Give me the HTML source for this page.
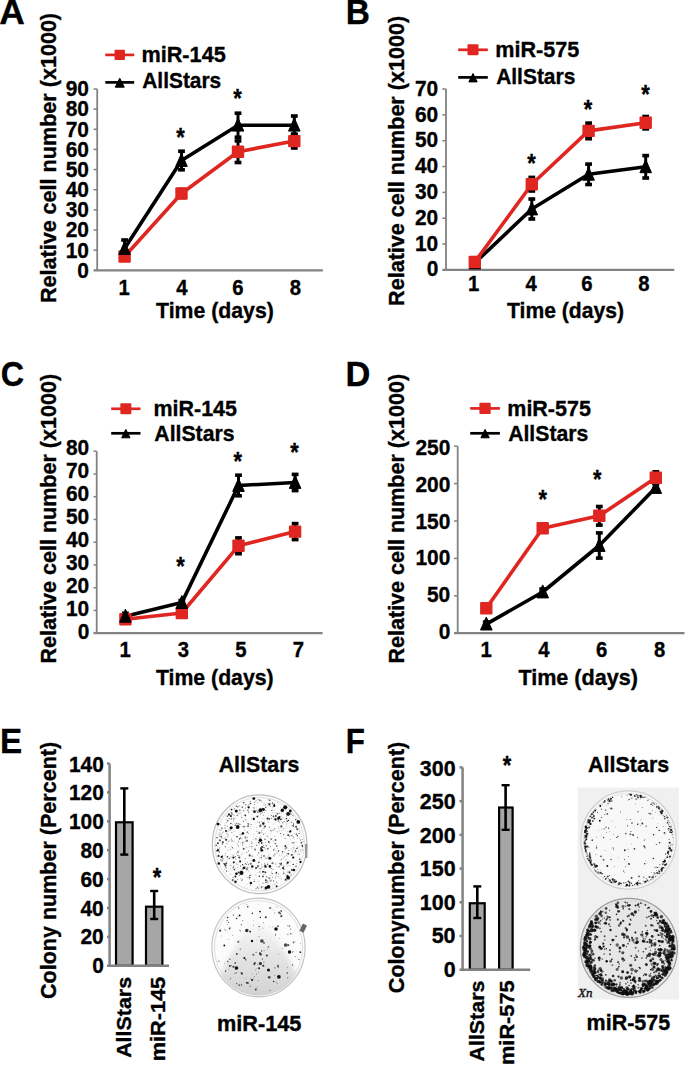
<!DOCTYPE html>
<html><head><meta charset="utf-8"><title>Figure</title>
<style>html,body{margin:0;padding:0;background:#fff;width:685px;height:1065px;overflow:hidden;}svg{display:block;font-family:"Liberation Sans",sans-serif;}</style>
</head><body>
<svg width="685" height="1065" viewBox="0 0 685 1065" font-family="Liberation Sans, sans-serif" font-weight="bold">
<style>text{stroke:#000;stroke-width:0.35px;}</style>
<rect width="685" height="1065" fill="#fff"/>
<defs><radialGradient id="smudge" cx="0.5" cy="0.5" r="0.5"><stop offset="0" stop-color="#c9c9c9" stop-opacity="0.85"/><stop offset="0.6" stop-color="#d4d4d4" stop-opacity="0.5"/><stop offset="1" stop-color="#dddddd" stop-opacity="0"/></radialGradient><radialGradient id="rimF" cx="0.5" cy="0.5" r="0.5"><stop offset="0.80" stop-color="#000" stop-opacity="0"/><stop offset="0.93" stop-color="#000" stop-opacity="0.25"/><stop offset="1" stop-color="#000" stop-opacity="0.5"/></radialGradient><filter id="bl" x="-10%" y="-10%" width="120%" height="120%"><feGaussianBlur stdDeviation="0.45"/></filter><filter id="bl2" x="-20%" y="-20%" width="140%" height="140%"><feGaussianBlur stdDeviation="2.5"/></filter></defs>
<ellipse cx="259.6" cy="844.2" rx="47.3" ry="49.4" fill="#fcfcfc" stroke="#bdbdbd" stroke-width="1.2"/><ellipse cx="259.6" cy="844.2" rx="44.8" ry="46.9" fill="none" stroke="#d6d6d6" stroke-width="0.8"/>
<g filter="url(#bl)">
<circle cx="256.5" cy="844.9" r="0.36" fill="#111" fill-opacity="0.80"/>
<circle cx="271.4" cy="872.0" r="0.39" fill="#111" fill-opacity="0.64"/>
<circle cx="287.8" cy="862.6" r="1.07" fill="#111" fill-opacity="0.99"/>
<circle cx="273.6" cy="855.2" r="0.35" fill="#111" fill-opacity="0.81"/>
<circle cx="261.3" cy="857.5" r="0.63" fill="#111" fill-opacity="0.78"/>
<circle cx="278.5" cy="826.7" r="0.39" fill="#111" fill-opacity="0.63"/>
<circle cx="283.8" cy="834.7" r="0.43" fill="#111" fill-opacity="0.98"/>
<circle cx="250.3" cy="803.6" r="0.76" fill="#111" fill-opacity="0.71"/>
<circle cx="222.0" cy="828.3" r="0.74" fill="#111" fill-opacity="0.65"/>
<circle cx="236.5" cy="806.3" r="0.79" fill="#111" fill-opacity="0.67"/>
<circle cx="265.0" cy="839.2" r="0.70" fill="#111" fill-opacity="0.65"/>
<circle cx="272.7" cy="807.8" r="0.37" fill="#111" fill-opacity="0.71"/>
<circle cx="241.8" cy="880.8" r="0.43" fill="#111" fill-opacity="0.94"/>
<circle cx="233.5" cy="821.2" r="0.40" fill="#111" fill-opacity="0.72"/>
<circle cx="267.1" cy="819.8" r="0.42" fill="#111" fill-opacity="0.78"/>
<circle cx="301.4" cy="842.7" r="0.88" fill="#111" fill-opacity="0.67"/>
<circle cx="288.5" cy="820.4" r="0.71" fill="#111" fill-opacity="0.98"/>
<circle cx="294.4" cy="854.0" r="0.35" fill="#111" fill-opacity="0.62"/>
<circle cx="278.2" cy="821.1" r="0.57" fill="#111" fill-opacity="0.72"/>
<circle cx="230.1" cy="865.1" r="0.37" fill="#111" fill-opacity="0.82"/>
<circle cx="291.7" cy="855.1" r="0.96" fill="#111" fill-opacity="0.68"/>
<circle cx="254.7" cy="802.4" r="0.42" fill="#111" fill-opacity="0.83"/>
<circle cx="226.1" cy="831.1" r="1.07" fill="#111" fill-opacity="0.86"/>
<circle cx="277.0" cy="852.2" r="0.35" fill="#111" fill-opacity="0.61"/>
<circle cx="296.9" cy="863.3" r="0.35" fill="#111" fill-opacity="0.85"/>
<circle cx="258.0" cy="866.1" r="1.10" fill="#111" fill-opacity="0.63"/>
<circle cx="281.2" cy="863.6" r="0.96" fill="#111" fill-opacity="0.74"/>
<circle cx="276.4" cy="882.3" r="0.44" fill="#111" fill-opacity="0.92"/>
<circle cx="292.7" cy="851.1" r="0.42" fill="#111" fill-opacity="0.83"/>
<circle cx="269.5" cy="804.3" r="1.09" fill="#111" fill-opacity="0.95"/>
<circle cx="280.4" cy="833.6" r="0.55" fill="#111" fill-opacity="0.78"/>
<circle cx="268.8" cy="842.4" r="0.67" fill="#111" fill-opacity="0.80"/>
<circle cx="270.0" cy="884.1" r="0.35" fill="#111" fill-opacity="0.72"/>
<circle cx="275.8" cy="815.9" r="0.94" fill="#111" fill-opacity="0.86"/>
<circle cx="254.3" cy="881.4" r="0.63" fill="#111" fill-opacity="0.68"/>
<circle cx="294.2" cy="833.2" r="0.40" fill="#111" fill-opacity="0.65"/>
<circle cx="259.3" cy="876.2" r="0.68" fill="#111" fill-opacity="0.98"/>
<circle cx="239.3" cy="812.8" r="0.38" fill="#111" fill-opacity="0.69"/>
<circle cx="251.8" cy="856.1" r="0.40" fill="#111" fill-opacity="0.94"/>
<circle cx="278.6" cy="850.9" r="0.78" fill="#111" fill-opacity="0.61"/>
<circle cx="226.5" cy="839.9" r="0.83" fill="#111" fill-opacity="0.69"/>
<circle cx="271.4" cy="839.1" r="0.62" fill="#111" fill-opacity="0.92"/>
<circle cx="232.2" cy="841.8" r="0.35" fill="#111" fill-opacity="0.79"/>
<circle cx="279.1" cy="813.7" r="0.41" fill="#111" fill-opacity="0.88"/>
<circle cx="261.5" cy="855.1" r="0.43" fill="#111" fill-opacity="0.92"/>
<circle cx="225.9" cy="839.8" r="0.95" fill="#111" fill-opacity="0.75"/>
<circle cx="265.9" cy="880.2" r="1.00" fill="#111" fill-opacity="0.79"/>
<circle cx="273.4" cy="816.2" r="0.81" fill="#111" fill-opacity="0.86"/>
<circle cx="279.4" cy="817.0" r="1.07" fill="#111" fill-opacity="0.99"/>
<circle cx="263.0" cy="871.8" r="0.95" fill="#111" fill-opacity="0.94"/>
<circle cx="245.8" cy="804.6" r="0.53" fill="#111" fill-opacity="0.91"/>
<circle cx="258.5" cy="799.4" r="0.35" fill="#111" fill-opacity="0.92"/>
<circle cx="229.8" cy="828.5" r="0.36" fill="#111" fill-opacity="0.66"/>
<circle cx="258.9" cy="886.9" r="0.37" fill="#111" fill-opacity="0.81"/>
<circle cx="240.5" cy="865.9" r="0.51" fill="#111" fill-opacity="0.94"/>
<circle cx="265.1" cy="826.3" r="0.85" fill="#111" fill-opacity="0.96"/>
<circle cx="233.0" cy="877.5" r="0.51" fill="#111" fill-opacity="0.83"/>
<circle cx="232.4" cy="847.6" r="0.57" fill="#111" fill-opacity="0.61"/>
<circle cx="302.3" cy="845.7" r="0.79" fill="#111" fill-opacity="0.83"/>
<circle cx="258.8" cy="862.3" r="0.52" fill="#111" fill-opacity="0.77"/>
<circle cx="238.6" cy="841.7" r="0.45" fill="#111" fill-opacity="0.93"/>
<circle cx="296.1" cy="842.0" r="0.36" fill="#111" fill-opacity="0.85"/>
<circle cx="231.8" cy="818.3" r="0.40" fill="#111" fill-opacity="0.74"/>
<circle cx="270.5" cy="806.7" r="0.35" fill="#111" fill-opacity="0.80"/>
<circle cx="236.9" cy="815.5" r="0.45" fill="#111" fill-opacity="0.75"/>
<circle cx="251.7" cy="847.0" r="0.37" fill="#111" fill-opacity="0.85"/>
<circle cx="269.8" cy="878.1" r="0.72" fill="#111" fill-opacity="0.92"/>
<circle cx="296.2" cy="826.7" r="0.97" fill="#111" fill-opacity="0.69"/>
<circle cx="226.3" cy="819.4" r="0.38" fill="#111" fill-opacity="0.64"/>
<circle cx="289.8" cy="836.8" r="0.36" fill="#111" fill-opacity="0.76"/>
<circle cx="260.1" cy="868.7" r="0.65" fill="#111" fill-opacity="0.68"/>
<circle cx="217.5" cy="849.1" r="0.54" fill="#111" fill-opacity="0.66"/>
<circle cx="230.9" cy="816.1" r="1.08" fill="#111" fill-opacity="0.97"/>
<circle cx="300.7" cy="840.6" r="0.40" fill="#111" fill-opacity="0.79"/>
<circle cx="261.0" cy="837.6" r="0.35" fill="#111" fill-opacity="0.88"/>
<circle cx="290.9" cy="813.9" r="0.71" fill="#111" fill-opacity="0.76"/>
<circle cx="231.9" cy="812.4" r="0.35" fill="#111" fill-opacity="0.96"/>
<circle cx="287.1" cy="863.6" r="0.60" fill="#111" fill-opacity="0.76"/>
<circle cx="287.3" cy="821.2" r="0.72" fill="#111" fill-opacity="0.91"/>
<circle cx="288.2" cy="835.2" r="0.90" fill="#111" fill-opacity="0.88"/>
<circle cx="283.9" cy="869.4" r="0.69" fill="#111" fill-opacity="0.63"/>
<circle cx="245.2" cy="841.2" r="0.41" fill="#111" fill-opacity="0.86"/>
<circle cx="274.7" cy="828.8" r="0.54" fill="#111" fill-opacity="0.81"/>
<circle cx="272.5" cy="863.3" r="1.06" fill="#111" fill-opacity="0.61"/>
<circle cx="270.1" cy="866.9" r="0.43" fill="#111" fill-opacity="0.62"/>
<circle cx="231.9" cy="832.4" r="0.38" fill="#111" fill-opacity="0.96"/>
<circle cx="272.2" cy="873.6" r="0.57" fill="#111" fill-opacity="0.90"/>
<circle cx="228.7" cy="841.5" r="0.49" fill="#111" fill-opacity="0.84"/>
<circle cx="252.4" cy="846.7" r="0.42" fill="#111" fill-opacity="0.71"/>
<circle cx="273.7" cy="850.0" r="0.69" fill="#111" fill-opacity="0.72"/>
<circle cx="288.4" cy="854.0" r="0.59" fill="#111" fill-opacity="0.78"/>
<circle cx="262.2" cy="808.5" r="0.63" fill="#111" fill-opacity="0.78"/>
<circle cx="238.0" cy="852.0" r="0.76" fill="#111" fill-opacity="0.81"/>
<circle cx="280.9" cy="819.3" r="0.92" fill="#111" fill-opacity="0.91"/>
<circle cx="271.0" cy="830.8" r="0.65" fill="#111" fill-opacity="0.83"/>
<circle cx="267.9" cy="856.8" r="0.36" fill="#111" fill-opacity="0.70"/>
<circle cx="252.8" cy="855.9" r="0.52" fill="#111" fill-opacity="0.63"/>
<circle cx="222.0" cy="860.9" r="0.60" fill="#111" fill-opacity="0.75"/>
<circle cx="257.6" cy="816.7" r="0.72" fill="#111" fill-opacity="0.94"/>
<circle cx="287.7" cy="856.0" r="0.37" fill="#111" fill-opacity="0.77"/>
<circle cx="237.6" cy="873.6" r="0.62" fill="#111" fill-opacity="1.00"/>
<circle cx="243.7" cy="848.8" r="0.97" fill="#111" fill-opacity="0.77"/>
<circle cx="247.7" cy="805.9" r="0.35" fill="#111" fill-opacity="0.63"/>
<circle cx="265.4" cy="842.8" r="0.39" fill="#111" fill-opacity="0.91"/>
<circle cx="274.4" cy="804.5" r="0.70" fill="#111" fill-opacity="0.88"/>
<circle cx="239.8" cy="810.3" r="0.70" fill="#111" fill-opacity="0.75"/>
<circle cx="224.8" cy="864.1" r="0.96" fill="#111" fill-opacity="0.98"/>
<circle cx="297.2" cy="838.3" r="0.39" fill="#111" fill-opacity="0.73"/>
<circle cx="250.5" cy="885.5" r="0.38" fill="#111" fill-opacity="0.74"/>
<circle cx="247.4" cy="831.2" r="0.43" fill="#111" fill-opacity="0.68"/>
<circle cx="265.4" cy="872.4" r="0.84" fill="#111" fill-opacity="0.83"/>
<circle cx="230.2" cy="868.8" r="0.39" fill="#111" fill-opacity="0.61"/>
<circle cx="261.0" cy="848.4" r="1.04" fill="#111" fill-opacity="0.86"/>
<circle cx="263.9" cy="871.6" r="0.35" fill="#111" fill-opacity="0.89"/>
<circle cx="271.8" cy="810.4" r="0.62" fill="#111" fill-opacity="0.70"/>
<circle cx="234.2" cy="869.4" r="0.74" fill="#111" fill-opacity="0.76"/>
<circle cx="275.3" cy="843.6" r="0.69" fill="#111" fill-opacity="0.88"/>
<circle cx="297.4" cy="835.7" r="0.63" fill="#111" fill-opacity="0.94"/>
<circle cx="287.4" cy="875.9" r="1.03" fill="#111" fill-opacity="0.86"/>
<circle cx="261.8" cy="864.2" r="0.44" fill="#111" fill-opacity="0.77"/>
<circle cx="248.3" cy="812.6" r="0.45" fill="#111" fill-opacity="0.72"/>
<circle cx="242.2" cy="807.6" r="0.76" fill="#111" fill-opacity="0.67"/>
<circle cx="219.8" cy="840.3" r="0.95" fill="#111" fill-opacity="0.61"/>
<circle cx="233.9" cy="819.1" r="0.57" fill="#111" fill-opacity="0.69"/>
<circle cx="230.9" cy="823.4" r="0.74" fill="#111" fill-opacity="0.72"/>
<circle cx="264.0" cy="874.3" r="0.38" fill="#111" fill-opacity="0.95"/>
<circle cx="297.3" cy="829.2" r="1.02" fill="#111" fill-opacity="0.79"/>
<circle cx="249.1" cy="846.8" r="0.38" fill="#111" fill-opacity="1.00"/>
<circle cx="273.9" cy="819.3" r="0.47" fill="#111" fill-opacity="0.75"/>
<circle cx="286.6" cy="864.5" r="0.36" fill="#111" fill-opacity="0.66"/>
<circle cx="243.4" cy="821.3" r="0.50" fill="#111" fill-opacity="0.85"/>
<circle cx="262.7" cy="811.0" r="0.35" fill="#111" fill-opacity="0.93"/>
<circle cx="291.1" cy="874.8" r="0.38" fill="#111" fill-opacity="0.89"/>
<circle cx="222.9" cy="842.3" r="1.02" fill="#111" fill-opacity="0.83"/>
<circle cx="292.1" cy="825.5" r="0.44" fill="#111" fill-opacity="0.97"/>
<circle cx="233.1" cy="848.3" r="0.36" fill="#111" fill-opacity="0.93"/>
<circle cx="242.4" cy="826.2" r="0.39" fill="#111" fill-opacity="0.79"/>
<circle cx="279.2" cy="830.9" r="0.35" fill="#111" fill-opacity="0.76"/>
<circle cx="256.1" cy="888.6" r="0.62" fill="#111" fill-opacity="0.60"/>
<circle cx="248.4" cy="864.2" r="0.54" fill="#111" fill-opacity="0.78"/>
<circle cx="286.8" cy="816.3" r="0.39" fill="#111" fill-opacity="0.75"/>
<circle cx="263.2" cy="825.0" r="0.43" fill="#111" fill-opacity="0.87"/>
<circle cx="237.4" cy="815.7" r="0.40" fill="#111" fill-opacity="0.98"/>
<circle cx="265.3" cy="865.5" r="0.83" fill="#111" fill-opacity="0.64"/>
<circle cx="275.8" cy="864.0" r="0.43" fill="#111" fill-opacity="0.93"/>
<circle cx="268.0" cy="805.3" r="0.36" fill="#111" fill-opacity="0.65"/>
<circle cx="251.1" cy="803.6" r="0.45" fill="#111" fill-opacity="0.80"/>
<circle cx="273.0" cy="869.6" r="0.43" fill="#111" fill-opacity="0.73"/>
<circle cx="286.0" cy="859.4" r="0.35" fill="#111" fill-opacity="0.73"/>
<circle cx="245.2" cy="858.5" r="0.42" fill="#111" fill-opacity="0.80"/>
<circle cx="285.9" cy="875.1" r="0.36" fill="#111" fill-opacity="0.91"/>
<circle cx="296.3" cy="848.8" r="0.49" fill="#111" fill-opacity="0.66"/>
<circle cx="271.2" cy="815.5" r="0.38" fill="#111" fill-opacity="0.83"/>
<circle cx="247.0" cy="840.7" r="1.05" fill="#111" fill-opacity="0.65"/>
<circle cx="296.4" cy="848.3" r="0.54" fill="#111" fill-opacity="0.71"/>
<circle cx="288.5" cy="853.8" r="0.82" fill="#111" fill-opacity="0.72"/>
<circle cx="295.7" cy="819.6" r="0.83" fill="#111" fill-opacity="0.67"/>
<circle cx="264.0" cy="803.9" r="0.36" fill="#111" fill-opacity="0.99"/>
<circle cx="299.6" cy="859.2" r="0.64" fill="#111" fill-opacity="0.90"/>
<circle cx="256.7" cy="810.3" r="0.54" fill="#111" fill-opacity="0.67"/>
<circle cx="261.4" cy="821.7" r="0.40" fill="#111" fill-opacity="0.86"/>
<circle cx="268.7" cy="841.3" r="0.59" fill="#111" fill-opacity="0.88"/>
<circle cx="283.1" cy="868.1" r="1.09" fill="#111" fill-opacity="0.94"/>
<circle cx="291.9" cy="835.6" r="0.54" fill="#111" fill-opacity="0.96"/>
<circle cx="262.0" cy="846.6" r="0.94" fill="#111" fill-opacity="0.73"/>
<circle cx="296.0" cy="866.2" r="0.73" fill="#111" fill-opacity="0.72"/>
<circle cx="268.1" cy="803.3" r="0.46" fill="#111" fill-opacity="0.80"/>
<circle cx="250.2" cy="801.6" r="0.51" fill="#111" fill-opacity="0.70"/>
<circle cx="242.0" cy="834.3" r="0.35" fill="#111" fill-opacity="0.96"/>
<circle cx="293.0" cy="836.7" r="0.37" fill="#111" fill-opacity="0.90"/>
<circle cx="265.7" cy="882.5" r="0.78" fill="#111" fill-opacity="0.65"/>
<circle cx="263.0" cy="887.0" r="0.38" fill="#111" fill-opacity="0.72"/>
<circle cx="243.7" cy="802.7" r="0.81" fill="#111" fill-opacity="0.76"/>
<circle cx="246.5" cy="852.3" r="0.35" fill="#111" fill-opacity="0.96"/>
<circle cx="303.0" cy="841.6" r="0.39" fill="#111" fill-opacity="0.97"/>
<circle cx="290.4" cy="830.3" r="0.36" fill="#111" fill-opacity="0.95"/>
<circle cx="271.6" cy="814.9" r="0.35" fill="#111" fill-opacity="0.64"/>
<circle cx="293.2" cy="864.4" r="0.66" fill="#111" fill-opacity="0.98"/>
<circle cx="254.6" cy="804.2" r="0.39" fill="#111" fill-opacity="0.88"/>
<circle cx="232.0" cy="813.9" r="0.63" fill="#111" fill-opacity="0.92"/>
<circle cx="267.8" cy="818.5" r="0.97" fill="#111" fill-opacity="0.87"/>
<circle cx="239.3" cy="857.5" r="1.07" fill="#111" fill-opacity="0.78"/>
<circle cx="262.2" cy="847.1" r="0.57" fill="#111" fill-opacity="0.71"/>
<circle cx="236.9" cy="873.0" r="0.39" fill="#111" fill-opacity="0.90"/>
<circle cx="236.5" cy="823.2" r="0.36" fill="#111" fill-opacity="0.96"/>
<circle cx="256.1" cy="868.0" r="0.98" fill="#111" fill-opacity="0.80"/>
<circle cx="230.5" cy="849.5" r="0.41" fill="#111" fill-opacity="0.86"/>
<circle cx="285.4" cy="845.8" r="0.85" fill="#111" fill-opacity="0.87"/>
<circle cx="261.5" cy="887.1" r="0.76" fill="#111" fill-opacity="0.67"/>
<circle cx="269.4" cy="819.1" r="0.75" fill="#111" fill-opacity="0.91"/>
<circle cx="286.1" cy="819.1" r="0.37" fill="#111" fill-opacity="0.83"/>
<circle cx="259.5" cy="800.1" r="0.68" fill="#111" fill-opacity="0.83"/>
<circle cx="259.2" cy="838.0" r="0.38" fill="#111" fill-opacity="0.92"/>
<circle cx="235.8" cy="810.6" r="0.35" fill="#111" fill-opacity="0.73"/>
<circle cx="270.6" cy="846.6" r="0.56" fill="#111" fill-opacity="0.64"/>
<circle cx="288.8" cy="813.0" r="0.36" fill="#111" fill-opacity="0.88"/>
<circle cx="289.7" cy="871.4" r="0.44" fill="#111" fill-opacity="0.75"/>
<circle cx="217.9" cy="843.2" r="1.08" fill="#111" fill-opacity="0.66"/>
<circle cx="255.5" cy="867.5" r="0.37" fill="#111" fill-opacity="0.96"/>
<circle cx="227.0" cy="834.0" r="0.45" fill="#111" fill-opacity="0.63"/>
<circle cx="283.6" cy="866.4" r="0.38" fill="#111" fill-opacity="0.82"/>
<circle cx="269.7" cy="800.5" r="0.62" fill="#111" fill-opacity="0.62"/>
<circle cx="267.8" cy="880.9" r="0.43" fill="#111" fill-opacity="0.94"/>
<circle cx="248.8" cy="870.9" r="0.41" fill="#111" fill-opacity="0.67"/>
<circle cx="264.1" cy="812.3" r="0.37" fill="#111" fill-opacity="0.79"/>
<circle cx="275.9" cy="878.7" r="0.42" fill="#111" fill-opacity="0.63"/>
<circle cx="277.0" cy="831.2" r="0.35" fill="#111" fill-opacity="0.67"/>
<circle cx="279.2" cy="822.2" r="0.36" fill="#111" fill-opacity="0.97"/>
<circle cx="246.8" cy="869.4" r="0.94" fill="#111" fill-opacity="0.61"/>
<circle cx="243.4" cy="833.2" r="0.91" fill="#111" fill-opacity="0.73"/>
<circle cx="284.2" cy="846.0" r="0.43" fill="#111" fill-opacity="0.70"/>
<circle cx="268.3" cy="799.7" r="0.45" fill="#111" fill-opacity="0.82"/>
<circle cx="226.5" cy="863.8" r="0.70" fill="#111" fill-opacity="0.87"/>
<circle cx="227.5" cy="816.2" r="0.68" fill="#111" fill-opacity="0.76"/>
<circle cx="249.3" cy="879.0" r="0.39" fill="#111" fill-opacity="0.74"/>
<circle cx="233.8" cy="862.2" r="1.02" fill="#111" fill-opacity="0.95"/>
<circle cx="235.4" cy="856.8" r="0.45" fill="#111" fill-opacity="0.76"/>
<circle cx="219.6" cy="833.1" r="0.49" fill="#111" fill-opacity="0.71"/>
<circle cx="228.5" cy="834.9" r="0.36" fill="#111" fill-opacity="0.87"/>
<circle cx="245.2" cy="836.8" r="0.56" fill="#111" fill-opacity="0.88"/>
<circle cx="264.4" cy="863.2" r="0.43" fill="#111" fill-opacity="0.75"/>
<circle cx="219.8" cy="835.1" r="0.49" fill="#111" fill-opacity="0.83"/>
<circle cx="256.8" cy="827.6" r="0.35" fill="#111" fill-opacity="0.74"/>
<circle cx="295.3" cy="850.4" r="0.63" fill="#111" fill-opacity="0.67"/>
<circle cx="284.3" cy="856.3" r="0.44" fill="#111" fill-opacity="0.77"/>
<circle cx="239.2" cy="875.5" r="0.42" fill="#111" fill-opacity="0.96"/>
<circle cx="260.2" cy="826.0" r="1.06" fill="#111" fill-opacity="0.66"/>
<circle cx="231.6" cy="818.4" r="0.37" fill="#111" fill-opacity="0.60"/>
<circle cx="263.6" cy="834.1" r="0.49" fill="#111" fill-opacity="0.86"/>
<circle cx="264.0" cy="856.0" r="0.83" fill="#111" fill-opacity="0.99"/>
<circle cx="242.6" cy="864.7" r="0.65" fill="#111" fill-opacity="0.99"/>
<circle cx="289.1" cy="811.8" r="0.49" fill="#111" fill-opacity="0.83"/>
<circle cx="247.7" cy="823.8" r="0.52" fill="#111" fill-opacity="0.69"/>
<circle cx="236.8" cy="827.6" r="0.50" fill="#111" fill-opacity="0.65"/>
<circle cx="223.4" cy="863.7" r="0.46" fill="#111" fill-opacity="0.91"/>
<circle cx="257.8" cy="812.1" r="0.89" fill="#111" fill-opacity="0.62"/>
<circle cx="237.2" cy="844.9" r="0.43" fill="#111" fill-opacity="0.89"/>
<circle cx="237.0" cy="864.7" r="0.40" fill="#111" fill-opacity="0.90"/>
<circle cx="290.8" cy="875.4" r="0.44" fill="#111" fill-opacity="0.88"/>
<circle cx="270.8" cy="875.6" r="0.36" fill="#111" fill-opacity="0.75"/>
<circle cx="275.0" cy="818.6" r="0.35" fill="#111" fill-opacity="0.83"/>
<circle cx="226.3" cy="862.0" r="0.60" fill="#111" fill-opacity="0.76"/>
<circle cx="225.0" cy="828.1" r="0.52" fill="#111" fill-opacity="0.79"/>
<circle cx="248.1" cy="826.1" r="0.84" fill="#111" fill-opacity="0.71"/>
<circle cx="249.7" cy="855.4" r="1.07" fill="#111" fill-opacity="0.76"/>
<circle cx="277.3" cy="848.6" r="0.36" fill="#111" fill-opacity="0.67"/>
<circle cx="237.0" cy="843.1" r="0.40" fill="#111" fill-opacity="0.61"/>
<circle cx="265.6" cy="810.3" r="0.38" fill="#111" fill-opacity="0.69"/>
<circle cx="258.0" cy="831.5" r="0.35" fill="#111" fill-opacity="0.63"/>
<circle cx="295.3" cy="826.1" r="0.36" fill="#111" fill-opacity="0.79"/>
<circle cx="293.0" cy="842.7" r="0.80" fill="#111" fill-opacity="0.76"/>
<circle cx="219.3" cy="849.0" r="0.59" fill="#111" fill-opacity="0.71"/>
<circle cx="290.0" cy="865.6" r="0.35" fill="#111" fill-opacity="0.67"/>
<circle cx="246.8" cy="868.3" r="0.50" fill="#111" fill-opacity="0.60"/>
<circle cx="287.8" cy="872.0" r="0.43" fill="#111" fill-opacity="0.92"/>
<circle cx="250.7" cy="863.7" r="0.95" fill="#111" fill-opacity="0.61"/>
<circle cx="266.6" cy="818.3" r="0.42" fill="#111" fill-opacity="0.86"/>
<circle cx="287.9" cy="831.3" r="0.41" fill="#111" fill-opacity="0.71"/>
<circle cx="296.5" cy="827.3" r="0.40" fill="#111" fill-opacity="0.90"/>
<circle cx="233.3" cy="867.3" r="0.65" fill="#111" fill-opacity="0.67"/>
<circle cx="246.0" cy="837.6" r="0.49" fill="#111" fill-opacity="0.76"/>
<circle cx="243.3" cy="868.3" r="1.08" fill="#111" fill-opacity="0.77"/>
<circle cx="251.2" cy="863.8" r="0.38" fill="#111" fill-opacity="0.87"/>
<circle cx="227.6" cy="857.0" r="0.61" fill="#111" fill-opacity="0.68"/>
<circle cx="270.2" cy="881.0" r="0.60" fill="#111" fill-opacity="0.80"/>
<circle cx="265.8" cy="807.5" r="0.66" fill="#111" fill-opacity="0.78"/>
<circle cx="274.7" cy="836.5" r="0.37" fill="#111" fill-opacity="0.84"/>
<circle cx="266.2" cy="845.6" r="0.59" fill="#111" fill-opacity="0.78"/>
<circle cx="281.3" cy="826.4" r="1.08" fill="#111" fill-opacity="0.76"/>
<circle cx="235.4" cy="876.5" r="0.99" fill="#111" fill-opacity="0.93"/>
<circle cx="278.9" cy="820.5" r="0.46" fill="#111" fill-opacity="0.81"/>
<circle cx="292.9" cy="815.3" r="0.61" fill="#111" fill-opacity="0.63"/>
<circle cx="264.6" cy="871.5" r="0.37" fill="#111" fill-opacity="0.92"/>
<circle cx="291.9" cy="869.9" r="0.94" fill="#111" fill-opacity="0.92"/>
<circle cx="227.9" cy="831.5" r="0.35" fill="#111" fill-opacity="0.74"/>
<circle cx="249.5" cy="877.4" r="0.94" fill="#111" fill-opacity="0.63"/>
<circle cx="271.4" cy="880.0" r="0.37" fill="#111" fill-opacity="0.87"/>
<circle cx="245.0" cy="826.7" r="0.38" fill="#111" fill-opacity="0.84"/>
<circle cx="277.3" cy="813.9" r="0.66" fill="#111" fill-opacity="0.79"/>
<circle cx="299.7" cy="854.7" r="0.37" fill="#111" fill-opacity="1.00"/>
<circle cx="277.0" cy="866.6" r="0.40" fill="#111" fill-opacity="0.76"/>
<circle cx="227.4" cy="856.7" r="0.82" fill="#111" fill-opacity="0.76"/>
<circle cx="245.6" cy="863.5" r="0.55" fill="#111" fill-opacity="0.71"/>
<circle cx="293.5" cy="823.9" r="0.64" fill="#111" fill-opacity="0.78"/>
<circle cx="299.1" cy="833.5" r="0.57" fill="#111" fill-opacity="0.78"/>
<circle cx="219.9" cy="836.5" r="0.46" fill="#111" fill-opacity="0.98"/>
<circle cx="240.8" cy="862.7" r="0.38" fill="#111" fill-opacity="0.76"/>
<circle cx="237.0" cy="836.7" r="0.82" fill="#111" fill-opacity="0.94"/>
<circle cx="267.9" cy="848.6" r="0.93" fill="#111" fill-opacity="0.64"/>
<circle cx="247.2" cy="832.3" r="0.64" fill="#111" fill-opacity="0.74"/>
<circle cx="256.8" cy="831.1" r="0.40" fill="#111" fill-opacity="0.87"/>
<circle cx="250.1" cy="875.4" r="0.67" fill="#111" fill-opacity="1.00"/>
<circle cx="220.2" cy="840.6" r="0.62" fill="#111" fill-opacity="0.69"/>
<circle cx="247.8" cy="810.3" r="0.72" fill="#111" fill-opacity="0.63"/>
<circle cx="229.3" cy="858.4" r="0.72" fill="#111" fill-opacity="0.70"/>
<circle cx="287.9" cy="866.1" r="0.35" fill="#111" fill-opacity="0.79"/>
<circle cx="262.9" cy="847.4" r="0.77" fill="#111" fill-opacity="0.72"/>
<circle cx="260.3" cy="808.5" r="0.36" fill="#111" fill-opacity="0.64"/>
<circle cx="260.7" cy="824.6" r="0.38" fill="#111" fill-opacity="0.77"/>
<circle cx="255.2" cy="849.7" r="0.86" fill="#111" fill-opacity="0.64"/>
<circle cx="302.4" cy="846.6" r="0.58" fill="#111" fill-opacity="0.95"/>
<circle cx="301.8" cy="836.0" r="0.36" fill="#111" fill-opacity="0.93"/>
<circle cx="280.9" cy="864.4" r="0.51" fill="#111" fill-opacity="0.61"/>
<circle cx="272.6" cy="877.2" r="0.44" fill="#111" fill-opacity="0.63"/>
<circle cx="237.8" cy="807.3" r="0.40" fill="#111" fill-opacity="0.80"/>
<circle cx="273.6" cy="880.9" r="0.54" fill="#111" fill-opacity="0.80"/>
<circle cx="296.4" cy="834.2" r="0.71" fill="#111" fill-opacity="0.70"/>
<circle cx="247.6" cy="837.5" r="0.41" fill="#111" fill-opacity="0.77"/>
<circle cx="255.1" cy="801.4" r="0.35" fill="#111" fill-opacity="0.81"/>
<circle cx="263.9" cy="834.7" r="0.35" fill="#111" fill-opacity="0.75"/>
<circle cx="242.7" cy="842.7" r="0.73" fill="#111" fill-opacity="0.79"/>
<circle cx="268.1" cy="888.0" r="0.57" fill="#111" fill-opacity="0.75"/>
<circle cx="241.5" cy="854.6" r="0.40" fill="#111" fill-opacity="0.80"/>
<circle cx="261.1" cy="868.3" r="0.35" fill="#111" fill-opacity="0.70"/>
<circle cx="238.7" cy="872.3" r="0.87" fill="#111" fill-opacity="0.76"/>
<circle cx="240.1" cy="861.3" r="1.07" fill="#111" fill-opacity="0.93"/>
<circle cx="244.0" cy="826.8" r="0.77" fill="#111" fill-opacity="0.86"/>
<circle cx="218.5" cy="856.0" r="0.98" fill="#111" fill-opacity="0.86"/>
<circle cx="282.6" cy="851.8" r="0.71" fill="#111" fill-opacity="0.77"/>
<circle cx="285.2" cy="838.5" r="0.42" fill="#111" fill-opacity="0.78"/>
<circle cx="253.9" cy="807.9" r="0.71" fill="#111" fill-opacity="0.63"/>
<circle cx="274.7" cy="848.8" r="0.35" fill="#111" fill-opacity="0.72"/>
<circle cx="300.9" cy="849.9" r="0.37" fill="#111" fill-opacity="0.77"/>
<circle cx="262.9" cy="876.4" r="0.89" fill="#111" fill-opacity="0.79"/>
<circle cx="217.0" cy="837.7" r="0.64" fill="#111" fill-opacity="0.97"/>
<circle cx="259.0" cy="862.2" r="0.76" fill="#111" fill-opacity="0.64"/>
<circle cx="281.7" cy="812.5" r="0.37" fill="#111" fill-opacity="0.74"/>
<circle cx="229.0" cy="829.9" r="0.51" fill="#111" fill-opacity="0.76"/>
<circle cx="266.4" cy="876.7" r="0.56" fill="#111" fill-opacity="0.79"/>
<circle cx="277.6" cy="818.9" r="0.70" fill="#111" fill-opacity="0.83"/>
<circle cx="289.2" cy="832.6" r="0.45" fill="#111" fill-opacity="0.85"/>
<circle cx="265.0" cy="889.4" r="0.46" fill="#111" fill-opacity="0.79"/>
<circle cx="235.2" cy="868.2" r="0.39" fill="#111" fill-opacity="0.94"/>
<circle cx="265.8" cy="849.1" r="0.36" fill="#111" fill-opacity="0.98"/>
<circle cx="283.7" cy="873.2" r="0.77" fill="#111" fill-opacity="0.69"/>
<circle cx="232.2" cy="847.5" r="0.35" fill="#111" fill-opacity="0.91"/>
<circle cx="267.1" cy="882.1" r="0.66" fill="#111" fill-opacity="0.75"/>
<circle cx="240.6" cy="878.2" r="0.38" fill="#111" fill-opacity="0.70"/>
<circle cx="237.2" cy="824.5" r="0.36" fill="#111" fill-opacity="0.79"/>
<circle cx="238.9" cy="823.8" r="0.50" fill="#111" fill-opacity="0.95"/>
<circle cx="291.9" cy="854.6" r="0.71" fill="#111" fill-opacity="0.81"/>
<circle cx="274.2" cy="884.0" r="0.38" fill="#111" fill-opacity="0.62"/>
<circle cx="299.3" cy="831.2" r="0.37" fill="#111" fill-opacity="0.78"/>
<circle cx="260.1" cy="850.5" r="0.37" fill="#111" fill-opacity="0.98"/>
<circle cx="273.9" cy="803.5" r="0.35" fill="#111" fill-opacity="0.83"/>
<circle cx="242.2" cy="879.6" r="0.63" fill="#111" fill-opacity="0.63"/>
<circle cx="216.8" cy="850.9" r="0.65" fill="#111" fill-opacity="0.94"/>
<circle cx="285.5" cy="846.2" r="0.51" fill="#111" fill-opacity="0.67"/>
<circle cx="262.0" cy="830.4" r="0.37" fill="#111" fill-opacity="0.88"/>
<circle cx="252.1" cy="842.9" r="0.48" fill="#111" fill-opacity="0.82"/>
<circle cx="302.6" cy="850.0" r="0.39" fill="#111" fill-opacity="0.73"/>
<circle cx="258.7" cy="852.8" r="0.58" fill="#111" fill-opacity="0.85"/>
<circle cx="261.4" cy="887.9" r="0.35" fill="#111" fill-opacity="0.95"/>
<circle cx="276.8" cy="846.1" r="0.73" fill="#111" fill-opacity="0.92"/>
<circle cx="289.9" cy="835.4" r="0.41" fill="#111" fill-opacity="0.61"/>
<circle cx="284.2" cy="821.6" r="0.51" fill="#111" fill-opacity="0.73"/>
<circle cx="275.5" cy="839.9" r="0.90" fill="#111" fill-opacity="0.67"/>
<circle cx="227.7" cy="820.8" r="0.77" fill="#111" fill-opacity="0.73"/>
<circle cx="235.8" cy="858.9" r="0.51" fill="#111" fill-opacity="0.70"/>
<circle cx="235.2" cy="825.3" r="0.70" fill="#111" fill-opacity="0.87"/>
<circle cx="286.0" cy="848.0" r="0.74" fill="#111" fill-opacity="0.70"/>
<circle cx="226.4" cy="871.7" r="0.41" fill="#111" fill-opacity="0.92"/>
<circle cx="248.6" cy="824.0" r="0.72" fill="#111" fill-opacity="0.79"/>
<circle cx="259.5" cy="832.8" r="0.96" fill="#111" fill-opacity="0.66"/>
<circle cx="232.8" cy="880.1" r="0.98" fill="#111" fill-opacity="0.74"/>
<circle cx="231.6" cy="809.6" r="0.91" fill="#111" fill-opacity="0.89"/>
<circle cx="300.5" cy="839.8" r="0.35" fill="#111" fill-opacity="0.71"/>
<circle cx="230.9" cy="829.7" r="0.39" fill="#111" fill-opacity="0.67"/>
<circle cx="225.3" cy="846.8" r="0.54" fill="#111" fill-opacity="0.90"/>
<circle cx="262.0" cy="886.7" r="0.37" fill="#111" fill-opacity="0.63"/>
<circle cx="259.9" cy="811.9" r="0.54" fill="#111" fill-opacity="0.72"/>
<circle cx="283.5" cy="834.8" r="0.36" fill="#111" fill-opacity="0.67"/>
<circle cx="281.1" cy="816.8" r="0.37" fill="#111" fill-opacity="0.92"/>
<circle cx="259.5" cy="858.7" r="0.36" fill="#111" fill-opacity="0.61"/>
<circle cx="237.8" cy="855.5" r="0.47" fill="#111" fill-opacity="0.85"/>
<circle cx="267.0" cy="836.3" r="0.47" fill="#111" fill-opacity="0.73"/>
<circle cx="240.4" cy="812.9" r="0.37" fill="#111" fill-opacity="0.83"/>
<circle cx="239.9" cy="805.9" r="0.41" fill="#111" fill-opacity="0.82"/>
<circle cx="259.3" cy="884.3" r="0.42" fill="#111" fill-opacity="0.60"/>
<circle cx="259.3" cy="822.3" r="0.60" fill="#111" fill-opacity="0.78"/>
<circle cx="222.3" cy="844.0" r="0.61" fill="#111" fill-opacity="0.99"/>
<circle cx="239.6" cy="838.8" r="0.79" fill="#111" fill-opacity="0.69"/>
<circle cx="289.5" cy="872.5" r="0.94" fill="#111" fill-opacity="0.80"/>
<circle cx="258.7" cy="842.5" r="0.85" fill="#111" fill-opacity="0.80"/>
<circle cx="245.3" cy="815.4" r="0.84" fill="#111" fill-opacity="0.92"/>
<circle cx="276.4" cy="872.5" r="0.80" fill="#111" fill-opacity="0.92"/>
<circle cx="230.1" cy="874.1" r="0.38" fill="#111" fill-opacity="0.97"/>
<circle cx="216.2" cy="845.3" r="0.78" fill="#111" fill-opacity="0.84"/>
<circle cx="272.7" cy="802.8" r="0.35" fill="#111" fill-opacity="0.99"/>
<circle cx="293.4" cy="826.2" r="0.66" fill="#111" fill-opacity="0.90"/>
<circle cx="225.5" cy="865.7" r="0.88" fill="#111" fill-opacity="0.91"/>
<circle cx="285.6" cy="879.7" r="1.00" fill="#111" fill-opacity="0.86"/>
<circle cx="258.9" cy="833.2" r="0.35" fill="#111" fill-opacity="0.66"/>
<circle cx="286.5" cy="818.4" r="0.76" fill="#111" fill-opacity="0.88"/>
<circle cx="261.0" cy="826.7" r="0.36" fill="#111" fill-opacity="0.86"/>
<circle cx="276.6" cy="886.2" r="0.98" fill="#111" fill-opacity="0.96"/>
<circle cx="270.5" cy="888.1" r="0.40" fill="#111" fill-opacity="0.71"/>
<circle cx="261.7" cy="843.0" r="0.88" fill="#111" fill-opacity="0.81"/>
<circle cx="257.1" cy="867.4" r="0.37" fill="#111" fill-opacity="0.83"/>
<circle cx="236.1" cy="827.8" r="0.35" fill="#111" fill-opacity="0.74"/>
<circle cx="262.0" cy="886.8" r="0.41" fill="#111" fill-opacity="0.39"/>
<circle cx="225.2" cy="837.8" r="0.57" fill="#111" fill-opacity="0.44"/>
<circle cx="272.4" cy="885.8" r="0.35" fill="#111" fill-opacity="0.44"/>
<circle cx="231.3" cy="869.5" r="0.32" fill="#111" fill-opacity="0.44"/>
<circle cx="238.9" cy="865.1" r="0.37" fill="#111" fill-opacity="0.52"/>
<circle cx="273.0" cy="863.8" r="0.41" fill="#111" fill-opacity="0.29"/>
<circle cx="257.3" cy="887.4" r="0.31" fill="#111" fill-opacity="0.27"/>
<circle cx="238.6" cy="862.7" r="0.32" fill="#111" fill-opacity="0.40"/>
<circle cx="266.3" cy="867.4" r="0.51" fill="#111" fill-opacity="0.49"/>
<circle cx="270.1" cy="801.1" r="0.32" fill="#111" fill-opacity="0.27"/>
<circle cx="220.7" cy="833.8" r="0.31" fill="#111" fill-opacity="0.58"/>
<circle cx="291.6" cy="842.9" r="0.37" fill="#111" fill-opacity="0.59"/>
<circle cx="225.0" cy="825.6" r="0.62" fill="#111" fill-opacity="0.43"/>
<circle cx="237.5" cy="871.9" r="0.42" fill="#111" fill-opacity="0.38"/>
<circle cx="253.9" cy="839.7" r="0.50" fill="#111" fill-opacity="0.39"/>
<circle cx="241.7" cy="870.1" r="0.43" fill="#111" fill-opacity="0.56"/>
<circle cx="250.6" cy="860.5" r="0.36" fill="#111" fill-opacity="0.50"/>
<circle cx="300.5" cy="859.0" r="0.41" fill="#111" fill-opacity="0.48"/>
<circle cx="234.7" cy="869.9" r="0.69" fill="#111" fill-opacity="0.37"/>
<circle cx="252.0" cy="869.5" r="0.49" fill="#111" fill-opacity="0.33"/>
<circle cx="219.5" cy="852.1" r="0.61" fill="#111" fill-opacity="0.39"/>
<circle cx="267.8" cy="864.4" r="0.56" fill="#111" fill-opacity="0.45"/>
<circle cx="237.0" cy="863.7" r="0.46" fill="#111" fill-opacity="0.60"/>
<circle cx="226.5" cy="870.9" r="0.55" fill="#111" fill-opacity="0.58"/>
<circle cx="239.1" cy="850.6" r="0.44" fill="#111" fill-opacity="0.31"/>
<circle cx="271.0" cy="881.6" r="0.36" fill="#111" fill-opacity="0.53"/>
<circle cx="252.3" cy="810.5" r="0.42" fill="#111" fill-opacity="0.44"/>
<circle cx="300.9" cy="830.2" r="0.31" fill="#111" fill-opacity="0.36"/>
<circle cx="277.1" cy="862.3" r="0.39" fill="#111" fill-opacity="0.35"/>
<circle cx="246.7" cy="847.7" r="0.39" fill="#111" fill-opacity="0.48"/>
<circle cx="227.6" cy="826.3" r="0.66" fill="#111" fill-opacity="0.34"/>
<circle cx="281.3" cy="821.8" r="0.53" fill="#111" fill-opacity="0.26"/>
<circle cx="233.3" cy="863.5" r="0.38" fill="#111" fill-opacity="0.56"/>
<circle cx="234.0" cy="841.7" r="0.42" fill="#111" fill-opacity="0.53"/>
<circle cx="234.4" cy="817.9" r="0.32" fill="#111" fill-opacity="0.59"/>
<circle cx="245.2" cy="838.5" r="0.60" fill="#111" fill-opacity="0.57"/>
<circle cx="275.7" cy="813.0" r="0.54" fill="#111" fill-opacity="0.33"/>
<circle cx="234.7" cy="831.3" r="0.54" fill="#111" fill-opacity="0.27"/>
<circle cx="277.4" cy="802.7" r="0.46" fill="#111" fill-opacity="0.45"/>
<circle cx="268.7" cy="878.6" r="0.31" fill="#111" fill-opacity="0.26"/>
<circle cx="277.5" cy="813.5" r="0.52" fill="#111" fill-opacity="0.49"/>
<circle cx="243.4" cy="841.1" r="0.47" fill="#111" fill-opacity="0.37"/>
<circle cx="246.9" cy="820.3" r="0.35" fill="#111" fill-opacity="0.26"/>
<circle cx="242.3" cy="852.9" r="0.32" fill="#111" fill-opacity="0.55"/>
<circle cx="256.8" cy="845.3" r="0.63" fill="#111" fill-opacity="0.51"/>
<circle cx="270.8" cy="859.3" r="0.44" fill="#111" fill-opacity="0.39"/>
<circle cx="249.6" cy="844.6" r="0.45" fill="#111" fill-opacity="0.44"/>
<circle cx="286.6" cy="855.6" r="0.33" fill="#111" fill-opacity="0.55"/>
<circle cx="290.2" cy="861.6" r="0.56" fill="#111" fill-opacity="0.41"/>
<circle cx="263.6" cy="845.6" r="0.62" fill="#111" fill-opacity="0.43"/>
<circle cx="227.6" cy="833.7" r="0.31" fill="#111" fill-opacity="0.45"/>
<circle cx="299.6" cy="838.1" r="0.48" fill="#111" fill-opacity="0.45"/>
<circle cx="229.9" cy="840.8" r="0.52" fill="#111" fill-opacity="0.33"/>
<circle cx="254.8" cy="848.3" r="0.48" fill="#111" fill-opacity="0.47"/>
<circle cx="273.9" cy="817.1" r="0.57" fill="#111" fill-opacity="0.37"/>
<circle cx="301.3" cy="849.8" r="0.50" fill="#111" fill-opacity="0.34"/>
<circle cx="288.2" cy="865.5" r="0.31" fill="#111" fill-opacity="0.26"/>
<circle cx="286.7" cy="810.0" r="0.30" fill="#111" fill-opacity="0.31"/>
<circle cx="257.2" cy="887.7" r="0.35" fill="#111" fill-opacity="0.54"/>
<circle cx="230.9" cy="857.0" r="0.66" fill="#111" fill-opacity="0.27"/>
<circle cx="265.3" cy="833.1" r="0.35" fill="#111" fill-opacity="0.50"/>
<circle cx="235.9" cy="823.2" r="0.52" fill="#111" fill-opacity="0.27"/>
<circle cx="231.1" cy="819.2" r="0.61" fill="#111" fill-opacity="0.50"/>
<circle cx="271.2" cy="833.1" r="0.44" fill="#111" fill-opacity="0.27"/>
<circle cx="258.9" cy="833.2" r="0.30" fill="#111" fill-opacity="0.26"/>
<circle cx="244.1" cy="810.8" r="0.65" fill="#111" fill-opacity="0.31"/>
<circle cx="259.6" cy="844.2" r="0.47" fill="#111" fill-opacity="0.33"/>
<circle cx="231.4" cy="865.5" r="0.62" fill="#111" fill-opacity="0.26"/>
<circle cx="231.3" cy="841.1" r="0.50" fill="#111" fill-opacity="0.51"/>
<circle cx="283.4" cy="865.3" r="0.60" fill="#111" fill-opacity="0.30"/>
<circle cx="248.8" cy="804.9" r="0.61" fill="#111" fill-opacity="0.46"/>
<circle cx="224.3" cy="823.9" r="0.32" fill="#111" fill-opacity="0.32"/>
<circle cx="272.4" cy="812.7" r="0.46" fill="#111" fill-opacity="0.38"/>
<circle cx="227.7" cy="850.7" r="0.40" fill="#111" fill-opacity="0.42"/>
<circle cx="217.7" cy="855.1" r="0.38" fill="#111" fill-opacity="0.25"/>
<circle cx="294.9" cy="852.5" r="0.46" fill="#111" fill-opacity="0.58"/>
<circle cx="226.1" cy="833.1" r="0.39" fill="#111" fill-opacity="0.50"/>
<circle cx="240.0" cy="824.5" r="0.58" fill="#111" fill-opacity="0.49"/>
<circle cx="249.9" cy="877.7" r="0.32" fill="#111" fill-opacity="0.59"/>
<circle cx="281.5" cy="879.0" r="0.49" fill="#111" fill-opacity="0.59"/>
<circle cx="295.8" cy="851.5" r="0.70" fill="#111" fill-opacity="0.54"/>
<circle cx="227.2" cy="835.1" r="0.32" fill="#111" fill-opacity="0.52"/>
<circle cx="219.8" cy="856.4" r="0.37" fill="#111" fill-opacity="0.46"/>
<circle cx="231.5" cy="839.2" r="0.69" fill="#111" fill-opacity="0.34"/>
<circle cx="247.4" cy="862.6" r="0.61" fill="#111" fill-opacity="0.32"/>
<circle cx="264.8" cy="828.9" r="0.30" fill="#111" fill-opacity="0.25"/>
<circle cx="272.1" cy="802.9" r="0.34" fill="#111" fill-opacity="0.42"/>
<circle cx="279.9" cy="878.1" r="0.41" fill="#111" fill-opacity="0.36"/>
<circle cx="250.3" cy="826.4" r="0.43" fill="#111" fill-opacity="0.49"/>
<circle cx="227.9" cy="871.1" r="0.34" fill="#111" fill-opacity="0.47"/>
<circle cx="251.8" cy="814.1" r="0.47" fill="#111" fill-opacity="0.49"/>
<circle cx="255.9" cy="875.0" r="0.46" fill="#111" fill-opacity="0.55"/>
<circle cx="248.0" cy="807.4" r="0.30" fill="#111" fill-opacity="0.33"/>
<circle cx="219.9" cy="847.2" r="0.49" fill="#111" fill-opacity="0.54"/>
<circle cx="245.4" cy="808.1" r="0.55" fill="#111" fill-opacity="0.56"/>
<circle cx="240.2" cy="870.3" r="0.43" fill="#111" fill-opacity="0.25"/>
<circle cx="257.5" cy="821.7" r="0.45" fill="#111" fill-opacity="0.43"/>
<circle cx="286.2" cy="824.3" r="0.44" fill="#111" fill-opacity="0.53"/>
<circle cx="250.0" cy="884.2" r="0.40" fill="#111" fill-opacity="0.42"/>
<circle cx="218.3" cy="834.7" r="0.52" fill="#111" fill-opacity="0.30"/>
<circle cx="227.7" cy="836.9" r="0.57" fill="#111" fill-opacity="0.41"/>
<circle cx="241.0" cy="831.6" r="0.34" fill="#111" fill-opacity="0.25"/>
<circle cx="294.7" cy="842.6" r="0.32" fill="#111" fill-opacity="0.56"/>
<circle cx="275.5" cy="817.0" r="0.49" fill="#111" fill-opacity="0.27"/>
<circle cx="299.2" cy="828.5" r="0.58" fill="#111" fill-opacity="0.29"/>
<circle cx="256.9" cy="882.3" r="0.34" fill="#111" fill-opacity="0.27"/>
<circle cx="269.0" cy="841.4" r="0.65" fill="#111" fill-opacity="0.32"/>
<circle cx="272.6" cy="803.7" r="0.67" fill="#111" fill-opacity="0.47"/>
<circle cx="243.3" cy="865.5" r="0.58" fill="#111" fill-opacity="0.26"/>
<circle cx="260.0" cy="810.0" r="0.67" fill="#111" fill-opacity="0.55"/>
<circle cx="236.7" cy="849.1" r="0.33" fill="#111" fill-opacity="0.51"/>
<circle cx="283.2" cy="828.7" r="0.53" fill="#111" fill-opacity="0.50"/>
<circle cx="256.3" cy="807.9" r="0.33" fill="#111" fill-opacity="0.54"/>
<circle cx="259.3" cy="857.9" r="0.39" fill="#111" fill-opacity="0.31"/>
<circle cx="225.8" cy="863.5" r="0.49" fill="#111" fill-opacity="0.52"/>
<circle cx="251.1" cy="858.3" r="0.41" fill="#111" fill-opacity="0.38"/>
<circle cx="273.0" cy="830.2" r="0.61" fill="#111" fill-opacity="0.53"/>
<circle cx="275.6" cy="876.8" r="0.51" fill="#111" fill-opacity="0.34"/>
<circle cx="242.8" cy="806.3" r="0.65" fill="#111" fill-opacity="0.36"/>
<circle cx="248.5" cy="807.8" r="0.50" fill="#111" fill-opacity="0.56"/>
<circle cx="283.2" cy="818.2" r="0.38" fill="#111" fill-opacity="0.42"/>
<circle cx="232.5" cy="824.3" r="0.36" fill="#111" fill-opacity="0.51"/>
<circle cx="287.1" cy="827.7" r="0.32" fill="#111" fill-opacity="0.28"/>
<circle cx="286.2" cy="854.0" r="0.42" fill="#111" fill-opacity="0.46"/>
<circle cx="246.8" cy="884.3" r="0.47" fill="#111" fill-opacity="0.29"/>
<circle cx="264.8" cy="805.9" r="0.41" fill="#111" fill-opacity="0.30"/>
<circle cx="283.1" cy="858.0" r="0.57" fill="#111" fill-opacity="0.48"/>
<circle cx="228.5" cy="847.1" r="0.45" fill="#111" fill-opacity="0.50"/>
<circle cx="276.8" cy="850.8" r="0.60" fill="#111" fill-opacity="0.28"/>
<circle cx="242.3" cy="838.4" r="0.47" fill="#111" fill-opacity="0.35"/>
<circle cx="285.0" cy="828.2" r="0.59" fill="#111" fill-opacity="0.25"/>
<circle cx="263.9" cy="805.5" r="0.31" fill="#111" fill-opacity="0.34"/>
<circle cx="284.1" cy="852.8" r="0.41" fill="#111" fill-opacity="0.43"/>
<circle cx="232.6" cy="840.6" r="0.52" fill="#111" fill-opacity="0.29"/>
<circle cx="226.6" cy="815.5" r="0.48" fill="#111" fill-opacity="0.25"/>
<circle cx="248.7" cy="811.8" r="0.69" fill="#111" fill-opacity="0.31"/>
<circle cx="282.9" cy="874.4" r="0.34" fill="#111" fill-opacity="0.29"/>
<circle cx="229.1" cy="818.7" r="0.65" fill="#111" fill-opacity="0.42"/>
<circle cx="225.7" cy="830.2" r="0.51" fill="#111" fill-opacity="0.50"/>
<circle cx="284.7" cy="838.2" r="0.43" fill="#111" fill-opacity="0.38"/>
<circle cx="255.5" cy="861.8" r="0.37" fill="#111" fill-opacity="0.45"/>
<circle cx="249.3" cy="830.8" r="0.31" fill="#111" fill-opacity="0.40"/>
<circle cx="247.7" cy="826.3" r="0.48" fill="#111" fill-opacity="0.54"/>
<circle cx="248.8" cy="813.5" r="0.30" fill="#111" fill-opacity="0.52"/>
<circle cx="235.1" cy="865.5" r="0.31" fill="#111" fill-opacity="0.32"/>
<circle cx="242.8" cy="869.7" r="0.37" fill="#111" fill-opacity="0.41"/>
<circle cx="246.4" cy="841.5" r="0.35" fill="#111" fill-opacity="0.53"/>
<circle cx="297.8" cy="853.8" r="0.66" fill="#111" fill-opacity="0.31"/>
<circle cx="241.6" cy="838.7" r="0.52" fill="#111" fill-opacity="0.32"/>
<circle cx="260.5" cy="801.5" r="0.36" fill="#111" fill-opacity="0.40"/>
<circle cx="299.9" cy="853.2" r="0.31" fill="#111" fill-opacity="0.34"/>
<circle cx="280.6" cy="829.0" r="0.31" fill="#111" fill-opacity="0.27"/>
<circle cx="251.6" cy="848.6" r="0.47" fill="#111" fill-opacity="0.35"/>
<circle cx="244.6" cy="843.4" r="0.36" fill="#111" fill-opacity="0.27"/>
<circle cx="241.1" cy="825.0" r="0.30" fill="#111" fill-opacity="0.42"/>
<circle cx="246.9" cy="838.9" r="0.30" fill="#111" fill-opacity="0.29"/>
<circle cx="285.6" cy="849.6" r="0.38" fill="#111" fill-opacity="0.51"/>
<circle cx="259.9" cy="872.0" r="0.64" fill="#111" fill-opacity="0.50"/>
<circle cx="275.4" cy="840.6" r="0.48" fill="#111" fill-opacity="0.43"/>
<circle cx="288.6" cy="878.2" r="0.56" fill="#111" fill-opacity="0.47"/>
<circle cx="268.6" cy="883.0" r="0.43" fill="#111" fill-opacity="0.38"/>
<circle cx="265.3" cy="810.4" r="0.44" fill="#111" fill-opacity="0.51"/>
<circle cx="242.0" cy="880.6" r="0.34" fill="#111" fill-opacity="0.51"/>
<circle cx="294.1" cy="870.5" r="0.31" fill="#111" fill-opacity="0.50"/>
<circle cx="299.2" cy="846.8" r="0.43" fill="#111" fill-opacity="0.37"/>
<circle cx="254.7" cy="822.7" r="0.31" fill="#111" fill-opacity="0.37"/>
<circle cx="251.4" cy="841.6" r="0.48" fill="#111" fill-opacity="0.58"/>
<circle cx="289.5" cy="818.4" r="0.42" fill="#111" fill-opacity="0.48"/>
<circle cx="280.6" cy="876.6" r="0.35" fill="#111" fill-opacity="0.33"/>
<circle cx="238.1" cy="806.4" r="0.68" fill="#111" fill-opacity="0.50"/>
<circle cx="257.1" cy="867.6" r="0.45" fill="#111" fill-opacity="0.34"/>
<circle cx="261.9" cy="859.6" r="0.50" fill="#111" fill-opacity="0.30"/>
<circle cx="288.8" cy="850.5" r="0.55" fill="#111" fill-opacity="0.54"/>
<circle cx="254.8" cy="860.9" r="0.53" fill="#111" fill-opacity="0.38"/>
<circle cx="272.3" cy="803.1" r="0.55" fill="#111" fill-opacity="0.53"/>
<circle cx="256.2" cy="816.2" r="0.52" fill="#111" fill-opacity="0.44"/>
<circle cx="250.3" cy="820.0" r="0.34" fill="#111" fill-opacity="0.40"/>
<circle cx="277.4" cy="883.4" r="0.30" fill="#111" fill-opacity="0.55"/>
<circle cx="269.5" cy="866.2" r="0.38" fill="#111" fill-opacity="0.37"/>
<circle cx="220.6" cy="859.8" r="0.52" fill="#111" fill-opacity="0.57"/>
<circle cx="274.9" cy="854.3" r="0.68" fill="#111" fill-opacity="0.53"/>
<circle cx="272.2" cy="878.7" r="0.39" fill="#111" fill-opacity="0.25"/>
<circle cx="268.1" cy="877.7" r="0.69" fill="#111" fill-opacity="0.41"/>
<circle cx="295.7" cy="834.4" r="0.37" fill="#111" fill-opacity="0.37"/>
<circle cx="239.1" cy="862.3" r="0.37" fill="#111" fill-opacity="0.39"/>
<circle cx="225.4" cy="853.5" r="0.59" fill="#111" fill-opacity="0.37"/>
<circle cx="262.4" cy="818.2" r="0.37" fill="#111" fill-opacity="0.56"/>
<circle cx="240.6" cy="843.1" r="0.35" fill="#111" fill-opacity="0.44"/>
<circle cx="220.1" cy="829.9" r="0.59" fill="#111" fill-opacity="0.52"/>
<circle cx="277.9" cy="853.2" r="0.56" fill="#111" fill-opacity="0.27"/>
<circle cx="226.0" cy="867.7" r="0.69" fill="#111" fill-opacity="0.52"/>
<circle cx="228.5" cy="850.6" r="0.49" fill="#111" fill-opacity="0.30"/>
<circle cx="302.2" cy="845.2" r="0.69" fill="#111" fill-opacity="0.38"/>
<circle cx="220.5" cy="860.3" r="0.34" fill="#111" fill-opacity="0.36"/>
<circle cx="269.3" cy="827.1" r="0.64" fill="#111" fill-opacity="0.60"/>
<circle cx="237.1" cy="875.0" r="0.48" fill="#111" fill-opacity="0.28"/>
<circle cx="225.6" cy="864.8" r="0.30" fill="#111" fill-opacity="0.53"/>
<circle cx="288.6" cy="843.8" r="0.30" fill="#111" fill-opacity="0.49"/>
<circle cx="217.7" cy="846.7" r="0.52" fill="#111" fill-opacity="0.29"/>
<circle cx="279.7" cy="863.4" r="0.57" fill="#111" fill-opacity="0.45"/>
<circle cx="251.7" cy="846.7" r="0.36" fill="#111" fill-opacity="0.56"/>
<circle cx="245.9" cy="870.0" r="0.33" fill="#111" fill-opacity="0.25"/>
<circle cx="218.6" cy="854.9" r="0.67" fill="#111" fill-opacity="0.35"/>
<circle cx="235.3" cy="817.7" r="0.30" fill="#111" fill-opacity="0.42"/>
<circle cx="242.6" cy="875.3" r="0.31" fill="#111" fill-opacity="0.26"/>
<circle cx="269.6" cy="879.8" r="0.54" fill="#111" fill-opacity="0.33"/>
<circle cx="276.6" cy="875.8" r="0.35" fill="#111" fill-opacity="0.30"/>
<circle cx="298.1" cy="848.1" r="0.39" fill="#111" fill-opacity="0.57"/>
<circle cx="220.2" cy="824.8" r="0.63" fill="#111" fill-opacity="0.37"/>
<circle cx="221.6" cy="830.5" r="0.41" fill="#111" fill-opacity="0.47"/>
<circle cx="274.0" cy="805.9" r="0.31" fill="#111" fill-opacity="0.40"/>
<circle cx="287.6" cy="821.6" r="0.35" fill="#111" fill-opacity="0.39"/>
<circle cx="264.5" cy="847.7" r="0.67" fill="#111" fill-opacity="0.49"/>
<circle cx="234.4" cy="815.6" r="0.36" fill="#111" fill-opacity="0.44"/>
<circle cx="222.3" cy="862.6" r="0.30" fill="#111" fill-opacity="0.29"/>
<circle cx="229.6" cy="865.7" r="0.34" fill="#111" fill-opacity="0.25"/>
<circle cx="287.2" cy="854.3" r="0.32" fill="#111" fill-opacity="0.47"/>
<circle cx="268.1" cy="857.8" r="0.60" fill="#111" fill-opacity="0.30"/>
<circle cx="241.8" cy="810.4" r="0.30" fill="#111" fill-opacity="0.55"/>
<circle cx="276.1" cy="873.5" r="0.65" fill="#111" fill-opacity="0.54"/>
<circle cx="289.5" cy="873.3" r="0.38" fill="#111" fill-opacity="0.27"/>
<circle cx="240.4" cy="837.7" r="0.68" fill="#111" fill-opacity="0.51"/>
<circle cx="238.8" cy="855.3" r="0.52" fill="#111" fill-opacity="0.58"/>
<circle cx="260.1" cy="810.6" r="0.31" fill="#111" fill-opacity="0.41"/>
<circle cx="221.4" cy="836.4" r="0.55" fill="#111" fill-opacity="0.55"/>
<circle cx="255.7" cy="838.6" r="0.58" fill="#111" fill-opacity="0.45"/>
<circle cx="251.2" cy="810.5" r="0.31" fill="#111" fill-opacity="0.29"/>
<circle cx="221.3" cy="837.1" r="0.60" fill="#111" fill-opacity="0.46"/>
<circle cx="293.0" cy="849.3" r="0.36" fill="#111" fill-opacity="0.54"/>
<circle cx="267.3" cy="858.1" r="0.30" fill="#111" fill-opacity="0.32"/>
<circle cx="267.9" cy="821.3" r="0.47" fill="#111" fill-opacity="0.39"/>
<circle cx="282.1" cy="823.3" r="0.36" fill="#111" fill-opacity="0.52"/>
<circle cx="237.6" cy="879.3" r="0.64" fill="#111" fill-opacity="0.37"/>
<circle cx="300.9" cy="852.0" r="0.51" fill="#111" fill-opacity="0.36"/>
<circle cx="269.6" cy="819.7" r="0.57" fill="#111" fill-opacity="0.30"/>
<circle cx="282.8" cy="822.6" r="0.66" fill="#111" fill-opacity="0.54"/>
<circle cx="269.0" cy="885.5" r="0.48" fill="#111" fill-opacity="0.36"/>
<circle cx="248.6" cy="850.8" r="0.51" fill="#111" fill-opacity="0.55"/>
<circle cx="279.7" cy="818.1" r="0.39" fill="#111" fill-opacity="0.40"/>
<circle cx="291.1" cy="848.7" r="0.49" fill="#111" fill-opacity="0.44"/>
<circle cx="275.8" cy="849.7" r="0.35" fill="#111" fill-opacity="0.29"/>
<circle cx="254.1" cy="880.9" r="0.36" fill="#111" fill-opacity="0.45"/>
<circle cx="261.3" cy="839.8" r="0.58" fill="#111" fill-opacity="0.28"/>
<circle cx="234.8" cy="823.2" r="0.33" fill="#111" fill-opacity="0.28"/>
<circle cx="261.7" cy="813.0" r="0.49" fill="#111" fill-opacity="0.47"/>
<circle cx="257.8" cy="854.9" r="0.43" fill="#111" fill-opacity="0.49"/>
<circle cx="233.7" cy="866.4" r="0.68" fill="#111" fill-opacity="0.47"/>
<circle cx="264.0" cy="869.7" r="0.39" fill="#111" fill-opacity="0.40"/>
<circle cx="280.9" cy="865.0" r="0.67" fill="#111" fill-opacity="0.59"/>
<circle cx="270.6" cy="833.2" r="0.30" fill="#111" fill-opacity="0.46"/>
<circle cx="279.5" cy="855.2" r="0.42" fill="#111" fill-opacity="0.51"/>
<circle cx="269.1" cy="856.9" r="0.52" fill="#111" fill-opacity="0.45"/>
<circle cx="222.3" cy="860.8" r="0.41" fill="#111" fill-opacity="0.59"/>
<circle cx="257.9" cy="812.5" r="0.39" fill="#111" fill-opacity="0.31"/>
<circle cx="278.9" cy="812.9" r="0.70" fill="#111" fill-opacity="0.28"/>
<circle cx="254.9" cy="857.3" r="0.33" fill="#111" fill-opacity="0.37"/>
<circle cx="254.2" cy="879.3" r="0.46" fill="#111" fill-opacity="0.42"/>
<circle cx="264.4" cy="872.0" r="0.37" fill="#111" fill-opacity="0.58"/>
<circle cx="268.6" cy="822.5" r="0.62" fill="#111" fill-opacity="0.27"/>
<circle cx="273.1" cy="843.0" r="0.33" fill="#111" fill-opacity="0.33"/>
<circle cx="253.9" cy="836.8" r="0.36" fill="#111" fill-opacity="0.47"/>
<circle cx="257.2" cy="872.3" r="0.35" fill="#111" fill-opacity="0.59"/>
<circle cx="263.8" cy="828.5" r="0.54" fill="#111" fill-opacity="0.40"/>
<circle cx="276.3" cy="821.0" r="0.35" fill="#111" fill-opacity="0.55"/>
<circle cx="254.0" cy="834.8" r="0.45" fill="#111" fill-opacity="0.44"/>
<circle cx="265.1" cy="886.9" r="0.31" fill="#111" fill-opacity="0.60"/>
<circle cx="288.6" cy="822.9" r="0.33" fill="#111" fill-opacity="0.42"/>
<circle cx="258.8" cy="888.7" r="0.62" fill="#111" fill-opacity="0.46"/>
<circle cx="296.9" cy="860.7" r="0.39" fill="#111" fill-opacity="0.42"/>
<circle cx="258.0" cy="815.7" r="0.59" fill="#111" fill-opacity="0.35"/>
<circle cx="267.6" cy="805.4" r="0.33" fill="#111" fill-opacity="0.43"/>
<circle cx="276.7" cy="818.3" r="0.48" fill="#111" fill-opacity="0.51"/>
<circle cx="260.5" cy="813.6" r="0.51" fill="#111" fill-opacity="0.29"/>
<circle cx="263.5" cy="815.3" r="0.57" fill="#111" fill-opacity="0.41"/>
<circle cx="270.7" cy="839.0" r="0.54" fill="#111" fill-opacity="0.54"/>
<circle cx="285.6" cy="820.3" r="0.31" fill="#111" fill-opacity="0.29"/>
<circle cx="260.3" cy="814.2" r="0.36" fill="#111" fill-opacity="0.58"/>
<circle cx="255.3" cy="869.7" r="0.40" fill="#111" fill-opacity="0.29"/>
<circle cx="274.0" cy="884.3" r="0.37" fill="#111" fill-opacity="0.43"/>
<circle cx="246.5" cy="833.9" r="0.30" fill="#111" fill-opacity="0.42"/>
<circle cx="260.7" cy="810.7" r="0.35" fill="#111" fill-opacity="0.39"/>
<circle cx="236.7" cy="853.5" r="0.53" fill="#111" fill-opacity="0.40"/>
<circle cx="285.4" cy="849.1" r="0.44" fill="#111" fill-opacity="0.34"/>
<circle cx="257.8" cy="866.9" r="0.50" fill="#111" fill-opacity="0.29"/>
<circle cx="234.3" cy="808.8" r="0.65" fill="#111" fill-opacity="0.59"/>
<circle cx="280.9" cy="859.7" r="0.57" fill="#111" fill-opacity="0.27"/>
<circle cx="235.3" cy="870.7" r="0.35" fill="#111" fill-opacity="0.43"/>
<circle cx="286.9" cy="854.0" r="0.33" fill="#111" fill-opacity="0.27"/>
<circle cx="231.2" cy="846.5" r="0.42" fill="#111" fill-opacity="0.47"/>
<circle cx="265.4" cy="858.0" r="0.61" fill="#111" fill-opacity="0.44"/>
<circle cx="289.4" cy="870.1" r="0.46" fill="#111" fill-opacity="0.34"/>
<circle cx="223.4" cy="859.5" r="0.49" fill="#111" fill-opacity="0.44"/>
<circle cx="269.4" cy="837.5" r="0.37" fill="#111" fill-opacity="0.49"/>
<circle cx="294.7" cy="827.0" r="0.42" fill="#111" fill-opacity="0.40"/>
<circle cx="271.6" cy="868.5" r="0.59" fill="#111" fill-opacity="0.50"/>
<circle cx="302.5" cy="839.3" r="0.51" fill="#111" fill-opacity="0.36"/>
<circle cx="289.6" cy="836.4" r="0.45" fill="#111" fill-opacity="0.38"/>
<circle cx="257.4" cy="887.1" r="0.64" fill="#111" fill-opacity="0.59"/>
<circle cx="286.1" cy="823.3" r="0.63" fill="#111" fill-opacity="0.27"/>
<circle cx="275.4" cy="875.0" r="0.33" fill="#111" fill-opacity="0.43"/>
<circle cx="222.7" cy="832.7" r="0.60" fill="#111" fill-opacity="0.35"/>
<circle cx="274.7" cy="810.1" r="0.31" fill="#111" fill-opacity="0.45"/>
<circle cx="267.4" cy="864.4" r="0.66" fill="#111" fill-opacity="0.50"/>
<circle cx="265.8" cy="879.7" r="0.36" fill="#111" fill-opacity="0.44"/>
<circle cx="268.6" cy="887.5" r="0.30" fill="#111" fill-opacity="0.58"/>
<circle cx="256.6" cy="816.2" r="0.50" fill="#111" fill-opacity="0.55"/>
<circle cx="264.3" cy="821.0" r="0.43" fill="#111" fill-opacity="0.37"/>
<circle cx="266.9" cy="810.9" r="0.32" fill="#111" fill-opacity="0.26"/>
<circle cx="261.9" cy="866.8" r="0.64" fill="#111" fill-opacity="0.46"/>
<circle cx="274.0" cy="823.9" r="0.38" fill="#111" fill-opacity="0.55"/>
<circle cx="276.3" cy="813.6" r="0.32" fill="#111" fill-opacity="0.38"/>
<circle cx="248.5" cy="828.5" r="0.33" fill="#111" fill-opacity="0.39"/>
<circle cx="246.3" cy="864.4" r="0.68" fill="#111" fill-opacity="0.56"/>
<circle cx="278.3" cy="876.6" r="0.66" fill="#111" fill-opacity="0.39"/>
<circle cx="268.1" cy="803.3" r="0.38" fill="#111" fill-opacity="0.47"/>
<circle cx="220.9" cy="836.9" r="0.61" fill="#111" fill-opacity="0.47"/>
<circle cx="227.5" cy="860.0" r="0.49" fill="#111" fill-opacity="0.39"/>
<circle cx="301.1" cy="839.4" r="0.37" fill="#111" fill-opacity="0.59"/>
<circle cx="245.8" cy="819.8" r="0.52" fill="#111" fill-opacity="0.58"/>
<circle cx="221.4" cy="828.0" r="0.44" fill="#111" fill-opacity="0.49"/>
<circle cx="275.5" cy="805.5" r="0.33" fill="#111" fill-opacity="0.36"/>
<circle cx="230.7" cy="824.0" r="0.30" fill="#111" fill-opacity="0.43"/>
<circle cx="283.1" cy="811.9" r="0.55" fill="#111" fill-opacity="0.28"/>
<circle cx="226.8" cy="843.3" r="0.58" fill="#111" fill-opacity="0.43"/>
<circle cx="261.7" cy="832.2" r="0.60" fill="#111" fill-opacity="0.39"/>
<circle cx="253.4" cy="848.0" r="0.31" fill="#111" fill-opacity="0.58"/>
<circle cx="263.6" cy="866.3" r="0.43" fill="#111" fill-opacity="0.31"/>
<circle cx="272.5" cy="838.8" r="0.30" fill="#111" fill-opacity="0.35"/>
<circle cx="224.4" cy="869.2" r="0.36" fill="#111" fill-opacity="0.52"/>
<circle cx="261.5" cy="824.3" r="0.30" fill="#111" fill-opacity="0.27"/>
<circle cx="294.0" cy="848.4" r="0.46" fill="#111" fill-opacity="0.49"/>
<circle cx="223.6" cy="838.1" r="0.40" fill="#111" fill-opacity="0.48"/>
<circle cx="245.3" cy="858.9" r="0.44" fill="#111" fill-opacity="0.40"/>
<circle cx="262.0" cy="801.9" r="0.54" fill="#111" fill-opacity="0.31"/>
<circle cx="269.6" cy="866.4" r="0.68" fill="#111" fill-opacity="0.39"/>
<circle cx="250.1" cy="868.4" r="0.43" fill="#111" fill-opacity="0.35"/>
<circle cx="264.8" cy="866.3" r="0.44" fill="#111" fill-opacity="0.49"/>
<circle cx="221.3" cy="859.4" r="0.49" fill="#111" fill-opacity="0.42"/>
<circle cx="260.6" cy="835.8" r="0.34" fill="#111" fill-opacity="0.53"/>
<circle cx="261.0" cy="800.4" r="0.60" fill="#111" fill-opacity="0.48"/>
<circle cx="230.7" cy="845.0" r="0.33" fill="#111" fill-opacity="0.34"/>
<circle cx="231.1" cy="812.6" r="0.51" fill="#111" fill-opacity="0.48"/>
<circle cx="273.2" cy="841.0" r="0.55" fill="#111" fill-opacity="0.36"/>
<circle cx="282.2" cy="853.7" r="0.56" fill="#111" fill-opacity="0.31"/>
<circle cx="286.7" cy="855.8" r="0.31" fill="#111" fill-opacity="0.38"/>
<circle cx="280.8" cy="807.3" r="0.41" fill="#111" fill-opacity="0.55"/>
<circle cx="271.4" cy="818.5" r="0.61" fill="#111" fill-opacity="0.54"/>
<circle cx="277.9" cy="816.4" r="0.30" fill="#111" fill-opacity="0.31"/>
<circle cx="280.9" cy="869.1" r="0.31" fill="#111" fill-opacity="0.55"/>
<circle cx="265.6" cy="804.8" r="0.51" fill="#111" fill-opacity="0.54"/>
<circle cx="256.1" cy="839.1" r="0.58" fill="#111" fill-opacity="0.46"/>
<circle cx="264.9" cy="865.5" r="0.33" fill="#111" fill-opacity="0.48"/>
<circle cx="254.0" cy="817.2" r="0.39" fill="#111" fill-opacity="0.51"/>
<circle cx="264.3" cy="827.2" r="0.58" fill="#111" fill-opacity="0.51"/>
<circle cx="290.2" cy="871.4" r="0.36" fill="#111" fill-opacity="0.41"/>
<circle cx="241.1" cy="875.0" r="0.30" fill="#111" fill-opacity="0.41"/>
<circle cx="269.3" cy="854.1" r="0.31" fill="#111" fill-opacity="0.45"/>
<circle cx="261.7" cy="825.6" r="0.32" fill="#111" fill-opacity="0.42"/>
<circle cx="247.5" cy="852.3" r="0.36" fill="#111" fill-opacity="0.46"/>
<circle cx="237.6" cy="867.5" r="0.48" fill="#111" fill-opacity="0.51"/>
<circle cx="286.8" cy="847.1" r="0.69" fill="#111" fill-opacity="0.53"/>
<circle cx="246.7" cy="822.0" r="0.32" fill="#111" fill-opacity="0.31"/>
<circle cx="222.7" cy="858.5" r="0.65" fill="#111" fill-opacity="0.53"/>
<circle cx="262.5" cy="829.1" r="0.30" fill="#111" fill-opacity="0.29"/>
<circle cx="293.4" cy="825.0" r="0.69" fill="#111" fill-opacity="0.38"/>
<circle cx="221.4" cy="841.7" r="0.30" fill="#111" fill-opacity="0.57"/>
<circle cx="244.9" cy="861.1" r="0.31" fill="#111" fill-opacity="0.28"/>
<circle cx="297.5" cy="847.1" r="0.57" fill="#111" fill-opacity="0.43"/>
<circle cx="285.3" cy="857.0" r="0.33" fill="#111" fill-opacity="0.30"/>
<circle cx="221.5" cy="837.8" r="0.67" fill="#111" fill-opacity="0.27"/>
<circle cx="283.2" cy="808.1" r="0.65" fill="#111" fill-opacity="0.33"/>
<circle cx="268.2" cy="852.3" r="0.38" fill="#111" fill-opacity="0.30"/>
<circle cx="277.4" cy="832.0" r="0.60" fill="#111" fill-opacity="0.28"/>
<circle cx="270.6" cy="815.4" r="0.30" fill="#111" fill-opacity="0.43"/>
<circle cx="260.4" cy="847.8" r="0.48" fill="#111" fill-opacity="0.36"/>
<circle cx="290.7" cy="839.3" r="0.36" fill="#111" fill-opacity="0.47"/>
<circle cx="234.2" cy="835.7" r="0.42" fill="#111" fill-opacity="0.59"/>
<circle cx="231.1" cy="813.6" r="0.50" fill="#111" fill-opacity="0.30"/>
<circle cx="234.0" cy="854.1" r="0.30" fill="#111" fill-opacity="0.49"/>
<circle cx="293.1" cy="873.3" r="0.34" fill="#111" fill-opacity="0.36"/>
<circle cx="268.7" cy="855.2" r="0.46" fill="#111" fill-opacity="0.33"/>
<circle cx="219.3" cy="851.9" r="0.63" fill="#111" fill-opacity="0.59"/>
<circle cx="249.0" cy="831.0" r="0.31" fill="#111" fill-opacity="0.34"/>
<circle cx="294.7" cy="844.2" r="0.38" fill="#111" fill-opacity="0.51"/>
<circle cx="284.9" cy="830.1" r="0.38" fill="#111" fill-opacity="0.31"/>
<circle cx="252.2" cy="807.5" r="0.35" fill="#111" fill-opacity="0.42"/>
<circle cx="287.7" cy="853.5" r="0.55" fill="#111" fill-opacity="0.49"/>
<circle cx="281.5" cy="862.3" r="0.48" fill="#111" fill-opacity="0.48"/>
<circle cx="241.4" cy="814.8" r="0.37" fill="#111" fill-opacity="0.50"/>
<circle cx="233.1" cy="855.5" r="0.52" fill="#111" fill-opacity="0.41"/>
<circle cx="222.5" cy="855.2" r="0.49" fill="#111" fill-opacity="0.43"/>
<circle cx="293.5" cy="838.0" r="0.52" fill="#111" fill-opacity="0.53"/>
<circle cx="233.4" cy="818.7" r="0.66" fill="#111" fill-opacity="0.33"/>
<circle cx="258.3" cy="881.2" r="0.48" fill="#111" fill-opacity="0.56"/>
<circle cx="270.0" cy="868.2" r="0.37" fill="#111" fill-opacity="0.57"/>
<circle cx="222.6" cy="856.2" r="0.67" fill="#111" fill-opacity="0.50"/>
<circle cx="239.6" cy="806.3" r="0.35" fill="#111" fill-opacity="0.45"/>
<circle cx="243.5" cy="810.8" r="0.53" fill="#111" fill-opacity="0.54"/>
<circle cx="246.9" cy="847.5" r="0.30" fill="#111" fill-opacity="0.56"/>
<circle cx="284.6" cy="866.6" r="0.44" fill="#111" fill-opacity="0.58"/>
<circle cx="272.4" cy="887.2" r="0.33" fill="#111" fill-opacity="0.41"/>
<circle cx="285.9" cy="850.3" r="0.30" fill="#111" fill-opacity="0.32"/>
<circle cx="267.4" cy="865.5" r="0.31" fill="#111" fill-opacity="0.36"/>
<circle cx="251.8" cy="828.4" r="0.31" fill="#111" fill-opacity="0.48"/>
<circle cx="300.9" cy="856.9" r="0.32" fill="#111" fill-opacity="0.47"/>
<circle cx="247.3" cy="877.2" r="0.49" fill="#111" fill-opacity="0.57"/>
<circle cx="253.9" cy="804.8" r="0.34" fill="#111" fill-opacity="0.49"/>
<circle cx="238.5" cy="846.1" r="0.57" fill="#111" fill-opacity="0.50"/>
<circle cx="224.8" cy="855.7" r="0.45" fill="#111" fill-opacity="0.28"/>
<circle cx="239.7" cy="839.5" r="0.51" fill="#111" fill-opacity="0.57"/>
<circle cx="244.6" cy="830.0" r="0.55" fill="#111" fill-opacity="0.38"/>
<circle cx="233.4" cy="815.0" r="0.61" fill="#111" fill-opacity="0.40"/>
<circle cx="288.1" cy="841.5" r="0.35" fill="#111" fill-opacity="0.39"/>
<circle cx="280.0" cy="804.7" r="0.35" fill="#111" fill-opacity="0.35"/>
<circle cx="244.9" cy="815.5" r="0.30" fill="#111" fill-opacity="0.33"/>
<circle cx="238.1" cy="813.9" r="0.53" fill="#111" fill-opacity="0.56"/>
<circle cx="242.6" cy="845.0" r="0.60" fill="#111" fill-opacity="0.55"/>
<circle cx="244.7" cy="837.4" r="0.38" fill="#111" fill-opacity="0.29"/>
<circle cx="293.6" cy="816.7" r="0.33" fill="#111" fill-opacity="0.55"/>
<circle cx="224.3" cy="838.5" r="0.35" fill="#111" fill-opacity="0.60"/>
<circle cx="279.1" cy="866.7" r="0.69" fill="#111" fill-opacity="0.59"/>
<circle cx="271.9" cy="818.3" r="0.46" fill="#111" fill-opacity="0.42"/>
<circle cx="269.8" cy="800.3" r="0.68" fill="#111" fill-opacity="0.53"/>
<circle cx="281.5" cy="859.6" r="0.66" fill="#111" fill-opacity="0.35"/>
<circle cx="284.3" cy="848.0" r="0.45" fill="#111" fill-opacity="0.57"/>
<circle cx="290.1" cy="834.2" r="0.33" fill="#111" fill-opacity="0.37"/>
<circle cx="257.7" cy="802.6" r="0.57" fill="#111" fill-opacity="0.35"/>
<circle cx="222.7" cy="837.3" r="0.32" fill="#111" fill-opacity="0.38"/>
<circle cx="264.8" cy="867.5" r="0.69" fill="#111" fill-opacity="0.34"/>
<circle cx="297.4" cy="848.5" r="0.59" fill="#111" fill-opacity="0.56"/>
<circle cx="286.0" cy="865.1" r="0.40" fill="#111" fill-opacity="0.36"/>
<circle cx="288.3" cy="871.1" r="0.31" fill="#111" fill-opacity="0.45"/>
<circle cx="278.3" cy="817.4" r="0.64" fill="#111" fill-opacity="0.52"/>
<circle cx="279.0" cy="828.3" r="0.59" fill="#111" fill-opacity="0.28"/>
<circle cx="279.9" cy="863.9" r="0.67" fill="#111" fill-opacity="0.47"/>
<circle cx="251.2" cy="824.5" r="0.56" fill="#111" fill-opacity="0.60"/>
<circle cx="281.2" cy="805.3" r="0.44" fill="#111" fill-opacity="0.29"/>
<circle cx="296.1" cy="832.1" r="0.31" fill="#111" fill-opacity="0.44"/>
<circle cx="244.7" cy="886.8" r="0.41" fill="#111" fill-opacity="0.31"/>
<circle cx="269.8" cy="843.7" r="0.41" fill="#111" fill-opacity="0.57"/>
<circle cx="286.4" cy="826.6" r="0.41" fill="#111" fill-opacity="0.35"/>
<circle cx="264.7" cy="864.6" r="0.55" fill="#111" fill-opacity="0.37"/>
<circle cx="270.8" cy="806.4" r="0.47" fill="#111" fill-opacity="0.46"/>
<circle cx="256.3" cy="800.2" r="0.62" fill="#111" fill-opacity="0.35"/>
<circle cx="233.1" cy="855.7" r="0.31" fill="#111" fill-opacity="0.28"/>
<circle cx="271.0" cy="880.5" r="0.48" fill="#111" fill-opacity="0.56"/>
<circle cx="291.3" cy="822.2" r="0.68" fill="#111" fill-opacity="0.58"/>
<circle cx="272.4" cy="856.5" r="0.31" fill="#111" fill-opacity="0.37"/>
<circle cx="235.1" cy="856.7" r="0.50" fill="#111" fill-opacity="0.57"/>
<circle cx="223.2" cy="831.8" r="0.43" fill="#111" fill-opacity="0.53"/>
<circle cx="230.8" cy="830.4" r="0.36" fill="#111" fill-opacity="0.51"/>
<circle cx="268.6" cy="859.0" r="0.39" fill="#111" fill-opacity="0.59"/>
<circle cx="267.8" cy="862.8" r="0.50" fill="#111" fill-opacity="0.39"/>
<circle cx="239.1" cy="824.4" r="0.53" fill="#111" fill-opacity="0.28"/>
<circle cx="285.2" cy="860.2" r="0.34" fill="#111" fill-opacity="0.43"/>
<circle cx="225.1" cy="829.5" r="0.34" fill="#111" fill-opacity="0.28"/>
<circle cx="226.5" cy="815.9" r="0.30" fill="#111" fill-opacity="0.30"/>
<circle cx="283.5" cy="871.4" r="0.41" fill="#111" fill-opacity="0.45"/>
<circle cx="298.7" cy="851.0" r="0.42" fill="#111" fill-opacity="0.55"/>
<circle cx="282.9" cy="818.0" r="0.62" fill="#111" fill-opacity="0.25"/>
<circle cx="299.4" cy="837.7" r="0.30" fill="#111" fill-opacity="0.36"/>
<circle cx="241.7" cy="817.4" r="0.58" fill="#111" fill-opacity="0.48"/>
<circle cx="240.2" cy="834.8" r="0.55" fill="#111" fill-opacity="0.60"/>
<circle cx="293.5" cy="847.1" r="0.60" fill="#111" fill-opacity="0.43"/>
<circle cx="275.9" cy="877.8" r="0.32" fill="#111" fill-opacity="0.26"/>
<circle cx="278.4" cy="874.2" r="0.61" fill="#111" fill-opacity="0.51"/>
<circle cx="274.0" cy="855.9" r="0.65" fill="#111" fill-opacity="0.33"/>
<circle cx="225.1" cy="863.3" r="0.65" fill="#111" fill-opacity="0.41"/>
<circle cx="251.6" cy="818.8" r="0.37" fill="#111" fill-opacity="0.57"/>
<circle cx="267.9" cy="836.0" r="0.61" fill="#111" fill-opacity="0.42"/>
<circle cx="228.9" cy="818.5" r="0.30" fill="#111" fill-opacity="0.26"/>
<circle cx="248.5" cy="833.4" r="0.62" fill="#111" fill-opacity="0.33"/>
<circle cx="281.6" cy="830.6" r="0.51" fill="#111" fill-opacity="0.27"/>
<circle cx="256.8" cy="836.9" r="0.47" fill="#111" fill-opacity="0.49"/>
<circle cx="250.7" cy="846.1" r="0.52" fill="#111" fill-opacity="0.32"/>
<circle cx="226.6" cy="822.5" r="0.40" fill="#111" fill-opacity="0.56"/>
<circle cx="247.7" cy="867.5" r="0.67" fill="#111" fill-opacity="0.43"/>
<circle cx="272.0" cy="861.7" r="0.33" fill="#111" fill-opacity="0.45"/>
<circle cx="253.1" cy="861.3" r="0.34" fill="#111" fill-opacity="0.38"/>
<circle cx="285.3" cy="878.3" r="0.32" fill="#111" fill-opacity="0.38"/>
<circle cx="221.7" cy="834.7" r="0.43" fill="#111" fill-opacity="0.59"/>
<circle cx="262.6" cy="812.5" r="0.52" fill="#111" fill-opacity="0.43"/>
<circle cx="251.4" cy="843.6" r="0.52" fill="#111" fill-opacity="0.46"/>
<circle cx="218.5" cy="843.8" r="0.48" fill="#111" fill-opacity="0.41"/>
<circle cx="281.6" cy="855.4" r="0.32" fill="#111" fill-opacity="0.51"/>
<circle cx="232.0" cy="832.8" r="0.35" fill="#111" fill-opacity="0.55"/>
<circle cx="263.8" cy="889.1" r="0.43" fill="#111" fill-opacity="0.36"/>
<circle cx="266.4" cy="858.3" r="0.66" fill="#111" fill-opacity="0.40"/>
<circle cx="247.8" cy="867.9" r="0.36" fill="#111" fill-opacity="0.57"/>
<circle cx="263.1" cy="883.2" r="0.60" fill="#111" fill-opacity="0.46"/>
<circle cx="260.6" cy="824.3" r="0.42" fill="#111" fill-opacity="0.54"/>
<circle cx="286.9" cy="848.3" r="0.41" fill="#111" fill-opacity="0.57"/>
<circle cx="289.9" cy="813.7" r="0.52" fill="#111" fill-opacity="0.38"/>
<circle cx="281.9" cy="836.7" r="0.44" fill="#111" fill-opacity="0.47"/>
<circle cx="257.8" cy="833.5" r="0.52" fill="#111" fill-opacity="0.28"/>
<circle cx="260.5" cy="823.2" r="0.33" fill="#111" fill-opacity="0.35"/>
<circle cx="237.0" cy="823.3" r="0.62" fill="#111" fill-opacity="0.47"/>
<circle cx="272.9" cy="869.1" r="0.41" fill="#111" fill-opacity="0.48"/>
<circle cx="232.9" cy="868.3" r="0.63" fill="#111" fill-opacity="0.27"/>
<circle cx="225.9" cy="855.3" r="0.33" fill="#111" fill-opacity="0.46"/>
<circle cx="253.8" cy="798.6" r="1.42" fill="#111"/>
<circle cx="236.3" cy="811" r="1.52" fill="#111"/>
<circle cx="260.4" cy="810.2" r="1.90" fill="#111"/>
<circle cx="263.5" cy="809.5" r="1.42" fill="#111"/>
<circle cx="254.5" cy="811.7" r="1.33" fill="#111"/>
<circle cx="285.2" cy="807.3" r="2.09" fill="#111"/>
<circle cx="282.3" cy="810.2" r="1.71" fill="#111"/>
<circle cx="288.1" cy="813.9" r="1.90" fill="#111"/>
<circle cx="290.3" cy="811" r="1.42" fill="#111"/>
<circle cx="298.3" cy="821.9" r="1.90" fill="#111"/>
<circle cx="237.7" cy="827" r="1.90" fill="#111"/>
<circle cx="231.2" cy="827.8" r="1.52" fill="#111"/>
<circle cx="218" cy="824.1" r="1.42" fill="#111"/>
<circle cx="248.7" cy="807.3" r="1.14" fill="#111"/>
<circle cx="274.2" cy="805.9" r="1.14" fill="#111"/>
<circle cx="278.6" cy="818.3" r="1.42" fill="#111"/>
<circle cx="275.5" cy="819.5" r="1.14" fill="#111"/>
<circle cx="263.3" cy="823.4" r="1.23" fill="#111"/>
<circle cx="260.4" cy="840.2" r="1.71" fill="#111"/>
<circle cx="242.8" cy="833.6" r="1.23" fill="#111"/>
<circle cx="290.3" cy="831.4" r="1.14" fill="#111"/>
<circle cx="253.8" cy="819" r="1.14" fill="#111"/>
<circle cx="229" cy="814.6" r="1.14" fill="#111"/>
<circle cx="241.4" cy="872.9" r="2.09" fill="#111"/>
<circle cx="288.1" cy="877.7" r="1.90" fill="#111"/>
<circle cx="268.4" cy="886.8" r="1.90" fill="#111"/>
<circle cx="266" cy="888" r="1.42" fill="#111"/>
<circle cx="261.8" cy="850.3" r="1.42" fill="#111"/>
<circle cx="269.9" cy="858.3" r="1.42" fill="#111"/>
<circle cx="253.8" cy="860.5" r="1.42" fill="#111"/>
<circle cx="252.3" cy="866.4" r="1.23" fill="#111"/>
<circle cx="244.3" cy="867.8" r="1.23" fill="#111"/>
<circle cx="269.9" cy="866.4" r="1.33" fill="#111"/>
<circle cx="265.5" cy="866.4" r="1.14" fill="#111"/>
<circle cx="236.3" cy="873.7" r="1.23" fill="#111"/>
<circle cx="235.5" cy="881.7" r="1.23" fill="#111"/>
<circle cx="250.9" cy="883.1" r="1.23" fill="#111"/>
<circle cx="218.8" cy="863.4" r="1.23" fill="#111"/>
<circle cx="233.4" cy="857.6" r="1.14" fill="#111"/>
<circle cx="293.9" cy="870" r="1.33" fill="#111"/>
<circle cx="300.5" cy="862" r="1.14" fill="#111"/>
<circle cx="218" cy="850.3" r="1.14" fill="#111"/>
<circle cx="221.7" cy="856.9" r="1.14" fill="#111"/>
<circle cx="293.2" cy="857.6" r="1.14" fill="#111"/>
</g>
<rect x="305" y="844" width="2.4" height="14" fill="#999"/>
<ellipse cx="258.5" cy="947.5" rx="46.6" ry="49.4" fill="#fcfcfc" stroke="#c4c4c4" stroke-width="1.2"/><ellipse cx="258.5" cy="947.5" rx="44.1" ry="46.9" fill="none" stroke="#d6d6d6" stroke-width="0.8"/>
<defs><linearGradient id="smg" x1="0" y1="0" x2="0" y2="1"><stop offset="0" stop-color="#e6e6e6" stop-opacity="0"/><stop offset="0.45" stop-color="#dedede" stop-opacity="0.75"/><stop offset="1" stop-color="#cdcdcd" stop-opacity="0.95"/></linearGradient></defs>
<defs><clipPath id="cpEb"><ellipse cx="258.5" cy="947.5" rx="45.5" ry="48.3"/></clipPath></defs>
<g clip-path="url(#cpEb)"><g filter="url(#bl2)"><path d="M258,914 C270,930 292,956 302,990 C290,1004 228,1004 216,990 C224,958 246,930 258,914 Z" fill="url(#smg)"/></g></g>
<g filter="url(#bl)">
<circle cx="261.7" cy="950.9" r="0.61" fill="#111" fill-opacity="0.91"/>
<circle cx="278.2" cy="966.7" r="0.49" fill="#111" fill-opacity="0.86"/>
<circle cx="254.3" cy="964.3" r="1.03" fill="#111" fill-opacity="0.72"/>
<circle cx="227.7" cy="924.4" r="0.43" fill="#111" fill-opacity="0.74"/>
<circle cx="253.4" cy="954.8" r="1.00" fill="#111" fill-opacity="0.64"/>
<circle cx="276.1" cy="907.1" r="0.41" fill="#111" fill-opacity="0.98"/>
<circle cx="253.1" cy="979.0" r="0.38" fill="#111" fill-opacity="0.99"/>
<circle cx="246.9" cy="904.6" r="0.43" fill="#111" fill-opacity="0.81"/>
<circle cx="248.0" cy="929.3" r="0.49" fill="#111" fill-opacity="0.67"/>
<circle cx="260.1" cy="954.6" r="0.74" fill="#111" fill-opacity="0.78"/>
<circle cx="224.5" cy="929.2" r="0.46" fill="#111" fill-opacity="0.68"/>
<circle cx="290.6" cy="929.1" r="0.60" fill="#111" fill-opacity="0.65"/>
<circle cx="252.4" cy="913.3" r="0.73" fill="#111" fill-opacity="0.94"/>
<circle cx="254.8" cy="963.0" r="1.01" fill="#111" fill-opacity="0.80"/>
<circle cx="258.1" cy="980.8" r="0.46" fill="#111" fill-opacity="0.88"/>
<circle cx="260.0" cy="911.5" r="0.87" fill="#111" fill-opacity="0.96"/>
<circle cx="234.9" cy="973.3" r="0.51" fill="#111" fill-opacity="0.72"/>
<circle cx="259.0" cy="936.6" r="0.47" fill="#111" fill-opacity="0.90"/>
<circle cx="272.5" cy="926.8" r="0.38" fill="#111" fill-opacity="0.73"/>
<circle cx="240.3" cy="949.2" r="0.63" fill="#111" fill-opacity="0.62"/>
<circle cx="266.9" cy="955.6" r="1.08" fill="#111" fill-opacity="0.72"/>
<circle cx="235.4" cy="969.6" r="0.43" fill="#111" fill-opacity="0.95"/>
<circle cx="228.5" cy="922.3" r="0.54" fill="#111" fill-opacity="0.92"/>
<circle cx="241.5" cy="984.9" r="0.68" fill="#111" fill-opacity="0.83"/>
<circle cx="241.4" cy="924.7" r="0.64" fill="#111" fill-opacity="0.65"/>
<circle cx="276.7" cy="982.7" r="0.35" fill="#111" fill-opacity="0.84"/>
<circle cx="292.4" cy="952.2" r="0.45" fill="#111" fill-opacity="0.83"/>
<circle cx="295.2" cy="956.6" r="0.49" fill="#111" fill-opacity="0.95"/>
<circle cx="282.4" cy="948.3" r="0.40" fill="#111" fill-opacity="0.99"/>
<circle cx="270.9" cy="907.6" r="0.47" fill="#111" fill-opacity="0.84"/>
<circle cx="239.2" cy="985.1" r="0.85" fill="#111" fill-opacity="0.70"/>
<circle cx="293.0" cy="951.8" r="0.47" fill="#111" fill-opacity="0.98"/>
<circle cx="264.1" cy="950.7" r="0.48" fill="#111" fill-opacity="0.71"/>
<circle cx="253.6" cy="925.5" r="0.43" fill="#111" fill-opacity="0.61"/>
<circle cx="273.1" cy="909.8" r="0.41" fill="#111" fill-opacity="0.71"/>
<circle cx="262.9" cy="928.1" r="0.40" fill="#111" fill-opacity="0.97"/>
<circle cx="292.5" cy="965.0" r="0.63" fill="#111" fill-opacity="0.74"/>
<circle cx="259.2" cy="926.6" r="0.64" fill="#111" fill-opacity="0.94"/>
<circle cx="236.8" cy="954.0" r="0.91" fill="#111" fill-opacity="0.79"/>
<circle cx="267.8" cy="949.2" r="0.39" fill="#111" fill-opacity="0.75"/>
<circle cx="281.2" cy="911.0" r="0.98" fill="#111" fill-opacity="0.64"/>
<circle cx="227.1" cy="920.5" r="0.64" fill="#111" fill-opacity="0.61"/>
<circle cx="271.9" cy="972.0" r="0.36" fill="#111" fill-opacity="0.70"/>
<circle cx="279.0" cy="912.5" r="0.99" fill="#111" fill-opacity="0.76"/>
<circle cx="227.6" cy="961.5" r="0.80" fill="#111" fill-opacity="0.75"/>
<circle cx="287.8" cy="977.8" r="0.55" fill="#111" fill-opacity="0.78"/>
<circle cx="244.4" cy="957.9" r="1.02" fill="#111" fill-opacity="0.99"/>
<circle cx="274.9" cy="913.1" r="0.49" fill="#111" fill-opacity="0.79"/>
<circle cx="233.4" cy="915.1" r="0.60" fill="#111" fill-opacity="0.90"/>
<circle cx="279.8" cy="938.3" r="0.40" fill="#111" fill-opacity="0.86"/>
<circle cx="252.3" cy="973.9" r="0.44" fill="#111" fill-opacity="0.63"/>
<circle cx="247.8" cy="983.0" r="1.08" fill="#111" fill-opacity="0.64"/>
<circle cx="287.9" cy="934.3" r="0.60" fill="#111" fill-opacity="0.74"/>
<circle cx="236.5" cy="972.5" r="0.52" fill="#111" fill-opacity="0.71"/>
<circle cx="250.6" cy="986.0" r="0.46" fill="#111" fill-opacity="0.96"/>
<circle cx="254.2" cy="976.6" r="0.42" fill="#111" fill-opacity="0.89"/>
<circle cx="278.2" cy="967.0" r="0.75" fill="#111" fill-opacity="0.62"/>
<circle cx="273.7" cy="981.5" r="0.74" fill="#111" fill-opacity="0.88"/>
<circle cx="258.7" cy="972.6" r="0.36" fill="#111" fill-opacity="0.81"/>
<circle cx="281.0" cy="916.3" r="0.85" fill="#111" fill-opacity="0.61"/>
<circle cx="290.8" cy="933.7" r="0.69" fill="#111" fill-opacity="0.83"/>
<circle cx="239.6" cy="915.5" r="0.93" fill="#111" fill-opacity="1.00"/>
<circle cx="277.9" cy="965.7" r="0.97" fill="#111" fill-opacity="0.66"/>
<circle cx="249.9" cy="986.4" r="0.38" fill="#111" fill-opacity="0.63"/>
<circle cx="256.1" cy="952.3" r="0.58" fill="#111" fill-opacity="0.62"/>
<circle cx="246.0" cy="978.2" r="0.37" fill="#111" fill-opacity="0.67"/>
<circle cx="250.1" cy="931.6" r="0.92" fill="#111" fill-opacity="0.96"/>
<circle cx="228.9" cy="969.7" r="0.35" fill="#111" fill-opacity="0.86"/>
<circle cx="236.7" cy="983.6" r="0.66" fill="#111" fill-opacity="0.77"/>
<circle cx="241.5" cy="973.1" r="1.00" fill="#111" fill-opacity="0.67"/>
<circle cx="232.8" cy="935.7" r="0.37" fill="#111" fill-opacity="0.90"/>
<circle cx="225.8" cy="930.2" r="0.49" fill="#111" fill-opacity="0.98"/>
<circle cx="236.6" cy="918.5" r="0.77" fill="#111" fill-opacity="0.89"/>
<circle cx="259.1" cy="968.2" r="1.02" fill="#111" fill-opacity="0.90"/>
<circle cx="255.8" cy="989.5" r="1.02" fill="#111" fill-opacity="0.73"/>
<circle cx="259.9" cy="953.1" r="0.87" fill="#111" fill-opacity="0.94"/>
<circle cx="230.2" cy="966.6" r="0.45" fill="#111" fill-opacity="0.65"/>
<circle cx="278.5" cy="954.1" r="0.41" fill="#111" fill-opacity="0.73"/>
<circle cx="221.7" cy="935.9" r="0.46" fill="#111" fill-opacity="0.63"/>
<circle cx="263.4" cy="922.7" r="0.43" fill="#111" fill-opacity="0.79"/>
<circle cx="269.9" cy="990.2" r="0.54" fill="#111" fill-opacity="0.81"/>
<circle cx="275.5" cy="935.2" r="0.48" fill="#111" fill-opacity="0.93"/>
<circle cx="260.2" cy="917.5" r="0.38" fill="#111" fill-opacity="0.85"/>
<circle cx="277.3" cy="983.2" r="0.35" fill="#111" fill-opacity="0.62"/>
<circle cx="229.6" cy="928.5" r="0.88" fill="#111" fill-opacity="0.74"/>
<circle cx="256.7" cy="974.0" r="0.51" fill="#111" fill-opacity="0.62"/>
<circle cx="257.1" cy="987.3" r="0.40" fill="#111" fill-opacity="0.85"/>
<circle cx="274.8" cy="975.4" r="0.37" fill="#111" fill-opacity="0.94"/>
<circle cx="280.3" cy="913.5" r="0.98" fill="#111" fill-opacity="0.68"/>
<circle cx="287.6" cy="925.8" r="0.44" fill="#111" fill-opacity="0.82"/>
<circle cx="274.9" cy="967.8" r="0.66" fill="#111" fill-opacity="0.67"/>
<circle cx="235.8" cy="973.4" r="0.46" fill="#111" fill-opacity="0.65"/>
<circle cx="265.8" cy="917.3" r="1.07" fill="#111" fill-opacity="0.78"/>
<circle cx="258.6" cy="904.0" r="0.36" fill="#111" fill-opacity="0.85"/>
<circle cx="227.7" cy="917.5" r="0.74" fill="#111" fill-opacity="0.86"/>
<circle cx="240.0" cy="930.3" r="0.55" fill="#111" fill-opacity="0.83"/>
<circle cx="269.8" cy="927.0" r="0.37" fill="#111" fill-opacity="0.64"/>
<circle cx="245.7" cy="959.7" r="0.85" fill="#111" fill-opacity="0.60"/>
<circle cx="260.8" cy="954.4" r="1.08" fill="#111" fill-opacity="0.82"/>
<circle cx="225.6" cy="971.2" r="0.67" fill="#111" fill-opacity="0.93"/>
<circle cx="289.4" cy="926.1" r="0.83" fill="#111" fill-opacity="0.64"/>
<circle cx="242.9" cy="920.4" r="0.51" fill="#111" fill-opacity="0.62"/>
<circle cx="264.0" cy="942.9" r="0.81" fill="#111" fill-opacity="0.85"/>
<circle cx="255.3" cy="969.9" r="0.43" fill="#111" fill-opacity="0.85"/>
<circle cx="278.0" cy="926.2" r="0.89" fill="#111" fill-opacity="0.78"/>
<circle cx="264.3" cy="961.9" r="0.35" fill="#111" fill-opacity="0.67"/>
<circle cx="237.8" cy="916.6" r="0.36" fill="#111" fill-opacity="0.70"/>
<circle cx="257.5" cy="964.7" r="0.37" fill="#111" fill-opacity="0.79"/>
<circle cx="260.4" cy="917.4" r="0.56" fill="#111" fill-opacity="0.99"/>
<circle cx="298.9" cy="959.4" r="0.53" fill="#111" fill-opacity="0.71"/>
<circle cx="238.8" cy="908.0" r="0.65" fill="#111" fill-opacity="0.71"/>
<circle cx="263.2" cy="965.8" r="1.01" fill="#111" fill-opacity="0.89"/>
<circle cx="259.3" cy="911.4" r="0.35" fill="#111" fill-opacity="0.68"/>
<circle cx="228.6" cy="939.7" r="0.35" fill="#111" fill-opacity="0.83"/>
<circle cx="220.2" cy="930.7" r="1.10" fill="#111" fill-opacity="0.78"/>
<circle cx="240.6" cy="931.6" r="0.36" fill="#111" fill-opacity="0.73"/>
<circle cx="275.6" cy="933.8" r="0.35" fill="#111" fill-opacity="0.92"/>
<circle cx="300.3" cy="952.2" r="0.86" fill="#111" fill-opacity="0.91"/>
<circle cx="288.3" cy="945.2" r="1.08" fill="#111" fill-opacity="0.68"/>
<circle cx="224.3" cy="963.2" r="0.35" fill="#111" fill-opacity="0.96"/>
<circle cx="262.4" cy="959.2" r="0.61" fill="#111" fill-opacity="0.66"/>
<circle cx="287.3" cy="973.0" r="0.64" fill="#111" fill-opacity="0.99"/>
<circle cx="287.8" cy="967.6" r="0.35" fill="#111" fill-opacity="1.00"/>
<circle cx="253.6" cy="920.5" r="0.36" fill="#111" fill-opacity="0.74"/>
<circle cx="231.5" cy="965.8" r="0.49" fill="#111" fill-opacity="0.80"/>
<circle cx="242.1" cy="973.9" r="0.81" fill="#111" fill-opacity="0.91"/>
<circle cx="270.0" cy="908.1" r="0.82" fill="#111" fill-opacity="0.98"/>
<circle cx="235.3" cy="963.0" r="0.90" fill="#111" fill-opacity="0.65"/>
<circle cx="275.7" cy="934.3" r="0.36" fill="#111" fill-opacity="0.86"/>
<circle cx="238.3" cy="941.8" r="1.02" fill="#111" fill-opacity="0.68"/>
<circle cx="229.8" cy="965.8" r="0.86" fill="#111" fill-opacity="0.96"/>
<circle cx="233.5" cy="966.7" r="1.06" fill="#111" fill-opacity="0.80"/>
<circle cx="246.8" cy="982.7" r="0.96" fill="#111" fill-opacity="0.74"/>
<circle cx="250.2" cy="978.7" r="0.37" fill="#111" fill-opacity="0.86"/>
<circle cx="263.7" cy="962.0" r="0.44" fill="#111" fill-opacity="0.75"/>
<circle cx="229.8" cy="959.2" r="0.79" fill="#111" fill-opacity="0.62"/>
<circle cx="281.6" cy="915.9" r="0.84" fill="#111" fill-opacity="0.74"/>
<circle cx="300.2" cy="943.7" r="0.36" fill="#111" fill-opacity="0.70"/>
<circle cx="230.6" cy="927.1" r="0.39" fill="#111" fill-opacity="0.71"/>
<circle cx="295.1" cy="941.8" r="0.36" fill="#111" fill-opacity="0.99"/>
<circle cx="264.8" cy="966.3" r="0.40" fill="#111" fill-opacity="0.71"/>
<circle cx="256.8" cy="940.0" r="0.36" fill="#111" fill-opacity="0.62"/>
<circle cx="218.9" cy="961.2" r="0.59" fill="#111" fill-opacity="0.68"/>
<circle cx="268.4" cy="947.0" r="0.81" fill="#111" fill-opacity="0.71"/>
<circle cx="256.7" cy="968.8" r="0.39" fill="#111" fill-opacity="0.74"/>
<circle cx="259.3" cy="929.7" r="0.35" fill="#111" fill-opacity="0.75"/>
<circle cx="224.3" cy="945.5" r="0.96" fill="#111" fill-opacity="0.95"/>
<circle cx="293.5" cy="942.4" r="0.87" fill="#111" fill-opacity="0.65"/>
<circle cx="247.8" cy="906.7" r="0.74" fill="#111" fill-opacity="0.97"/>
<circle cx="230.5" cy="978.8" r="0.55" fill="#111" fill-opacity="0.78"/>
<circle cx="285.7" cy="945.0" r="1.86" fill="#111" fill-opacity="0.75"/>
<circle cx="261.9" cy="941.0" r="1.81" fill="#111" fill-opacity="0.76"/>
<circle cx="246.7" cy="930.5" r="1.70" fill="#111" fill-opacity="0.85"/>
<circle cx="260.4" cy="963.5" r="1.59" fill="#111" fill-opacity="0.88"/>
<circle cx="278.9" cy="976.8" r="1.86" fill="#111" fill-opacity="0.99"/>
<circle cx="269.2" cy="977.3" r="1.41" fill="#111" fill-opacity="0.69"/>
<circle cx="276" cy="929" r="1.8" fill="#111"/>
<circle cx="289.5" cy="952" r="1.7" fill="#111"/>
<circle cx="236.5" cy="968" r="1.8" fill="#111"/>
<circle cx="268.5" cy="970" r="1.5" fill="#111"/>
<circle cx="252" cy="941" r="1.2" fill="#111"/>
<circle cx="252" cy="980" r="1.0" fill="#111"/>
</g>
<rect x="301" y="924" width="4.5" height="8" fill="#666" transform="rotate(25 303 928)"/>
<rect x="577.6" y="787.6" width="101.4" height="211.9" fill="#f0f0f0"/>
<ellipse cx="628.5" cy="840.0" rx="47.6" ry="49.1" fill="#f8f8f8" stroke="#cfcfcf" stroke-width="1.2"/><ellipse cx="628.5" cy="840.0" rx="45.1" ry="46.6" fill="none" stroke="#d6d6d6" stroke-width="0.8"/>
<g filter="url(#bl)">
<circle cx="631.6" cy="877.8" r="0.92" fill="#111" fill-opacity="0.93"/>
<circle cx="654.4" cy="874.7" r="0.35" fill="#111" fill-opacity="0.95"/>
<circle cx="668.6" cy="830.3" r="0.35" fill="#111" fill-opacity="0.98"/>
<circle cx="646.0" cy="826.5" r="0.52" fill="#111" fill-opacity="0.95"/>
<circle cx="631.7" cy="843.8" r="0.36" fill="#111" fill-opacity="0.70"/>
<circle cx="607.3" cy="813.9" r="0.92" fill="#111" fill-opacity="0.69"/>
<circle cx="609.8" cy="831.8" r="0.36" fill="#111" fill-opacity="0.82"/>
<circle cx="604.9" cy="814.4" r="0.50" fill="#111" fill-opacity="0.83"/>
<circle cx="593.1" cy="816.6" r="0.37" fill="#111" fill-opacity="0.69"/>
<circle cx="657.5" cy="867.5" r="0.55" fill="#111" fill-opacity="0.90"/>
<circle cx="636.9" cy="799.4" r="0.38" fill="#111" fill-opacity="0.79"/>
<circle cx="612.0" cy="847.9" r="0.41" fill="#111" fill-opacity="0.76"/>
<circle cx="628.4" cy="881.3" r="0.87" fill="#111" fill-opacity="0.82"/>
<circle cx="667.2" cy="829.5" r="0.35" fill="#111" fill-opacity="0.69"/>
<circle cx="642.3" cy="823.6" r="0.98" fill="#111" fill-opacity="0.82"/>
<circle cx="644.2" cy="846.2" r="0.98" fill="#111" fill-opacity="0.75"/>
<circle cx="620.6" cy="811.8" r="0.35" fill="#111" fill-opacity="0.98"/>
<circle cx="630.4" cy="819.5" r="0.58" fill="#111" fill-opacity="0.76"/>
<circle cx="653.3" cy="858.5" r="0.67" fill="#111" fill-opacity="0.99"/>
<circle cx="643.8" cy="877.1" r="0.64" fill="#111" fill-opacity="0.82"/>
<circle cx="596.5" cy="837.2" r="0.35" fill="#111" fill-opacity="0.82"/>
<circle cx="637.6" cy="837.6" r="0.59" fill="#111" fill-opacity="0.74"/>
<circle cx="656.3" cy="844.5" r="0.52" fill="#111" fill-opacity="0.88"/>
<circle cx="659.8" cy="870.2" r="0.39" fill="#111" fill-opacity="0.60"/>
<circle cx="629.2" cy="799.4" r="0.72" fill="#111" fill-opacity="0.78"/>
<circle cx="663.2" cy="826.5" r="0.40" fill="#111" fill-opacity="0.65"/>
<circle cx="635.7" cy="803.9" r="0.40" fill="#111" fill-opacity="0.89"/>
<circle cx="603.6" cy="837.5" r="0.74" fill="#111" fill-opacity="0.76"/>
<circle cx="612.8" cy="808.7" r="0.36" fill="#111" fill-opacity="0.84"/>
<circle cx="665.7" cy="853.9" r="0.74" fill="#111" fill-opacity="0.67"/>
<circle cx="611.2" cy="808.5" r="0.93" fill="#111" fill-opacity="0.83"/>
<circle cx="630.4" cy="834.3" r="0.98" fill="#111" fill-opacity="0.65"/>
<circle cx="599.7" cy="873.7" r="0.38" fill="#111" fill-opacity="0.81"/>
<circle cx="604.0" cy="828.9" r="0.64" fill="#111" fill-opacity="0.63"/>
<circle cx="608.9" cy="801.8" r="0.38" fill="#111" fill-opacity="0.82"/>
<circle cx="585.1" cy="846.4" r="0.89" fill="#111" fill-opacity="0.68"/>
<circle cx="609.6" cy="875.4" r="0.51" fill="#111" fill-opacity="0.79"/>
<circle cx="609.1" cy="808.1" r="0.35" fill="#111" fill-opacity="0.60"/>
<circle cx="608.6" cy="828.3" r="0.68" fill="#111" fill-opacity="0.77"/>
<circle cx="668.7" cy="845.9" r="0.55" fill="#111" fill-opacity="0.63"/>
<circle cx="659.6" cy="842.8" r="0.71" fill="#111" fill-opacity="0.80"/>
<circle cx="670.1" cy="832.0" r="0.87" fill="#111" fill-opacity="0.97"/>
<circle cx="653.6" cy="834.7" r="0.70" fill="#111" fill-opacity="0.96"/>
<circle cx="624.6" cy="859.4" r="0.55" fill="#111" fill-opacity="0.69"/>
<circle cx="600.9" cy="870.3" r="0.41" fill="#111" fill-opacity="0.64"/>
<circle cx="644.6" cy="863.7" r="0.68" fill="#111" fill-opacity="0.84"/>
<circle cx="597.8" cy="869.4" r="0.43" fill="#111" fill-opacity="0.92"/>
<circle cx="659.2" cy="830.4" r="0.66" fill="#111" fill-opacity="1.00"/>
<circle cx="640.4" cy="825.3" r="0.37" fill="#111" fill-opacity="0.84"/>
<circle cx="649.0" cy="813.4" r="0.59" fill="#111" fill-opacity="0.83"/>
<circle cx="630.9" cy="831.5" r="0.54" fill="#111" fill-opacity="0.86"/>
<circle cx="642.2" cy="807.4" r="0.46" fill="#111" fill-opacity="0.99"/>
<circle cx="644.8" cy="839.2" r="0.42" fill="#111" fill-opacity="0.84"/>
<circle cx="650.2" cy="814.0" r="0.62" fill="#111" fill-opacity="0.99"/>
<circle cx="596.5" cy="847.9" r="0.81" fill="#111" fill-opacity="0.61"/>
<circle cx="640.2" cy="798.9" r="0.36" fill="#111" fill-opacity="0.79"/>
<circle cx="656.1" cy="867.1" r="0.62" fill="#111" fill-opacity="0.82"/>
<circle cx="628.0" cy="849.2" r="0.44" fill="#111" fill-opacity="0.91"/>
<circle cx="592.2" cy="840.3" r="0.76" fill="#111" fill-opacity="0.96"/>
<circle cx="613.4" cy="849.7" r="0.45" fill="#111" fill-opacity="0.85"/>
<circle cx="646.3" cy="878.5" r="0.51" fill="#111" fill-opacity="0.78"/>
<circle cx="592.4" cy="839.8" r="0.35" fill="#111" fill-opacity="0.83"/>
<circle cx="646.3" cy="825.4" r="0.45" fill="#111" fill-opacity="0.66"/>
<circle cx="659.8" cy="864.6" r="0.54" fill="#111" fill-opacity="0.73"/>
<circle cx="589.5" cy="827.7" r="0.41" fill="#111" fill-opacity="0.96"/>
<circle cx="586.3" cy="836.8" r="0.35" fill="#111" fill-opacity="0.68"/>
<circle cx="638.0" cy="811.7" r="0.68" fill="#111" fill-opacity="0.68"/>
<circle cx="611.9" cy="821.1" r="0.36" fill="#111" fill-opacity="0.76"/>
<circle cx="606.0" cy="827.3" r="0.78" fill="#111" fill-opacity="0.68"/>
<circle cx="589.1" cy="827.6" r="0.90" fill="#111" fill-opacity="0.79"/>
<circle cx="636.0" cy="799.0" r="0.72" fill="#111" fill-opacity="0.70"/>
<circle cx="626.9" cy="819.5" r="0.39" fill="#111" fill-opacity="0.82"/>
<circle cx="605.7" cy="810.1" r="0.72" fill="#111" fill-opacity="0.89"/>
<circle cx="624.8" cy="850.3" r="0.93" fill="#111" fill-opacity="0.86"/>
<circle cx="656.7" cy="827.4" r="0.68" fill="#111" fill-opacity="0.81"/>
<circle cx="652.7" cy="818.1" r="0.42" fill="#111" fill-opacity="0.81"/>
<circle cx="645.9" cy="861.1" r="0.37" fill="#111" fill-opacity="0.82"/>
<circle cx="629.2" cy="885.6" r="0.73" fill="#111" fill-opacity="0.85"/>
<circle cx="644.2" cy="881.5" r="0.57" fill="#111" fill-opacity="0.79"/>
<circle cx="613.6" cy="834.2" r="0.41" fill="#111" fill-opacity="0.84"/>
<circle cx="661.8" cy="867.5" r="0.37" fill="#111" fill-opacity="0.83"/>
<circle cx="655.3" cy="812.2" r="0.36" fill="#111" fill-opacity="0.87"/>
<circle cx="639.0" cy="876.4" r="0.89" fill="#111" fill-opacity="0.71"/>
<circle cx="652.4" cy="810.5" r="0.47" fill="#111" fill-opacity="0.63"/>
<circle cx="657.9" cy="823.5" r="0.35" fill="#111" fill-opacity="0.72"/>
<circle cx="664.5" cy="832.8" r="0.87" fill="#111" fill-opacity="0.84"/>
<circle cx="650.9" cy="813.2" r="0.52" fill="#111" fill-opacity="0.99"/>
<circle cx="641.0" cy="819.8" r="0.40" fill="#111" fill-opacity="1.00"/>
<circle cx="617.7" cy="836.5" r="0.82" fill="#111" fill-opacity="0.63"/>
<circle cx="659.1" cy="815.0" r="0.35" fill="#111" fill-opacity="0.74"/>
<circle cx="670.9" cy="826.7" r="0.71" fill="#111" fill-opacity="0.69"/>
<circle cx="654.7" cy="867.8" r="0.57" fill="#111" fill-opacity="0.64"/>
<circle cx="644.9" cy="847.7" r="0.73" fill="#111" fill-opacity="0.67"/>
<circle cx="606.4" cy="832.5" r="0.49" fill="#111" fill-opacity="0.63"/>
<circle cx="616.0" cy="881.4" r="0.85" fill="#111" fill-opacity="0.96"/>
<circle cx="634.4" cy="848.8" r="0.87" fill="#111" fill-opacity="0.81"/>
<circle cx="633.1" cy="834.9" r="0.96" fill="#111" fill-opacity="0.86"/>
<circle cx="628.0" cy="800.6" r="0.35" fill="#111" fill-opacity="0.79"/>
<circle cx="601.6" cy="829.6" r="0.38" fill="#111" fill-opacity="0.77"/>
<circle cx="593.2" cy="816.2" r="0.36" fill="#111" fill-opacity="0.94"/>
<circle cx="620.3" cy="812.4" r="0.44" fill="#111" fill-opacity="0.75"/>
<circle cx="669.2" cy="839.4" r="0.58" fill="#111" fill-opacity="0.64"/>
<circle cx="601.5" cy="817.5" r="0.56" fill="#111" fill-opacity="0.82"/>
<circle cx="625.5" cy="866.8" r="0.47" fill="#111" fill-opacity="0.87"/>
<circle cx="664.8" cy="816.4" r="0.49" fill="#111" fill-opacity="0.71"/>
<circle cx="629.6" cy="882.2" r="0.80" fill="#111" fill-opacity="0.96"/>
<circle cx="627.5" cy="825.7" r="0.55" fill="#111" fill-opacity="0.94"/>
<circle cx="596.6" cy="846.1" r="0.52" fill="#111" fill-opacity="0.72"/>
<circle cx="637.7" cy="824.3" r="0.76" fill="#111" fill-opacity="0.92"/>
<circle cx="654.0" cy="803.9" r="0.64" fill="#111" fill-opacity="0.85"/>
<circle cx="665.1" cy="834.3" r="0.35" fill="#111" fill-opacity="0.62"/>
<circle cx="632.0" cy="823.1" r="0.89" fill="#111" fill-opacity="0.63"/>
<circle cx="614.4" cy="866.4" r="0.38" fill="#111" fill-opacity="0.98"/>
<circle cx="623.6" cy="871.0" r="0.62" fill="#111" fill-opacity="0.98"/>
<circle cx="587.5" cy="846.5" r="0.96" fill="#111" fill-opacity="0.84"/>
<circle cx="606.3" cy="805.3" r="0.37" fill="#111" fill-opacity="0.74"/>
<circle cx="601.0" cy="856.3" r="0.89" fill="#111" fill-opacity="0.73"/>
<circle cx="616.6" cy="837.5" r="0.58" fill="#111" fill-opacity="0.88"/>
<circle cx="595.9" cy="854.3" r="0.46" fill="#111" fill-opacity="0.71"/>
<circle cx="605.5" cy="850.3" r="0.38" fill="#111" fill-opacity="0.72"/>
<circle cx="646.1" cy="863.3" r="0.36" fill="#111" fill-opacity="0.74"/>
<circle cx="624.8" cy="872.4" r="0.40" fill="#111" fill-opacity="0.66"/>
<circle cx="618.1" cy="857.8" r="0.42" fill="#111" fill-opacity="0.65"/>
<circle cx="607.3" cy="865.9" r="0.99" fill="#111" fill-opacity="0.94"/>
<circle cx="644.3" cy="840.3" r="0.57" fill="#111" fill-opacity="0.61"/>
<circle cx="651.8" cy="872.7" r="0.40" fill="#111" fill-opacity="0.94"/>
<circle cx="600.3" cy="805.9" r="0.99" fill="#111" fill-opacity="1.00"/>
<circle cx="600.0" cy="804.7" r="0.36" fill="#111" fill-opacity="0.73"/>
<circle cx="598.8" cy="830.1" r="0.37" fill="#111" fill-opacity="0.62"/>
<circle cx="599.8" cy="820.8" r="0.97" fill="#111" fill-opacity="0.99"/>
<circle cx="625.9" cy="833.6" r="0.80" fill="#111" fill-opacity="0.76"/>
<circle cx="628.6" cy="856.4" r="0.45" fill="#111" fill-opacity="0.86"/>
<circle cx="611.1" cy="859.4" r="0.74" fill="#111" fill-opacity="0.73"/>
<circle cx="613.5" cy="848.0" r="0.50" fill="#111" fill-opacity="0.83"/>
<circle cx="652.5" cy="805.7" r="0.36" fill="#111" fill-opacity="0.81"/>
<circle cx="601.2" cy="835.0" r="0.40" fill="#111" fill-opacity="0.63"/>
<circle cx="603.5" cy="859.7" r="0.93" fill="#111" fill-opacity="0.66"/>
<circle cx="610.2" cy="839.5" r="0.41" fill="#111" fill-opacity="0.64"/>
<circle cx="629.0" cy="863.9" r="0.98" fill="#111" fill-opacity="0.85"/>
<circle cx="615.7" cy="827.1" r="0.36" fill="#111" fill-opacity="0.79"/>
<circle cx="614.2" cy="880.0" r="0.68" fill="#111" fill-opacity="0.99"/>
<circle cx="647.5" cy="800.2" r="0.48" fill="#111" fill-opacity="0.95"/>
<circle cx="586.4" cy="830.5" r="0.75" fill="#111" fill-opacity="0.64"/>
<circle cx="645.8" cy="881.2" r="0.70" fill="#111" fill-opacity="0.78"/>
<circle cx="661.6" cy="812.1" r="0.69" fill="#111" fill-opacity="0.70"/>
<circle cx="656.9" cy="806.6" r="0.83" fill="#111" fill-opacity="0.85"/>
<circle cx="643.2" cy="880.9" r="0.47" fill="#111" fill-opacity="0.61"/>
<circle cx="605.6" cy="879.1" r="0.61" fill="#111" fill-opacity="0.97"/>
<circle cx="639.7" cy="883.2" r="0.53" fill="#111" fill-opacity="0.85"/>
<circle cx="586.8" cy="856.2" r="0.48" fill="#111" fill-opacity="0.71"/>
<circle cx="667.3" cy="857.2" r="0.90" fill="#111" fill-opacity="0.92"/>
<circle cx="655.1" cy="873.4" r="0.49" fill="#111" fill-opacity="0.83"/>
<circle cx="659.5" cy="871.5" r="0.56" fill="#111" fill-opacity="0.98"/>
<circle cx="586.9" cy="833.6" r="0.89" fill="#111" fill-opacity="0.87"/>
<circle cx="590.0" cy="820.2" r="0.95" fill="#111" fill-opacity="0.91"/>
<circle cx="606.3" cy="878.2" r="0.59" fill="#111" fill-opacity="0.76"/>
<circle cx="585.9" cy="850.3" r="0.80" fill="#111" fill-opacity="0.78"/>
<circle cx="591.4" cy="817.8" r="0.60" fill="#111" fill-opacity="0.84"/>
<circle cx="661.1" cy="812.3" r="1.02" fill="#111" fill-opacity="0.81"/>
<circle cx="636.3" cy="883.4" r="0.95" fill="#111" fill-opacity="0.84"/>
<circle cx="608.0" cy="803.5" r="0.69" fill="#111" fill-opacity="0.62"/>
<circle cx="593.7" cy="867.1" r="0.45" fill="#111" fill-opacity="0.82"/>
<circle cx="661.6" cy="870.7" r="1.00" fill="#111" fill-opacity="0.90"/>
<circle cx="585.9" cy="827.1" r="1.00" fill="#111" fill-opacity="0.68"/>
<circle cx="586.6" cy="843.6" r="0.45" fill="#111" fill-opacity="0.64"/>
<circle cx="668.0" cy="820.8" r="0.61" fill="#111" fill-opacity="0.91"/>
<circle cx="589.9" cy="857.0" r="0.96" fill="#111" fill-opacity="0.96"/>
<circle cx="649.5" cy="877.1" r="1.02" fill="#111" fill-opacity="0.73"/>
<circle cx="587.1" cy="831.2" r="0.75" fill="#111" fill-opacity="0.96"/>
<circle cx="663.1" cy="815.4" r="0.49" fill="#111" fill-opacity="0.89"/>
<circle cx="588.9" cy="826.0" r="0.49" fill="#111" fill-opacity="0.80"/>
<circle cx="629.6" cy="883.3" r="0.76" fill="#111" fill-opacity="0.71"/>
<circle cx="584.9" cy="842.0" r="0.77" fill="#111" fill-opacity="0.92"/>
<circle cx="638.0" cy="797.4" r="0.90" fill="#111" fill-opacity="0.86"/>
<circle cx="601.5" cy="874.1" r="0.45" fill="#111" fill-opacity="0.92"/>
<circle cx="585.8" cy="829.6" r="0.50" fill="#111" fill-opacity="0.86"/>
<circle cx="643.7" cy="797.8" r="0.49" fill="#111" fill-opacity="0.67"/>
<circle cx="587.3" cy="825.0" r="0.46" fill="#111" fill-opacity="0.63"/>
<circle cx="604.0" cy="802.3" r="0.81" fill="#111" fill-opacity="0.90"/>
<circle cx="653.6" cy="875.3" r="0.46" fill="#111" fill-opacity="0.79"/>
<circle cx="593.3" cy="814.3" r="0.48" fill="#111" fill-opacity="0.65"/>
<circle cx="639.7" cy="882.9" r="0.51" fill="#111" fill-opacity="0.63"/>
<circle cx="586.1" cy="827.6" r="0.48" fill="#111" fill-opacity="0.87"/>
<circle cx="604.6" cy="876.4" r="0.69" fill="#111" fill-opacity="0.78"/>
<circle cx="616.7" cy="881.3" r="0.55" fill="#111" fill-opacity="0.86"/>
<circle cx="586.8" cy="835.5" r="0.84" fill="#111" fill-opacity="0.94"/>
<circle cx="637.6" cy="885.0" r="0.75" fill="#111" fill-opacity="0.61"/>
<circle cx="656.2" cy="872.6" r="0.46" fill="#111" fill-opacity="0.96"/>
<circle cx="586.2" cy="836.9" r="1.16" fill="#111" fill-opacity="0.96"/>
<circle cx="592.7" cy="813.4" r="0.45" fill="#111" fill-opacity="0.96"/>
<circle cx="596.7" cy="866.0" r="1.19" fill="#111" fill-opacity="0.96"/>
<circle cx="600.7" cy="873.0" r="1.10" fill="#111" fill-opacity="0.65"/>
<circle cx="663.6" cy="861.6" r="0.65" fill="#111" fill-opacity="0.99"/>
<circle cx="620.8" cy="883.2" r="0.77" fill="#111" fill-opacity="0.98"/>
<circle cx="592.1" cy="814.1" r="0.45" fill="#111" fill-opacity="0.96"/>
<circle cx="608.2" cy="878.4" r="0.47" fill="#111" fill-opacity="0.82"/>
<circle cx="598.2" cy="873.2" r="0.52" fill="#111" fill-opacity="0.93"/>
<circle cx="615.6" cy="882.1" r="0.46" fill="#111" fill-opacity="0.67"/>
<circle cx="654.2" cy="872.9" r="0.58" fill="#111" fill-opacity="0.84"/>
<circle cx="585.8" cy="826.8" r="1.18" fill="#111" fill-opacity="0.94"/>
<circle cx="585.3" cy="835.6" r="0.94" fill="#111" fill-opacity="0.92"/>
<circle cx="584.7" cy="843.6" r="1.04" fill="#111" fill-opacity="0.86"/>
<circle cx="612.6" cy="797.4" r="0.60" fill="#111" fill-opacity="0.96"/>
<circle cx="661.3" cy="810.0" r="0.83" fill="#111" fill-opacity="0.61"/>
<circle cx="589.8" cy="821.5" r="1.14" fill="#111" fill-opacity="0.78"/>
<circle cx="637.4" cy="882.2" r="0.56" fill="#111" fill-opacity="0.99"/>
<circle cx="608.5" cy="799.2" r="0.92" fill="#111" fill-opacity="0.90"/>
<circle cx="584.8" cy="841.8" r="0.45" fill="#111" fill-opacity="0.69"/>
<circle cx="585.1" cy="832.4" r="0.83" fill="#111" fill-opacity="0.98"/>
<circle cx="669.9" cy="856.5" r="0.94" fill="#111" fill-opacity="0.72"/>
<circle cx="585.2" cy="831.0" r="1.07" fill="#111" fill-opacity="0.68"/>
<circle cx="648.2" cy="881.1" r="0.52" fill="#111" fill-opacity="0.68"/>
<circle cx="586.1" cy="827.5" r="0.96" fill="#111" fill-opacity="0.65"/>
<circle cx="632.6" cy="885.4" r="0.69" fill="#111" fill-opacity="0.73"/>
<circle cx="638.0" cy="881.4" r="0.47" fill="#111" fill-opacity="0.72"/>
<circle cx="669.9" cy="856.4" r="0.72" fill="#111" fill-opacity="0.81"/>
<circle cx="631.5" cy="883.2" r="0.68" fill="#111" fill-opacity="0.77"/>
<circle cx="650.7" cy="879.7" r="0.54" fill="#111" fill-opacity="0.65"/>
<circle cx="587.5" cy="833.7" r="0.99" fill="#111" fill-opacity="0.90"/>
<circle cx="663.0" cy="863.7" r="0.46" fill="#111" fill-opacity="0.95"/>
<circle cx="661.5" cy="813.3" r="1.16" fill="#111" fill-opacity="0.84"/>
<circle cx="634.6" cy="884.6" r="0.53" fill="#111" fill-opacity="0.85"/>
<circle cx="609.7" cy="800.8" r="1.11" fill="#111" fill-opacity="0.88"/>
<circle cx="637.0" cy="796.1" r="0.47" fill="#111" fill-opacity="0.64"/>
<circle cx="585.1" cy="848.3" r="0.93" fill="#111" fill-opacity="0.75"/>
<circle cx="626.0" cy="886.0" r="0.65" fill="#111" fill-opacity="0.94"/>
<circle cx="630.9" cy="794.8" r="1.13" fill="#111" fill-opacity="0.98"/>
<circle cx="603.1" cy="877.6" r="0.45" fill="#111" fill-opacity="0.61"/>
<circle cx="672.3" cy="831.7" r="0.68" fill="#111" fill-opacity="0.80"/>
<circle cx="590.2" cy="858.8" r="0.78" fill="#111" fill-opacity="0.90"/>
<circle cx="637.3" cy="882.7" r="0.48" fill="#111" fill-opacity="0.95"/>
<circle cx="667.3" cy="855.6" r="0.45" fill="#111" fill-opacity="0.65"/>
<circle cx="611.8" cy="801.0" r="0.81" fill="#111" fill-opacity="0.74"/>
<circle cx="585.7" cy="831.7" r="0.92" fill="#111" fill-opacity="0.90"/>
<circle cx="589.2" cy="861.1" r="0.49" fill="#111" fill-opacity="0.75"/>
<circle cx="592.0" cy="864.7" r="0.69" fill="#111" fill-opacity="0.71"/>
<circle cx="637.1" cy="884.1" r="0.92" fill="#111" fill-opacity="0.72"/>
<circle cx="636.5" cy="794.7" r="0.62" fill="#111" fill-opacity="0.73"/>
<circle cx="653.6" cy="802.8" r="0.47" fill="#111" fill-opacity="0.73"/>
<circle cx="640.9" cy="797.0" r="1.20" fill="#111" fill-opacity="0.74"/>
<circle cx="602.1" cy="804.1" r="0.47" fill="#111" fill-opacity="0.87"/>
<circle cx="619.1" cy="882.8" r="0.78" fill="#111" fill-opacity="0.61"/>
<circle cx="671.0" cy="850.2" r="1.19" fill="#111" fill-opacity="0.84"/>
<circle cx="664.3" cy="816.3" r="0.62" fill="#111" fill-opacity="0.84"/>
<circle cx="610.3" cy="880.3" r="0.68" fill="#111" fill-opacity="0.88"/>
<circle cx="586.1" cy="847.0" r="0.50" fill="#111" fill-opacity="0.79"/>
<circle cx="585.7" cy="847.8" r="0.62" fill="#111" fill-opacity="0.85"/>
<circle cx="585.8" cy="849.8" r="0.89" fill="#111" fill-opacity="0.85"/>
<circle cx="623.7" cy="883.0" r="0.77" fill="#111" fill-opacity="0.64"/>
<circle cx="589.1" cy="860.3" r="0.98" fill="#111" fill-opacity="0.91"/>
<circle cx="586.2" cy="851.6" r="0.66" fill="#111" fill-opacity="0.86"/>
<circle cx="615.3" cy="882.2" r="0.57" fill="#111" fill-opacity="0.83"/>
<circle cx="608.0" cy="800.7" r="0.62" fill="#111" fill-opacity="0.89"/>
<circle cx="584.1" cy="842.6" r="0.46" fill="#111" fill-opacity="0.86"/>
<circle cx="587.8" cy="858.8" r="1.06" fill="#111" fill-opacity="0.65"/>
<circle cx="604.8" cy="801.1" r="0.92" fill="#111" fill-opacity="0.92"/>
<circle cx="600.6" cy="872.5" r="0.72" fill="#111" fill-opacity="0.69"/>
<circle cx="640.7" cy="883.3" r="0.59" fill="#111" fill-opacity="0.84"/>
<circle cx="651.0" cy="804.4" r="0.69" fill="#111" fill-opacity="0.96"/>
<circle cx="629.0" cy="885.9" r="0.48" fill="#111" fill-opacity="0.71"/>
<circle cx="625.8" cy="882.6" r="0.65" fill="#111" fill-opacity="0.80"/>
<circle cx="662.0" cy="868.2" r="0.81" fill="#111" fill-opacity="0.88"/>
<circle cx="629.5" cy="885.7" r="0.50" fill="#111" fill-opacity="0.88"/>
<circle cx="626.8" cy="884.7" r="0.97" fill="#111" fill-opacity="0.94"/>
<circle cx="669.4" cy="826.6" r="0.67" fill="#111" fill-opacity="0.91"/>
<circle cx="664.8" cy="818.5" r="1.06" fill="#111" fill-opacity="0.61"/>
<circle cx="588.0" cy="856.2" r="0.63" fill="#111" fill-opacity="0.66"/>
<circle cx="637.6" cy="883.2" r="1.05" fill="#111" fill-opacity="0.91"/>
<circle cx="645.0" cy="797.3" r="0.74" fill="#111" fill-opacity="0.62"/>
<circle cx="670.5" cy="826.4" r="0.45" fill="#111" fill-opacity="0.61"/>
<circle cx="585.3" cy="840.4" r="0.76" fill="#111" fill-opacity="0.77"/>
<circle cx="668.7" cy="824.8" r="0.60" fill="#111" fill-opacity="0.73"/>
<circle cx="658.9" cy="871.2" r="0.85" fill="#111" fill-opacity="0.64"/>
<circle cx="615.2" cy="882.2" r="0.70" fill="#111" fill-opacity="0.83"/>
<circle cx="671.7" cy="850.9" r="0.55" fill="#111" fill-opacity="0.61"/>
<circle cx="587.8" cy="821.4" r="0.72" fill="#111" fill-opacity="0.86"/>
<circle cx="668.7" cy="854.3" r="0.50" fill="#111" fill-opacity="0.93"/>
<circle cx="605.5" cy="879.0" r="0.46" fill="#111" fill-opacity="0.80"/>
<circle cx="638.8" cy="880.4" r="0.48" fill="#111" fill-opacity="0.89"/>
<circle cx="631.9" cy="798.1" r="0.56" fill="#111" fill-opacity="0.97"/>
<circle cx="627.2" cy="795.4" r="0.48" fill="#111" fill-opacity="0.84"/>
<circle cx="669.7" cy="842.7" r="1.04" fill="#111" fill-opacity="0.86"/>
<circle cx="617.8" cy="884.1" r="0.46" fill="#111" fill-opacity="0.64"/>
<circle cx="638.7" cy="883.2" r="0.48" fill="#111" fill-opacity="0.90"/>
<circle cx="597.4" cy="812.3" r="0.55" fill="#111" fill-opacity="0.97"/>
<circle cx="588.5" cy="820.1" r="1.13" fill="#111" fill-opacity="0.77"/>
<circle cx="593.9" cy="811.5" r="0.50" fill="#111" fill-opacity="0.85"/>
<circle cx="669.7" cy="848.3" r="1.20" fill="#111" fill-opacity="0.95"/>
<circle cx="599.4" cy="872.2" r="0.46" fill="#111" fill-opacity="0.72"/>
<circle cx="627.0" cy="885.0" r="1.11" fill="#111" fill-opacity="0.90"/>
<circle cx="656.9" cy="807.6" r="0.62" fill="#111" fill-opacity="0.84"/>
<circle cx="658.9" cy="867.8" r="0.47" fill="#111" fill-opacity="0.74"/>
<circle cx="592.7" cy="821.0" r="0.85" fill="#111" fill-opacity="0.94"/>
<circle cx="634.7" cy="796.1" r="0.98" fill="#111" fill-opacity="0.83"/>
<circle cx="587.2" cy="856.0" r="0.46" fill="#111" fill-opacity="0.61"/>
<circle cx="662.6" cy="867.5" r="0.46" fill="#111" fill-opacity="0.93"/>
<circle cx="658.5" cy="807.5" r="0.49" fill="#111" fill-opacity="1.00"/>
<circle cx="594.6" cy="869.3" r="0.46" fill="#111" fill-opacity="0.88"/>
<circle cx="666.4" cy="815.8" r="0.49" fill="#111" fill-opacity="0.84"/>
<circle cx="671.4" cy="832.5" r="0.81" fill="#111" fill-opacity="0.98"/>
<circle cx="591.6" cy="864.5" r="1.10" fill="#111" fill-opacity="0.84"/>
<circle cx="660.3" cy="869.4" r="0.46" fill="#111" fill-opacity="0.82"/>
<circle cx="585.9" cy="845.8" r="0.47" fill="#111" fill-opacity="0.97"/>
<circle cx="590.5" cy="862.1" r="1.06" fill="#111" fill-opacity="0.73"/>
<circle cx="614.1" cy="881.8" r="0.96" fill="#111" fill-opacity="0.65"/>
<circle cx="586.0" cy="829.5" r="0.93" fill="#111" fill-opacity="0.94"/>
<circle cx="637.3" cy="795.2" r="0.45" fill="#111" fill-opacity="1.00"/>
<circle cx="591.8" cy="814.2" r="0.97" fill="#111" fill-opacity="0.83"/>
<circle cx="656.1" cy="803.9" r="0.45" fill="#111" fill-opacity="0.94"/>
<circle cx="669.6" cy="822.4" r="0.48" fill="#111" fill-opacity="0.80"/>
<circle cx="661.9" cy="810.0" r="0.55" fill="#111" fill-opacity="0.63"/>
<circle cx="594.2" cy="818.5" r="1.09" fill="#111" fill-opacity="0.75"/>
<circle cx="667.3" cy="822.7" r="0.64" fill="#111" fill-opacity="0.98"/>
<circle cx="585.6" cy="846.6" r="1.17" fill="#111" fill-opacity="1.00"/>
<circle cx="666.9" cy="817.5" r="0.50" fill="#111" fill-opacity="0.62"/>
<circle cx="585.1" cy="844.1" r="0.47" fill="#111" fill-opacity="0.82"/>
<circle cx="591.7" cy="865.2" r="0.46" fill="#111" fill-opacity="0.74"/>
<circle cx="640.6" cy="795.9" r="1.13" fill="#111" fill-opacity="0.97"/>
<circle cx="656.6" cy="870.4" r="0.45" fill="#111" fill-opacity="0.74"/>
<circle cx="663.3" cy="861.7" r="0.90" fill="#111" fill-opacity="0.86"/>
<circle cx="595.2" cy="810.5" r="0.93" fill="#111" fill-opacity="0.94"/>
<circle cx="665.1" cy="864.9" r="1.11" fill="#111" fill-opacity="0.86"/>
<circle cx="665.1" cy="861.0" r="1.01" fill="#111" fill-opacity="0.88"/>
<circle cx="589.7" cy="853.2" r="0.85" fill="#111" fill-opacity="0.68"/>
<circle cx="638.8" cy="795.3" r="0.55" fill="#111" fill-opacity="0.68"/>
<circle cx="597.1" cy="872.2" r="0.71" fill="#111" fill-opacity="0.73"/>
<circle cx="585.1" cy="830.5" r="0.87" fill="#111" fill-opacity="0.79"/>
<circle cx="586.8" cy="852.9" r="0.67" fill="#111" fill-opacity="0.77"/>
<circle cx="662.8" cy="864.3" r="0.83" fill="#111" fill-opacity="0.73"/>
<circle cx="587.7" cy="854.8" r="0.55" fill="#111" fill-opacity="0.85"/>
<circle cx="590.5" cy="862.3" r="0.98" fill="#111" fill-opacity="0.76"/>
<circle cx="671.1" cy="829.9" r="1.17" fill="#111" fill-opacity="0.85"/>
<circle cx="590.9" cy="860.4" r="1.16" fill="#111" fill-opacity="0.63"/>
<circle cx="667.9" cy="853.0" r="1.06" fill="#111" fill-opacity="0.88"/>
<circle cx="591.7" cy="816.1" r="0.46" fill="#111" fill-opacity="0.66"/>
<circle cx="662.5" cy="810.9" r="0.96" fill="#111" fill-opacity="0.99"/>
<circle cx="663.7" cy="867.7" r="0.69" fill="#111" fill-opacity="0.86"/>
<circle cx="668.0" cy="823.1" r="0.68" fill="#111" fill-opacity="0.68"/>
<circle cx="647.4" cy="880.3" r="0.68" fill="#111" fill-opacity="0.96"/>
<circle cx="590.7" cy="857.3" r="0.67" fill="#111" fill-opacity="0.93"/>
<circle cx="672.0" cy="844.6" r="0.58" fill="#111" fill-opacity="0.72"/>
<circle cx="648.5" cy="800.0" r="0.46" fill="#111" fill-opacity="0.96"/>
<circle cx="589.9" cy="854.6" r="0.65" fill="#111" fill-opacity="0.88"/>
<circle cx="664.7" cy="860.7" r="0.70" fill="#111" fill-opacity="1.00"/>
<circle cx="612.7" cy="879.3" r="1.14" fill="#111" fill-opacity="0.90"/>
<circle cx="591.6" cy="863.7" r="0.45" fill="#111" fill-opacity="0.82"/>
<circle cx="652.7" cy="805.2" r="0.45" fill="#111" fill-opacity="0.62"/>
<circle cx="611.0" cy="798.7" r="0.95" fill="#111" fill-opacity="0.91"/>
<circle cx="657.2" cy="873.0" r="0.97" fill="#111" fill-opacity="0.77"/>
<circle cx="590.3" cy="816.3" r="0.90" fill="#111" fill-opacity="0.77"/>
<circle cx="672.9" cy="837.8" r="0.46" fill="#111" fill-opacity="0.66"/>
<circle cx="586.4" cy="827.8" r="1.15" fill="#111" fill-opacity="0.69"/>
<circle cx="610.8" cy="882.1" r="0.99" fill="#111" fill-opacity="0.62"/>
<circle cx="602.3" cy="873.7" r="0.62" fill="#111" fill-opacity="0.93"/>
<circle cx="601.5" cy="809.2" r="0.58" fill="#111" fill-opacity="0.78"/>
<circle cx="609.9" cy="881.2" r="0.60" fill="#111" fill-opacity="0.91"/>
<circle cx="596.7" cy="809.7" r="0.47" fill="#111" fill-opacity="0.64"/>
<circle cx="595.4" cy="866.9" r="0.95" fill="#111" fill-opacity="0.85"/>
<circle cx="666.4" cy="864.1" r="0.85" fill="#111" fill-opacity="0.88"/>
<circle cx="670.5" cy="827.0" r="0.48" fill="#111" fill-opacity="0.74"/>
<circle cx="642.9" cy="797.4" r="0.63" fill="#111" fill-opacity="0.99"/>
<circle cx="587.4" cy="827.9" r="1.03" fill="#111" fill-opacity="0.61"/>
<circle cx="644.9" cy="882.5" r="0.58" fill="#111" fill-opacity="0.87"/>
<circle cx="590.5" cy="823.9" r="1.15" fill="#111" fill-opacity="0.99"/>
<circle cx="651.8" cy="879.3" r="0.45" fill="#111" fill-opacity="0.69"/>
<circle cx="618.9" cy="884.7" r="0.47" fill="#111" fill-opacity="0.82"/>
<circle cx="619.6" cy="884.3" r="0.49" fill="#111" fill-opacity="0.65"/>
<circle cx="652.1" cy="803.0" r="0.66" fill="#111" fill-opacity="0.72"/>
<circle cx="593.4" cy="812.4" r="0.78" fill="#111" fill-opacity="0.82"/>
<circle cx="637.4" cy="795.9" r="0.71" fill="#111" fill-opacity="0.61"/>
<circle cx="667.4" cy="817.4" r="1.01" fill="#111" fill-opacity="0.67"/>
<circle cx="621.8" cy="796.8" r="0.46" fill="#111" fill-opacity="0.83"/>
<circle cx="664.3" cy="859.6" r="0.50" fill="#111" fill-opacity="0.70"/>
<circle cx="621.3" cy="883.8" r="0.58" fill="#111" fill-opacity="0.80"/>
<circle cx="586.3" cy="839.2" r="1.00" fill="#111" fill-opacity="0.94"/>
<circle cx="589.0" cy="847.2" r="0.48" fill="#111" fill-opacity="0.81"/>
<circle cx="659.2" cy="873.3" r="1.07" fill="#111" fill-opacity="0.69"/>
<circle cx="589.8" cy="855.2" r="0.96" fill="#111" fill-opacity="0.77"/>
<circle cx="668.2" cy="851.8" r="1.08" fill="#111" fill-opacity="0.93"/>
<circle cx="662.5" cy="811.5" r="0.69" fill="#111" fill-opacity="0.86"/>
<circle cx="627.3" cy="885.2" r="0.70" fill="#111" fill-opacity="0.69"/>
<circle cx="593.8" cy="816.0" r="0.93" fill="#111" fill-opacity="0.78"/>
<circle cx="629.9" cy="885.1" r="0.74" fill="#111" fill-opacity="0.82"/>
<circle cx="605.8" cy="878.7" r="0.55" fill="#111" fill-opacity="0.94"/>
<circle cx="607.8" cy="876.6" r="1.01" fill="#111" fill-opacity="0.71"/>
<circle cx="586.2" cy="834.2" r="0.68" fill="#111" fill-opacity="0.65"/>
<circle cx="661.6" cy="868.9" r="0.75" fill="#111" fill-opacity="0.77"/>
<circle cx="609.3" cy="879.9" r="0.71" fill="#111" fill-opacity="0.98"/>
<circle cx="658.7" cy="806.6" r="0.55" fill="#111" fill-opacity="0.98"/>
<circle cx="646.2" cy="881.3" r="0.48" fill="#111" fill-opacity="0.99"/>
<circle cx="626.8" cy="885.3" r="0.72" fill="#111" fill-opacity="0.90"/>
<circle cx="586.4" cy="835.0" r="0.57" fill="#111" fill-opacity="0.60"/>
<circle cx="672.2" cy="834.8" r="0.50" fill="#111" fill-opacity="0.74"/>
<circle cx="629.4" cy="794.2" r="0.75" fill="#111" fill-opacity="0.60"/>
<circle cx="594.2" cy="864.0" r="1.00" fill="#111" fill-opacity="0.65"/>
<circle cx="612.5" cy="881.9" r="0.45" fill="#111" fill-opacity="0.60"/>
<circle cx="594.8" cy="865.4" r="1.06" fill="#111" fill-opacity="0.77"/>
<circle cx="590.7" cy="862.8" r="0.62" fill="#111" fill-opacity="0.93"/>
<circle cx="590.1" cy="826.5" r="0.46" fill="#111" fill-opacity="0.79"/>
<circle cx="585.0" cy="832.0" r="0.81" fill="#111" fill-opacity="0.83"/>
<circle cx="655.6" cy="876.2" r="0.56" fill="#111" fill-opacity="0.85"/>
<circle cx="619.3" cy="883.2" r="0.82" fill="#111" fill-opacity="0.83"/>
<circle cx="586.2" cy="828.0" r="0.76" fill="#111" fill-opacity="0.88"/>
<circle cx="585.5" cy="851.4" r="0.61" fill="#111" fill-opacity="0.66"/>
<circle cx="662.9" cy="867.3" r="0.53" fill="#111" fill-opacity="0.87"/>
<circle cx="645.8" cy="881.7" r="0.79" fill="#111" fill-opacity="0.64"/>
<circle cx="612.9" cy="880.5" r="0.53" fill="#111" fill-opacity="0.91"/>
<circle cx="587.5" cy="822.8" r="0.60" fill="#111" fill-opacity="0.63"/>
<circle cx="589.0" cy="822.4" r="1.14" fill="#111" fill-opacity="0.94"/>
<circle cx="668.8" cy="828.8" r="0.94" fill="#111" fill-opacity="0.73"/>
<circle cx="595.6" cy="870.9" r="0.91" fill="#111" fill-opacity="0.61"/>
<circle cx="669.3" cy="857.0" r="0.55" fill="#111" fill-opacity="0.63"/>
<circle cx="614.0" cy="881.1" r="0.58" fill="#111" fill-opacity="0.80"/>
<circle cx="670.4" cy="845.8" r="0.45" fill="#111" fill-opacity="0.93"/>
<circle cx="658.8" cy="808.1" r="0.90" fill="#111" fill-opacity="0.70"/>
<circle cx="661.8" cy="869.0" r="1.08" fill="#111" fill-opacity="0.98"/>
<circle cx="610.8" cy="799.1" r="0.77" fill="#111" fill-opacity="0.69"/>
<circle cx="659.1" cy="808.5" r="1.13" fill="#111" fill-opacity="0.66"/>
<circle cx="660.3" cy="811.5" r="0.76" fill="#111" fill-opacity="0.90"/>
<circle cx="645.2" cy="881.8" r="0.79" fill="#111" fill-opacity="0.94"/>
<circle cx="585.3" cy="832.1" r="1.13" fill="#111" fill-opacity="0.63"/>
<circle cx="614.9" cy="879.9" r="0.73" fill="#111" fill-opacity="0.65"/>
<circle cx="619.3" cy="884.2" r="0.49" fill="#111" fill-opacity="0.65"/>
<circle cx="592.2" cy="865.2" r="0.51" fill="#111" fill-opacity="0.91"/>
<circle cx="618.9" cy="884.1" r="0.80" fill="#111" fill-opacity="0.89"/>
<circle cx="598.3" cy="872.1" r="0.66" fill="#111" fill-opacity="0.82"/>
<circle cx="665.8" cy="858.4" r="0.45" fill="#111" fill-opacity="0.97"/>
<circle cx="590.4" cy="863.6" r="0.59" fill="#111" fill-opacity="0.64"/>
<circle cx="592.8" cy="820.6" r="0.47" fill="#111" fill-opacity="0.68"/>
<circle cx="651.9" cy="877.7" r="0.55" fill="#111" fill-opacity="0.75"/>
<circle cx="585.2" cy="843.6" r="0.66" fill="#111" fill-opacity="0.66"/>
<circle cx="611.7" cy="882.6" r="0.73" fill="#111" fill-opacity="0.91"/>
<circle cx="652.8" cy="877.2" r="1.16" fill="#111" fill-opacity="0.75"/>
<circle cx="637.6" cy="884.1" r="0.56" fill="#111" fill-opacity="0.67"/>
<circle cx="584.8" cy="836.9" r="0.61" fill="#111" fill-opacity="0.93"/>
<circle cx="610.0" cy="801.7" r="0.65" fill="#111" fill-opacity="0.74"/>
<circle cx="584.8" cy="838.8" r="0.46" fill="#111" fill-opacity="0.90"/>
<circle cx="664.5" cy="861.9" r="0.79" fill="#111" fill-opacity="0.91"/>
<circle cx="592.3" cy="817.6" r="0.82" fill="#111" fill-opacity="0.76"/>
<circle cx="662.1" cy="813.2" r="0.67" fill="#111" fill-opacity="0.87"/>
</g>
<ellipse cx="628.9" cy="947.9" rx="48.5" ry="49.5" fill="#e6e6e6" stroke="#9a9a9a" stroke-width="1.2"/><ellipse cx="628.9" cy="947.9" rx="46.0" ry="47.0" fill="none" stroke="#d6d6d6" stroke-width="0.8"/>
<g filter="url(#bl)">
<circle cx="635.4" cy="912.0" r="1.64" fill="#111" fill-opacity="0.88"/>
<circle cx="651.0" cy="918.8" r="0.94" fill="#111" fill-opacity="0.91"/>
<circle cx="649.6" cy="939.6" r="0.95" fill="#111" fill-opacity="0.99"/>
<circle cx="655.9" cy="971.5" r="1.34" fill="#111" fill-opacity="0.64"/>
<circle cx="606.5" cy="981.3" r="0.74" fill="#111" fill-opacity="0.70"/>
<circle cx="651.5" cy="980.2" r="0.68" fill="#111" fill-opacity="0.77"/>
<circle cx="668.0" cy="962.4" r="0.63" fill="#111" fill-opacity="0.70"/>
<circle cx="618.5" cy="976.6" r="1.16" fill="#111" fill-opacity="0.90"/>
<circle cx="644.2" cy="981.3" r="1.47" fill="#111" fill-opacity="0.62"/>
<circle cx="644.4" cy="989.9" r="0.61" fill="#111" fill-opacity="0.94"/>
<circle cx="625.3" cy="979.3" r="0.66" fill="#111" fill-opacity="0.64"/>
<circle cx="662.9" cy="928.6" r="0.61" fill="#111" fill-opacity="0.98"/>
<circle cx="645.9" cy="974.6" r="1.21" fill="#111" fill-opacity="0.94"/>
<circle cx="605.8" cy="974.9" r="0.80" fill="#111" fill-opacity="0.97"/>
<circle cx="622.7" cy="958.7" r="1.54" fill="#111" fill-opacity="0.80"/>
<circle cx="604.1" cy="954.0" r="0.73" fill="#111" fill-opacity="0.77"/>
<circle cx="602.4" cy="975.7" r="0.79" fill="#111" fill-opacity="0.65"/>
<circle cx="589.8" cy="942.7" r="1.21" fill="#111" fill-opacity="0.81"/>
<circle cx="595.7" cy="926.6" r="0.72" fill="#111" fill-opacity="0.95"/>
<circle cx="633.4" cy="979.8" r="1.72" fill="#111" fill-opacity="0.94"/>
<circle cx="590.7" cy="965.7" r="0.61" fill="#111" fill-opacity="0.72"/>
<circle cx="599.2" cy="974.6" r="0.94" fill="#111" fill-opacity="0.94"/>
<circle cx="600.4" cy="947.3" r="0.87" fill="#111" fill-opacity="0.79"/>
<circle cx="630.7" cy="965.2" r="1.51" fill="#111" fill-opacity="0.77"/>
<circle cx="593.0" cy="954.0" r="1.57" fill="#111" fill-opacity="0.74"/>
<circle cx="627.6" cy="972.6" r="1.35" fill="#111" fill-opacity="0.94"/>
<circle cx="608.0" cy="982.5" r="1.01" fill="#111" fill-opacity="0.62"/>
<circle cx="650.6" cy="969.7" r="0.82" fill="#111" fill-opacity="0.95"/>
<circle cx="649.3" cy="907.9" r="0.68" fill="#111" fill-opacity="0.71"/>
<circle cx="635.7" cy="905.5" r="0.99" fill="#111" fill-opacity="0.80"/>
<circle cx="639.5" cy="978.2" r="1.22" fill="#111" fill-opacity="0.95"/>
<circle cx="650.5" cy="950.3" r="0.63" fill="#111" fill-opacity="0.67"/>
<circle cx="617.7" cy="989.0" r="0.94" fill="#111" fill-opacity="0.84"/>
<circle cx="616.6" cy="914.3" r="0.83" fill="#111" fill-opacity="0.92"/>
<circle cx="657.6" cy="964.3" r="0.94" fill="#111" fill-opacity="0.79"/>
<circle cx="604.8" cy="940.0" r="0.66" fill="#111" fill-opacity="0.69"/>
<circle cx="623.9" cy="988.7" r="1.00" fill="#111" fill-opacity="0.84"/>
<circle cx="625.6" cy="928.0" r="1.08" fill="#111" fill-opacity="0.69"/>
<circle cx="642.5" cy="982.9" r="0.80" fill="#111" fill-opacity="0.60"/>
<circle cx="599.2" cy="958.0" r="1.56" fill="#111" fill-opacity="0.94"/>
<circle cx="616.8" cy="990.8" r="1.78" fill="#111" fill-opacity="0.68"/>
<circle cx="668.0" cy="962.2" r="0.69" fill="#111" fill-opacity="0.82"/>
<circle cx="665.3" cy="960.6" r="0.80" fill="#111" fill-opacity="0.60"/>
<circle cx="645.8" cy="948.7" r="1.07" fill="#111" fill-opacity="0.67"/>
<circle cx="636.0" cy="955.1" r="0.87" fill="#111" fill-opacity="0.70"/>
<circle cx="618.0" cy="967.8" r="0.63" fill="#111" fill-opacity="0.98"/>
<circle cx="645.7" cy="925.7" r="0.98" fill="#111" fill-opacity="0.69"/>
<circle cx="646.4" cy="957.9" r="0.89" fill="#111" fill-opacity="0.72"/>
<circle cx="658.9" cy="969.5" r="1.23" fill="#111" fill-opacity="0.97"/>
<circle cx="600.9" cy="970.4" r="1.31" fill="#111" fill-opacity="0.66"/>
<circle cx="664.2" cy="970.2" r="0.79" fill="#111" fill-opacity="0.98"/>
<circle cx="657.1" cy="965.2" r="0.98" fill="#111" fill-opacity="0.78"/>
<circle cx="595.0" cy="958.2" r="0.70" fill="#111" fill-opacity="0.76"/>
<circle cx="636.8" cy="938.6" r="1.46" fill="#111" fill-opacity="0.65"/>
<circle cx="654.0" cy="967.0" r="1.49" fill="#111" fill-opacity="0.94"/>
<circle cx="648.5" cy="988.7" r="1.65" fill="#111" fill-opacity="0.71"/>
<circle cx="666.9" cy="955.4" r="0.74" fill="#111" fill-opacity="0.64"/>
<circle cx="610.0" cy="954.3" r="0.97" fill="#111" fill-opacity="0.76"/>
<circle cx="620.4" cy="923.7" r="1.07" fill="#111" fill-opacity="0.83"/>
<circle cx="587.5" cy="935.8" r="1.40" fill="#111" fill-opacity="0.60"/>
<circle cx="610.1" cy="917.2" r="0.71" fill="#111" fill-opacity="0.96"/>
<circle cx="658.3" cy="982.1" r="1.00" fill="#111" fill-opacity="0.82"/>
<circle cx="640.0" cy="968.2" r="0.94" fill="#111" fill-opacity="0.80"/>
<circle cx="647.2" cy="930.5" r="0.63" fill="#111" fill-opacity="0.86"/>
<circle cx="626.9" cy="930.4" r="1.04" fill="#111" fill-opacity="0.82"/>
<circle cx="645.2" cy="984.3" r="1.01" fill="#111" fill-opacity="0.87"/>
<circle cx="628.7" cy="905.4" r="1.44" fill="#111" fill-opacity="0.83"/>
<circle cx="665.6" cy="957.2" r="0.89" fill="#111" fill-opacity="0.75"/>
<circle cx="642.9" cy="985.0" r="1.11" fill="#111" fill-opacity="0.98"/>
<circle cx="641.9" cy="958.1" r="0.85" fill="#111" fill-opacity="0.66"/>
<circle cx="604.2" cy="923.4" r="0.64" fill="#111" fill-opacity="0.97"/>
<circle cx="643.9" cy="938.6" r="0.60" fill="#111" fill-opacity="0.98"/>
<circle cx="658.2" cy="975.7" r="1.02" fill="#111" fill-opacity="0.95"/>
<circle cx="651.8" cy="915.5" r="1.37" fill="#111" fill-opacity="0.72"/>
<circle cx="658.5" cy="949.6" r="0.84" fill="#111" fill-opacity="0.82"/>
<circle cx="632.0" cy="969.6" r="1.79" fill="#111" fill-opacity="0.64"/>
<circle cx="672.1" cy="947.4" r="1.05" fill="#111" fill-opacity="0.78"/>
<circle cx="631.3" cy="956.0" r="0.90" fill="#111" fill-opacity="0.67"/>
<circle cx="623.2" cy="961.0" r="0.69" fill="#111" fill-opacity="0.83"/>
<circle cx="625.7" cy="906.1" r="0.66" fill="#111" fill-opacity="0.98"/>
<circle cx="606.4" cy="920.0" r="0.76" fill="#111" fill-opacity="0.73"/>
<circle cx="617.9" cy="919.6" r="1.13" fill="#111" fill-opacity="0.79"/>
<circle cx="624.4" cy="934.9" r="1.57" fill="#111" fill-opacity="0.73"/>
<circle cx="636.7" cy="943.1" r="1.11" fill="#111" fill-opacity="0.84"/>
<circle cx="664.1" cy="952.7" r="1.69" fill="#111" fill-opacity="0.79"/>
<circle cx="662.2" cy="974.2" r="0.61" fill="#111" fill-opacity="0.66"/>
<circle cx="652.8" cy="958.8" r="1.50" fill="#111" fill-opacity="0.63"/>
<circle cx="660.0" cy="941.4" r="1.21" fill="#111" fill-opacity="0.91"/>
<circle cx="609.6" cy="910.5" r="0.69" fill="#111" fill-opacity="0.65"/>
<circle cx="671.1" cy="949.4" r="0.73" fill="#111" fill-opacity="0.70"/>
<circle cx="651.7" cy="965.0" r="0.71" fill="#111" fill-opacity="0.79"/>
<circle cx="652.1" cy="940.5" r="0.64" fill="#111" fill-opacity="0.70"/>
<circle cx="649.9" cy="975.8" r="1.46" fill="#111" fill-opacity="0.62"/>
<circle cx="603.1" cy="944.8" r="0.64" fill="#111" fill-opacity="0.68"/>
<circle cx="661.5" cy="977.1" r="0.83" fill="#111" fill-opacity="0.71"/>
<circle cx="600.5" cy="948.8" r="1.12" fill="#111" fill-opacity="0.61"/>
<circle cx="626.7" cy="929.5" r="1.14" fill="#111" fill-opacity="0.92"/>
<circle cx="670.0" cy="930.5" r="0.87" fill="#111" fill-opacity="0.91"/>
<circle cx="635.0" cy="980.8" r="0.87" fill="#111" fill-opacity="0.82"/>
<circle cx="662.3" cy="941.6" r="1.70" fill="#111" fill-opacity="0.84"/>
<circle cx="612.1" cy="984.8" r="1.64" fill="#111" fill-opacity="0.93"/>
<circle cx="616.8" cy="986.2" r="0.60" fill="#111" fill-opacity="0.82"/>
<circle cx="611.4" cy="981.3" r="1.38" fill="#111" fill-opacity="0.60"/>
<circle cx="660.0" cy="921.0" r="1.15" fill="#111" fill-opacity="0.83"/>
<circle cx="590.6" cy="956.6" r="0.60" fill="#111" fill-opacity="0.87"/>
<circle cx="665.2" cy="932.0" r="1.25" fill="#111" fill-opacity="0.83"/>
<circle cx="627.5" cy="905.3" r="0.64" fill="#111" fill-opacity="0.90"/>
<circle cx="627.6" cy="916.4" r="0.95" fill="#111" fill-opacity="0.79"/>
<circle cx="656.8" cy="981.7" r="0.78" fill="#111" fill-opacity="0.78"/>
<circle cx="660.1" cy="932.7" r="0.75" fill="#111" fill-opacity="0.63"/>
<circle cx="590.0" cy="938.2" r="0.62" fill="#111" fill-opacity="0.77"/>
<circle cx="602.5" cy="981.7" r="1.70" fill="#111" fill-opacity="0.73"/>
<circle cx="613.1" cy="976.0" r="1.26" fill="#111" fill-opacity="0.87"/>
<circle cx="587.6" cy="935.4" r="0.78" fill="#111" fill-opacity="0.96"/>
<circle cx="614.2" cy="990.6" r="0.62" fill="#111" fill-opacity="0.74"/>
<circle cx="616.1" cy="936.3" r="0.92" fill="#111" fill-opacity="0.81"/>
<circle cx="612.7" cy="940.1" r="1.28" fill="#111" fill-opacity="0.93"/>
<circle cx="626.1" cy="993.0" r="0.69" fill="#111" fill-opacity="0.82"/>
<circle cx="622.8" cy="952.7" r="1.53" fill="#111" fill-opacity="0.74"/>
<circle cx="595.8" cy="926.4" r="1.17" fill="#111" fill-opacity="0.67"/>
<circle cx="654.1" cy="979.0" r="0.62" fill="#111" fill-opacity="0.62"/>
<circle cx="619.1" cy="925.6" r="1.23" fill="#111" fill-opacity="0.66"/>
<circle cx="652.9" cy="959.5" r="0.82" fill="#111" fill-opacity="0.72"/>
<circle cx="602.2" cy="971.5" r="1.35" fill="#111" fill-opacity="0.61"/>
<circle cx="647.4" cy="933.6" r="1.14" fill="#111" fill-opacity="0.89"/>
<circle cx="618.6" cy="911.3" r="1.41" fill="#111" fill-opacity="0.83"/>
<circle cx="649.0" cy="916.6" r="0.82" fill="#111" fill-opacity="0.93"/>
<circle cx="646.6" cy="933.3" r="1.60" fill="#111" fill-opacity="0.94"/>
<circle cx="612.4" cy="965.1" r="0.93" fill="#111" fill-opacity="0.65"/>
<circle cx="663.2" cy="938.1" r="0.61" fill="#111" fill-opacity="0.74"/>
<circle cx="666.2" cy="926.7" r="0.64" fill="#111" fill-opacity="0.78"/>
<circle cx="615.9" cy="904.3" r="0.73" fill="#111" fill-opacity="0.88"/>
<circle cx="635.1" cy="981.4" r="1.39" fill="#111" fill-opacity="0.83"/>
<circle cx="644.5" cy="974.0" r="0.68" fill="#111" fill-opacity="0.67"/>
<circle cx="617.9" cy="962.0" r="0.61" fill="#111" fill-opacity="0.77"/>
<circle cx="617.1" cy="969.5" r="1.46" fill="#111" fill-opacity="0.65"/>
<circle cx="589.9" cy="938.7" r="1.77" fill="#111" fill-opacity="0.79"/>
<circle cx="627.7" cy="982.1" r="0.64" fill="#111" fill-opacity="0.87"/>
<circle cx="666.4" cy="954.6" r="1.17" fill="#111" fill-opacity="0.62"/>
<circle cx="668.5" cy="929.9" r="1.66" fill="#111" fill-opacity="0.82"/>
<circle cx="623.2" cy="908.7" r="0.72" fill="#111" fill-opacity="0.97"/>
<circle cx="624.8" cy="993.2" r="1.74" fill="#111" fill-opacity="0.77"/>
<circle cx="619.9" cy="984.9" r="0.99" fill="#111" fill-opacity="0.76"/>
<circle cx="651.3" cy="946.5" r="0.64" fill="#111" fill-opacity="0.63"/>
<circle cx="601.5" cy="948.5" r="1.21" fill="#111" fill-opacity="0.98"/>
<circle cx="590.0" cy="959.0" r="0.82" fill="#111" fill-opacity="0.91"/>
<circle cx="606.2" cy="919.8" r="0.70" fill="#111" fill-opacity="0.81"/>
<circle cx="589.9" cy="957.7" r="0.68" fill="#111" fill-opacity="0.90"/>
<circle cx="595.6" cy="936.5" r="1.55" fill="#111" fill-opacity="0.70"/>
<circle cx="604.6" cy="949.1" r="0.72" fill="#111" fill-opacity="1.00"/>
<circle cx="649.8" cy="981.1" r="1.30" fill="#111" fill-opacity="0.86"/>
<circle cx="657.0" cy="970.6" r="1.25" fill="#111" fill-opacity="0.75"/>
<circle cx="633.6" cy="985.2" r="0.67" fill="#111" fill-opacity="0.85"/>
<circle cx="667.6" cy="961.5" r="1.35" fill="#111" fill-opacity="0.96"/>
<circle cx="632.0" cy="937.8" r="1.10" fill="#111" fill-opacity="0.86"/>
<circle cx="660.0" cy="952.7" r="1.66" fill="#111" fill-opacity="0.67"/>
<circle cx="664.1" cy="930.6" r="0.62" fill="#111" fill-opacity="0.80"/>
<circle cx="658.7" cy="949.5" r="1.22" fill="#111" fill-opacity="0.85"/>
<circle cx="601.1" cy="931.8" r="0.77" fill="#111" fill-opacity="0.95"/>
<circle cx="660.5" cy="948.8" r="0.63" fill="#111" fill-opacity="0.80"/>
<circle cx="626.8" cy="991.5" r="1.56" fill="#111" fill-opacity="0.85"/>
<circle cx="630.5" cy="919.4" r="0.79" fill="#111" fill-opacity="0.90"/>
<circle cx="629.6" cy="941.0" r="0.80" fill="#111" fill-opacity="0.90"/>
<circle cx="652.7" cy="982.5" r="0.81" fill="#111" fill-opacity="0.87"/>
<circle cx="652.0" cy="944.4" r="0.68" fill="#111" fill-opacity="0.76"/>
<circle cx="665.1" cy="949.0" r="0.68" fill="#111" fill-opacity="0.87"/>
<circle cx="629.7" cy="924.4" r="1.08" fill="#111" fill-opacity="0.97"/>
<circle cx="609.1" cy="916.8" r="0.61" fill="#111" fill-opacity="0.89"/>
<circle cx="635.6" cy="970.9" r="1.45" fill="#111" fill-opacity="0.76"/>
<circle cx="655.2" cy="939.4" r="0.60" fill="#111" fill-opacity="0.63"/>
<circle cx="591.1" cy="957.8" r="1.22" fill="#111" fill-opacity="0.72"/>
<circle cx="610.5" cy="944.6" r="0.77" fill="#111" fill-opacity="0.88"/>
<circle cx="638.2" cy="984.7" r="0.73" fill="#111" fill-opacity="0.78"/>
<circle cx="655.3" cy="914.2" r="1.19" fill="#111" fill-opacity="0.89"/>
<circle cx="664.3" cy="951.0" r="0.98" fill="#111" fill-opacity="0.81"/>
<circle cx="617.9" cy="907.6" r="1.30" fill="#111" fill-opacity="0.67"/>
<circle cx="637.2" cy="942.0" r="1.67" fill="#111" fill-opacity="0.95"/>
<circle cx="594.7" cy="940.2" r="0.62" fill="#111" fill-opacity="0.61"/>
<circle cx="653.2" cy="925.7" r="0.82" fill="#111" fill-opacity="0.64"/>
<circle cx="644.8" cy="941.7" r="0.98" fill="#111" fill-opacity="0.75"/>
<circle cx="656.5" cy="983.3" r="0.60" fill="#111" fill-opacity="0.92"/>
<circle cx="635.3" cy="959.9" r="1.01" fill="#111" fill-opacity="0.78"/>
<circle cx="667.9" cy="954.8" r="0.72" fill="#111" fill-opacity="0.78"/>
<circle cx="642.1" cy="988.1" r="0.75" fill="#111" fill-opacity="0.67"/>
<circle cx="642.3" cy="931.8" r="0.73" fill="#111" fill-opacity="0.96"/>
<circle cx="598.1" cy="918.7" r="0.69" fill="#111" fill-opacity="0.74"/>
<circle cx="659.7" cy="945.5" r="0.80" fill="#111" fill-opacity="0.94"/>
<circle cx="647.9" cy="982.1" r="0.81" fill="#111" fill-opacity="0.60"/>
<circle cx="601.5" cy="948.9" r="0.62" fill="#111" fill-opacity="0.62"/>
<circle cx="660.2" cy="926.3" r="1.52" fill="#111" fill-opacity="0.60"/>
<circle cx="622.8" cy="934.2" r="1.79" fill="#111" fill-opacity="0.78"/>
<circle cx="633.9" cy="942.7" r="0.62" fill="#111" fill-opacity="0.67"/>
<circle cx="643.3" cy="941.0" r="1.60" fill="#111" fill-opacity="0.96"/>
<circle cx="654.7" cy="930.1" r="1.16" fill="#111" fill-opacity="0.67"/>
<circle cx="619.7" cy="951.5" r="1.00" fill="#111" fill-opacity="0.81"/>
<circle cx="608.6" cy="982.8" r="1.53" fill="#111" fill-opacity="0.68"/>
<circle cx="621.4" cy="978.0" r="1.74" fill="#111" fill-opacity="0.67"/>
<circle cx="591.0" cy="955.3" r="0.88" fill="#111" fill-opacity="0.88"/>
<circle cx="590.7" cy="971.0" r="1.69" fill="#111" fill-opacity="0.76"/>
<circle cx="649.7" cy="954.2" r="1.74" fill="#111" fill-opacity="0.86"/>
<circle cx="590.1" cy="956.8" r="0.61" fill="#111" fill-opacity="0.71"/>
<circle cx="663.1" cy="974.7" r="0.68" fill="#111" fill-opacity="0.71"/>
<circle cx="598.7" cy="981.4" r="1.36" fill="#111" fill-opacity="0.88"/>
<circle cx="653.9" cy="963.5" r="0.71" fill="#111" fill-opacity="0.81"/>
<circle cx="639.6" cy="980.4" r="1.72" fill="#111" fill-opacity="0.81"/>
<circle cx="633.0" cy="940.1" r="1.53" fill="#111" fill-opacity="0.71"/>
<circle cx="631.0" cy="983.0" r="0.86" fill="#111" fill-opacity="0.76"/>
<circle cx="606.7" cy="961.3" r="1.20" fill="#111" fill-opacity="1.00"/>
<circle cx="591.9" cy="951.0" r="1.46" fill="#111" fill-opacity="0.74"/>
<circle cx="598.1" cy="927.4" r="0.65" fill="#111" fill-opacity="0.92"/>
<circle cx="632.1" cy="913.8" r="1.67" fill="#111" fill-opacity="0.90"/>
<circle cx="627.4" cy="937.0" r="1.74" fill="#111" fill-opacity="0.77"/>
<circle cx="585.6" cy="950.6" r="1.47" fill="#111" fill-opacity="0.63"/>
<circle cx="623.4" cy="945.4" r="1.48" fill="#111" fill-opacity="0.88"/>
<circle cx="613.7" cy="983.5" r="0.67" fill="#111" fill-opacity="0.84"/>
<circle cx="604.4" cy="918.1" r="0.80" fill="#111" fill-opacity="0.68"/>
<circle cx="628.9" cy="915.6" r="1.09" fill="#111" fill-opacity="0.71"/>
<circle cx="651.0" cy="963.6" r="0.64" fill="#111" fill-opacity="0.73"/>
<circle cx="635.4" cy="932.5" r="1.02" fill="#111" fill-opacity="0.97"/>
<circle cx="662.0" cy="974.4" r="0.63" fill="#111" fill-opacity="0.73"/>
<circle cx="639.2" cy="967.5" r="0.72" fill="#111" fill-opacity="0.95"/>
<circle cx="589.9" cy="945.7" r="1.51" fill="#111" fill-opacity="0.98"/>
<circle cx="658.3" cy="923.3" r="1.34" fill="#111" fill-opacity="0.72"/>
<circle cx="644.0" cy="984.4" r="1.68" fill="#111" fill-opacity="0.83"/>
<circle cx="655.1" cy="975.5" r="0.63" fill="#111" fill-opacity="0.75"/>
<circle cx="659.8" cy="953.5" r="1.78" fill="#111" fill-opacity="0.86"/>
<circle cx="655.3" cy="949.3" r="0.85" fill="#111" fill-opacity="0.60"/>
<circle cx="665.6" cy="970.1" r="1.34" fill="#111" fill-opacity="0.82"/>
<circle cx="658.1" cy="963.8" r="0.76" fill="#111" fill-opacity="0.75"/>
<circle cx="658.3" cy="934.4" r="0.64" fill="#111" fill-opacity="0.72"/>
<circle cx="655.1" cy="968.6" r="0.61" fill="#111" fill-opacity="0.63"/>
<circle cx="611.8" cy="959.3" r="0.92" fill="#111" fill-opacity="0.87"/>
<circle cx="667.7" cy="926.9" r="1.74" fill="#111" fill-opacity="0.85"/>
<circle cx="651.5" cy="940.3" r="0.72" fill="#111" fill-opacity="0.88"/>
<circle cx="619.4" cy="963.9" r="0.75" fill="#111" fill-opacity="0.67"/>
<circle cx="624.0" cy="937.4" r="1.12" fill="#111" fill-opacity="0.77"/>
<circle cx="668.1" cy="933.3" r="0.89" fill="#111" fill-opacity="0.62"/>
<circle cx="599.3" cy="960.1" r="1.10" fill="#111" fill-opacity="0.80"/>
<circle cx="669.7" cy="955.0" r="1.23" fill="#111" fill-opacity="0.85"/>
<circle cx="661.9" cy="936.8" r="0.94" fill="#111" fill-opacity="0.71"/>
<circle cx="660.7" cy="949.7" r="1.64" fill="#111" fill-opacity="1.00"/>
<circle cx="650.3" cy="941.9" r="1.77" fill="#111" fill-opacity="0.81"/>
<circle cx="641.8" cy="934.8" r="1.65" fill="#111" fill-opacity="0.74"/>
<circle cx="651.5" cy="925.3" r="1.32" fill="#111" fill-opacity="0.79"/>
<circle cx="626.5" cy="978.1" r="1.74" fill="#111" fill-opacity="0.91"/>
<circle cx="586.1" cy="943.8" r="0.69" fill="#111" fill-opacity="0.94"/>
<circle cx="635.6" cy="947.8" r="1.05" fill="#111" fill-opacity="0.64"/>
<circle cx="662.7" cy="962.1" r="1.74" fill="#111" fill-opacity="0.87"/>
<circle cx="665.0" cy="955.0" r="1.13" fill="#111" fill-opacity="0.68"/>
<circle cx="661.8" cy="927.8" r="1.65" fill="#111" fill-opacity="0.96"/>
<circle cx="636.8" cy="956.9" r="1.20" fill="#111" fill-opacity="0.75"/>
<circle cx="639.1" cy="907.0" r="0.64" fill="#111" fill-opacity="0.91"/>
<circle cx="655.6" cy="952.4" r="1.74" fill="#111" fill-opacity="0.71"/>
<circle cx="643.0" cy="937.1" r="0.78" fill="#111" fill-opacity="0.61"/>
<circle cx="661.7" cy="949.7" r="1.07" fill="#111" fill-opacity="0.85"/>
<circle cx="616.9" cy="906.5" r="1.69" fill="#111" fill-opacity="0.88"/>
<circle cx="652.4" cy="969.3" r="1.67" fill="#111" fill-opacity="0.68"/>
<circle cx="654.8" cy="945.1" r="1.52" fill="#111" fill-opacity="0.70"/>
<circle cx="625.8" cy="983.7" r="0.85" fill="#111" fill-opacity="0.66"/>
<circle cx="664.7" cy="935.6" r="0.80" fill="#111" fill-opacity="0.77"/>
<circle cx="633.6" cy="987.2" r="1.24" fill="#111" fill-opacity="0.80"/>
<circle cx="656.8" cy="978.3" r="0.91" fill="#111" fill-opacity="0.83"/>
<circle cx="647.3" cy="955.7" r="1.24" fill="#111" fill-opacity="0.72"/>
<circle cx="591.2" cy="952.9" r="0.91" fill="#111" fill-opacity="0.64"/>
<circle cx="658.0" cy="969.0" r="1.63" fill="#111" fill-opacity="0.92"/>
<circle cx="605.8" cy="912.7" r="1.24" fill="#111" fill-opacity="0.64"/>
<circle cx="659.4" cy="927.8" r="0.65" fill="#111" fill-opacity="0.99"/>
<circle cx="606.3" cy="948.7" r="0.74" fill="#111" fill-opacity="0.91"/>
<circle cx="650.7" cy="960.7" r="1.44" fill="#111" fill-opacity="0.93"/>
<circle cx="651.4" cy="942.7" r="0.62" fill="#111" fill-opacity="0.63"/>
<circle cx="635.3" cy="905.6" r="0.61" fill="#111" fill-opacity="0.63"/>
<circle cx="620.4" cy="989.6" r="1.39" fill="#111" fill-opacity="0.84"/>
<circle cx="597.5" cy="927.4" r="1.55" fill="#111" fill-opacity="0.63"/>
<circle cx="660.1" cy="953.5" r="1.37" fill="#111" fill-opacity="0.64"/>
<circle cx="627.2" cy="902.9" r="0.79" fill="#111" fill-opacity="0.78"/>
<circle cx="609.5" cy="979.7" r="1.35" fill="#111" fill-opacity="0.81"/>
<circle cx="597.2" cy="937.1" r="1.20" fill="#111" fill-opacity="0.84"/>
<circle cx="635.5" cy="942.8" r="1.08" fill="#111" fill-opacity="0.67"/>
<circle cx="655.1" cy="963.5" r="1.45" fill="#111" fill-opacity="0.94"/>
<circle cx="649.9" cy="956.7" r="0.65" fill="#111" fill-opacity="0.93"/>
<circle cx="661.4" cy="970.6" r="1.03" fill="#111" fill-opacity="0.94"/>
<circle cx="643.6" cy="975.5" r="0.64" fill="#111" fill-opacity="0.88"/>
<circle cx="607.5" cy="916.5" r="0.88" fill="#111" fill-opacity="0.70"/>
<circle cx="634.2" cy="977.9" r="1.55" fill="#111" fill-opacity="0.81"/>
<circle cx="622.7" cy="971.8" r="1.49" fill="#111" fill-opacity="0.95"/>
<circle cx="610.2" cy="926.4" r="0.62" fill="#111" fill-opacity="0.90"/>
<circle cx="652.2" cy="936.4" r="1.42" fill="#111" fill-opacity="0.88"/>
<circle cx="650.4" cy="983.5" r="1.07" fill="#111" fill-opacity="0.71"/>
<circle cx="610.2" cy="980.8" r="1.40" fill="#111" fill-opacity="0.83"/>
<circle cx="661.9" cy="934.2" r="1.61" fill="#111" fill-opacity="0.65"/>
<circle cx="603.7" cy="946.6" r="1.10" fill="#111" fill-opacity="0.93"/>
<circle cx="654.4" cy="954.4" r="1.69" fill="#111" fill-opacity="0.69"/>
<circle cx="669.4" cy="963.4" r="0.60" fill="#111" fill-opacity="0.79"/>
<circle cx="651.7" cy="945.5" r="1.07" fill="#111" fill-opacity="0.79"/>
<circle cx="596.9" cy="917.7" r="1.30" fill="#111" fill-opacity="0.64"/>
<circle cx="623.2" cy="920.8" r="1.16" fill="#111" fill-opacity="0.88"/>
<circle cx="588.7" cy="966.7" r="1.33" fill="#111" fill-opacity="0.74"/>
<circle cx="589.1" cy="966.2" r="1.15" fill="#111" fill-opacity="0.72"/>
<circle cx="596.9" cy="978.6" r="1.40" fill="#111" fill-opacity="0.88"/>
<circle cx="617.2" cy="945.0" r="1.67" fill="#111" fill-opacity="0.64"/>
<circle cx="610.1" cy="920.0" r="0.71" fill="#111" fill-opacity="1.00"/>
<circle cx="610.7" cy="961.2" r="1.30" fill="#111" fill-opacity="0.72"/>
<circle cx="643.4" cy="951.8" r="0.82" fill="#111" fill-opacity="0.88"/>
<circle cx="646.3" cy="980.8" r="1.40" fill="#111" fill-opacity="0.70"/>
<circle cx="669.0" cy="932.0" r="0.60" fill="#111" fill-opacity="0.93"/>
<circle cx="629.1" cy="985.5" r="0.73" fill="#111" fill-opacity="0.97"/>
<circle cx="607.2" cy="918.7" r="1.12" fill="#111" fill-opacity="0.74"/>
<circle cx="658.3" cy="935.2" r="0.83" fill="#111" fill-opacity="0.97"/>
<circle cx="608.3" cy="917.2" r="0.82" fill="#111" fill-opacity="0.73"/>
<circle cx="636.0" cy="986.9" r="0.60" fill="#111" fill-opacity="0.64"/>
<circle cx="662.7" cy="966.6" r="1.67" fill="#111" fill-opacity="0.86"/>
<circle cx="613.4" cy="984.3" r="1.75" fill="#111" fill-opacity="0.97"/>
<circle cx="631.6" cy="973.4" r="0.85" fill="#111" fill-opacity="0.77"/>
<circle cx="667.2" cy="967.1" r="0.81" fill="#111" fill-opacity="0.70"/>
<circle cx="618.2" cy="962.2" r="0.94" fill="#111" fill-opacity="0.81"/>
<circle cx="594.5" cy="967.2" r="1.28" fill="#111" fill-opacity="0.72"/>
<circle cx="600.6" cy="920.8" r="0.86" fill="#111" fill-opacity="0.79"/>
<circle cx="649.2" cy="947.0" r="0.61" fill="#111" fill-opacity="0.67"/>
<circle cx="590.2" cy="934.3" r="1.25" fill="#111" fill-opacity="0.91"/>
<circle cx="651.0" cy="940.7" r="0.89" fill="#111" fill-opacity="0.67"/>
<circle cx="654.9" cy="943.7" r="1.61" fill="#111" fill-opacity="0.70"/>
<circle cx="659.3" cy="956.7" r="0.99" fill="#111" fill-opacity="0.63"/>
<circle cx="658.8" cy="941.0" r="1.19" fill="#111" fill-opacity="0.94"/>
<circle cx="638.5" cy="950.9" r="0.71" fill="#111" fill-opacity="0.80"/>
<circle cx="642.2" cy="981.0" r="0.77" fill="#111" fill-opacity="0.83"/>
<circle cx="655.9" cy="975.2" r="0.82" fill="#111" fill-opacity="0.63"/>
<circle cx="601.0" cy="970.1" r="0.69" fill="#111" fill-opacity="0.67"/>
<circle cx="668.4" cy="953.3" r="0.77" fill="#111" fill-opacity="0.64"/>
<circle cx="594.8" cy="939.4" r="0.97" fill="#111" fill-opacity="0.71"/>
<circle cx="614.7" cy="980.2" r="1.32" fill="#111" fill-opacity="0.72"/>
<circle cx="666.0" cy="926.5" r="0.77" fill="#111" fill-opacity="0.97"/>
<circle cx="649.8" cy="981.2" r="1.04" fill="#111" fill-opacity="0.65"/>
<circle cx="648.4" cy="981.8" r="1.61" fill="#111" fill-opacity="0.82"/>
<circle cx="661.3" cy="930.6" r="0.78" fill="#111" fill-opacity="0.70"/>
<circle cx="595.4" cy="939.0" r="0.88" fill="#111" fill-opacity="0.77"/>
<circle cx="620.9" cy="922.7" r="1.16" fill="#111" fill-opacity="0.87"/>
<circle cx="653.8" cy="963.4" r="1.78" fill="#111" fill-opacity="0.66"/>
<circle cx="626.4" cy="946.7" r="0.63" fill="#111" fill-opacity="0.79"/>
<circle cx="657.8" cy="955.4" r="1.41" fill="#111" fill-opacity="0.76"/>
<circle cx="653.9" cy="915.5" r="1.11" fill="#111" fill-opacity="0.89"/>
<circle cx="628.0" cy="943.7" r="0.83" fill="#111" fill-opacity="0.77"/>
<circle cx="630.7" cy="980.2" r="0.84" fill="#111" fill-opacity="0.99"/>
<circle cx="646.0" cy="987.2" r="1.05" fill="#111" fill-opacity="0.72"/>
<circle cx="610.5" cy="930.0" r="1.20" fill="#111" fill-opacity="0.90"/>
<circle cx="609.9" cy="950.2" r="0.85" fill="#111" fill-opacity="0.90"/>
<circle cx="624.4" cy="960.1" r="0.85" fill="#111" fill-opacity="0.89"/>
<circle cx="613.8" cy="939.9" r="0.83" fill="#111" fill-opacity="0.69"/>
<circle cx="616.3" cy="984.3" r="1.17" fill="#111" fill-opacity="0.89"/>
<circle cx="656.6" cy="914.4" r="1.36" fill="#111" fill-opacity="0.89"/>
<circle cx="636.2" cy="972.5" r="0.70" fill="#111" fill-opacity="0.62"/>
<circle cx="587.3" cy="941.6" r="0.75" fill="#111" fill-opacity="0.90"/>
<circle cx="646.9" cy="935.2" r="0.82" fill="#111" fill-opacity="0.75"/>
<circle cx="667.5" cy="950.0" r="0.89" fill="#111" fill-opacity="0.64"/>
<circle cx="600.2" cy="968.8" r="1.75" fill="#111" fill-opacity="0.70"/>
<circle cx="647.3" cy="941.9" r="1.02" fill="#111" fill-opacity="0.88"/>
<circle cx="650.7" cy="973.3" r="0.62" fill="#111" fill-opacity="0.86"/>
<circle cx="602.2" cy="959.1" r="0.61" fill="#111" fill-opacity="0.96"/>
<circle cx="651.0" cy="911.4" r="1.34" fill="#111" fill-opacity="0.96"/>
<circle cx="586.0" cy="949.0" r="0.81" fill="#111" fill-opacity="0.70"/>
<circle cx="663.7" cy="953.6" r="0.86" fill="#111" fill-opacity="0.97"/>
<circle cx="601.1" cy="970.6" r="1.13" fill="#111" fill-opacity="0.86"/>
<circle cx="590.0" cy="945.6" r="0.98" fill="#111" fill-opacity="0.65"/>
<circle cx="646.4" cy="964.4" r="1.51" fill="#111" fill-opacity="0.86"/>
<circle cx="603.3" cy="943.5" r="1.11" fill="#111" fill-opacity="0.88"/>
<circle cx="602.2" cy="919.1" r="0.70" fill="#111" fill-opacity="0.65"/>
<circle cx="587.2" cy="945.6" r="1.15" fill="#111" fill-opacity="0.74"/>
<circle cx="631.0" cy="920.4" r="0.70" fill="#111" fill-opacity="0.64"/>
<circle cx="665.3" cy="939.2" r="0.61" fill="#111" fill-opacity="0.96"/>
<circle cx="633.7" cy="915.4" r="0.90" fill="#111" fill-opacity="0.92"/>
<circle cx="656.8" cy="920.7" r="0.63" fill="#111" fill-opacity="0.81"/>
<circle cx="600.1" cy="913.7" r="1.71" fill="#111" fill-opacity="0.89"/>
<circle cx="651.0" cy="982.0" r="1.15" fill="#111" fill-opacity="0.88"/>
<circle cx="615.1" cy="988.9" r="1.38" fill="#111" fill-opacity="0.63"/>
<circle cx="619.9" cy="948.0" r="1.49" fill="#111" fill-opacity="0.88"/>
<circle cx="600.0" cy="928.3" r="0.88" fill="#111" fill-opacity="0.71"/>
<circle cx="609.6" cy="917.5" r="0.69" fill="#111" fill-opacity="0.83"/>
<circle cx="596.6" cy="975.4" r="0.91" fill="#111" fill-opacity="0.79"/>
<circle cx="654.0" cy="972.4" r="0.89" fill="#111" fill-opacity="0.86"/>
<circle cx="621.2" cy="990.1" r="1.19" fill="#111" fill-opacity="0.91"/>
<circle cx="637.5" cy="970.7" r="0.69" fill="#111" fill-opacity="0.85"/>
<circle cx="629.4" cy="939.3" r="0.84" fill="#111" fill-opacity="0.89"/>
<circle cx="609.0" cy="924.4" r="1.15" fill="#111" fill-opacity="0.65"/>
<circle cx="629.6" cy="976.8" r="1.66" fill="#111" fill-opacity="0.91"/>
<circle cx="665.1" cy="949.7" r="1.55" fill="#111" fill-opacity="0.60"/>
<circle cx="592.3" cy="929.3" r="0.98" fill="#111" fill-opacity="0.83"/>
<circle cx="663.0" cy="970.6" r="1.31" fill="#111" fill-opacity="0.87"/>
<circle cx="595.9" cy="923.1" r="1.03" fill="#111" fill-opacity="0.80"/>
<circle cx="635.4" cy="982.6" r="0.92" fill="#111" fill-opacity="0.63"/>
<circle cx="665.8" cy="928.4" r="0.84" fill="#111" fill-opacity="0.94"/>
<circle cx="619.9" cy="982.8" r="1.03" fill="#111" fill-opacity="0.61"/>
<circle cx="656.4" cy="976.9" r="1.07" fill="#111" fill-opacity="0.86"/>
<circle cx="662.7" cy="974.6" r="1.01" fill="#111" fill-opacity="0.87"/>
<circle cx="644.2" cy="988.5" r="1.07" fill="#111" fill-opacity="0.79"/>
<circle cx="659.6" cy="955.6" r="1.54" fill="#111" fill-opacity="0.96"/>
<circle cx="661.0" cy="959.6" r="1.53" fill="#111" fill-opacity="0.71"/>
<circle cx="656.8" cy="930.5" r="1.54" fill="#111" fill-opacity="0.94"/>
<circle cx="668.4" cy="942.3" r="0.68" fill="#111" fill-opacity="0.90"/>
<circle cx="657.9" cy="978.1" r="1.00" fill="#111" fill-opacity="0.91"/>
<circle cx="660.6" cy="977.2" r="0.78" fill="#111" fill-opacity="0.94"/>
<circle cx="591.3" cy="934.7" r="0.93" fill="#111" fill-opacity="0.76"/>
<circle cx="600.3" cy="924.1" r="0.61" fill="#111" fill-opacity="0.84"/>
<circle cx="646.1" cy="989.3" r="1.53" fill="#111" fill-opacity="0.79"/>
<circle cx="653.0" cy="954.3" r="1.34" fill="#111" fill-opacity="0.81"/>
<circle cx="599.7" cy="947.0" r="1.50" fill="#111" fill-opacity="0.95"/>
<circle cx="659.9" cy="935.4" r="0.61" fill="#111" fill-opacity="0.96"/>
<circle cx="605.6" cy="923.3" r="1.45" fill="#111" fill-opacity="0.93"/>
<circle cx="652.2" cy="943.2" r="0.74" fill="#111" fill-opacity="0.92"/>
<circle cx="590.7" cy="929.7" r="0.95" fill="#111" fill-opacity="0.92"/>
<circle cx="610.9" cy="980.9" r="1.63" fill="#111" fill-opacity="0.93"/>
<circle cx="666.0" cy="926.5" r="1.41" fill="#111" fill-opacity="0.72"/>
<circle cx="667.3" cy="951.7" r="1.11" fill="#111" fill-opacity="0.66"/>
<circle cx="652.4" cy="978.9" r="1.78" fill="#111" fill-opacity="0.80"/>
<circle cx="629.3" cy="909.2" r="1.09" fill="#111" fill-opacity="0.69"/>
<circle cx="593.2" cy="960.3" r="1.51" fill="#111" fill-opacity="0.86"/>
<circle cx="593.4" cy="967.3" r="0.61" fill="#111" fill-opacity="0.80"/>
<circle cx="645.4" cy="939.1" r="0.62" fill="#111" fill-opacity="0.76"/>
<circle cx="656.0" cy="913.0" r="1.25" fill="#111" fill-opacity="0.88"/>
<circle cx="651.9" cy="977.0" r="0.60" fill="#111" fill-opacity="0.92"/>
<circle cx="618.9" cy="966.6" r="0.83" fill="#111" fill-opacity="0.90"/>
<circle cx="646.1" cy="936.8" r="0.77" fill="#111" fill-opacity="0.71"/>
<circle cx="648.3" cy="955.9" r="1.18" fill="#111" fill-opacity="0.61"/>
<circle cx="632.2" cy="986.3" r="0.66" fill="#111" fill-opacity="0.98"/>
<circle cx="645.9" cy="980.9" r="0.74" fill="#111" fill-opacity="0.87"/>
<circle cx="595.6" cy="919.6" r="1.60" fill="#111" fill-opacity="0.61"/>
<circle cx="623.7" cy="990.5" r="1.32" fill="#111" fill-opacity="0.89"/>
<circle cx="591.5" cy="959.6" r="1.02" fill="#111" fill-opacity="0.86"/>
<circle cx="634.6" cy="957.7" r="0.71" fill="#111" fill-opacity="0.91"/>
<circle cx="638.7" cy="910.0" r="0.62" fill="#111" fill-opacity="0.82"/>
<circle cx="604.6" cy="936.2" r="0.95" fill="#111" fill-opacity="0.75"/>
<circle cx="646.8" cy="917.4" r="0.97" fill="#111" fill-opacity="0.62"/>
<circle cx="668.4" cy="967.6" r="1.21" fill="#111" fill-opacity="0.69"/>
<circle cx="595.4" cy="978.0" r="0.90" fill="#111" fill-opacity="0.86"/>
<circle cx="656.1" cy="914.5" r="1.08" fill="#111" fill-opacity="0.71"/>
<circle cx="584.4" cy="949.6" r="0.93" fill="#111" fill-opacity="0.92"/>
<circle cx="584.0" cy="943.1" r="0.98" fill="#111" fill-opacity="0.71"/>
<circle cx="648.8" cy="907.5" r="0.85" fill="#111" fill-opacity="0.97"/>
<circle cx="587.3" cy="932.6" r="1.36" fill="#111" fill-opacity="0.88"/>
<circle cx="628.1" cy="994.0" r="1.34" fill="#111" fill-opacity="0.60"/>
<circle cx="647.3" cy="987.4" r="0.98" fill="#111" fill-opacity="0.83"/>
<circle cx="666.4" cy="972.4" r="1.72" fill="#111" fill-opacity="0.67"/>
<circle cx="630.0" cy="993.9" r="1.08" fill="#111" fill-opacity="0.80"/>
<circle cx="619.4" cy="989.9" r="1.29" fill="#111" fill-opacity="0.67"/>
<circle cx="669.4" cy="965.0" r="1.09" fill="#111" fill-opacity="0.87"/>
<circle cx="672.4" cy="952.0" r="1.23" fill="#111" fill-opacity="0.89"/>
<circle cx="641.3" cy="988.7" r="1.19" fill="#111" fill-opacity="0.94"/>
<circle cx="672.5" cy="941.8" r="0.80" fill="#111" fill-opacity="0.85"/>
<circle cx="642.7" cy="986.3" r="0.93" fill="#111" fill-opacity="0.62"/>
<circle cx="640.4" cy="990.9" r="0.81" fill="#111" fill-opacity="0.72"/>
<circle cx="650.3" cy="985.9" r="1.17" fill="#111" fill-opacity="0.89"/>
<circle cx="600.4" cy="978.4" r="1.40" fill="#111" fill-opacity="0.85"/>
<circle cx="631.1" cy="990.0" r="1.02" fill="#111" fill-opacity="0.72"/>
<circle cx="584.8" cy="954.9" r="0.87" fill="#111" fill-opacity="0.63"/>
<circle cx="656.3" cy="981.3" r="1.24" fill="#111" fill-opacity="0.87"/>
<circle cx="668.4" cy="966.4" r="1.29" fill="#111" fill-opacity="0.78"/>
<circle cx="599.9" cy="981.4" r="1.59" fill="#111" fill-opacity="0.62"/>
<circle cx="602.6" cy="911.7" r="0.90" fill="#111" fill-opacity="0.72"/>
<circle cx="608.4" cy="981.0" r="0.95" fill="#111" fill-opacity="0.78"/>
<circle cx="671.4" cy="932.4" r="1.13" fill="#111" fill-opacity="0.74"/>
<circle cx="667.6" cy="969.4" r="1.53" fill="#111" fill-opacity="0.90"/>
<circle cx="669.5" cy="964.2" r="1.71" fill="#111" fill-opacity="0.72"/>
<circle cx="666.2" cy="923.6" r="1.71" fill="#111" fill-opacity="0.82"/>
<circle cx="673.9" cy="947.7" r="1.02" fill="#111" fill-opacity="0.78"/>
<circle cx="669.7" cy="940.3" r="1.55" fill="#111" fill-opacity="0.98"/>
<circle cx="608.1" cy="988.4" r="1.27" fill="#111" fill-opacity="0.92"/>
<circle cx="665.0" cy="975.6" r="1.41" fill="#111" fill-opacity="0.80"/>
<circle cx="617.2" cy="991.1" r="1.05" fill="#111" fill-opacity="0.97"/>
<circle cx="611.8" cy="984.3" r="1.77" fill="#111" fill-opacity="0.67"/>
<circle cx="667.1" cy="934.5" r="1.28" fill="#111" fill-opacity="0.95"/>
<circle cx="650.3" cy="983.2" r="0.80" fill="#111" fill-opacity="0.73"/>
<circle cx="583.9" cy="954.8" r="1.65" fill="#111" fill-opacity="0.96"/>
<circle cx="638.5" cy="903.9" r="0.88" fill="#111" fill-opacity="0.80"/>
<circle cx="589.8" cy="931.2" r="1.20" fill="#111" fill-opacity="0.95"/>
<circle cx="595.4" cy="919.5" r="0.89" fill="#111" fill-opacity="0.81"/>
<circle cx="665.5" cy="975.0" r="0.91" fill="#111" fill-opacity="0.64"/>
<circle cx="635.8" cy="991.8" r="1.61" fill="#111" fill-opacity="0.88"/>
<circle cx="631.3" cy="991.4" r="0.86" fill="#111" fill-opacity="0.79"/>
<circle cx="641.3" cy="989.5" r="1.19" fill="#111" fill-opacity="0.75"/>
<circle cx="617.2" cy="991.6" r="0.91" fill="#111" fill-opacity="0.87"/>
<circle cx="643.7" cy="991.1" r="1.12" fill="#111" fill-opacity="0.95"/>
<circle cx="585.6" cy="949.0" r="1.32" fill="#111" fill-opacity="0.71"/>
<circle cx="638.0" cy="904.9" r="1.02" fill="#111" fill-opacity="0.98"/>
<circle cx="654.4" cy="984.0" r="1.23" fill="#111" fill-opacity="0.71"/>
<circle cx="647.5" cy="990.1" r="1.44" fill="#111" fill-opacity="0.79"/>
<circle cx="600.5" cy="977.4" r="1.22" fill="#111" fill-opacity="0.90"/>
<circle cx="590.4" cy="966.0" r="1.71" fill="#111" fill-opacity="0.93"/>
<circle cx="592.2" cy="970.4" r="0.81" fill="#111" fill-opacity="0.73"/>
<circle cx="666.4" cy="955.7" r="1.46" fill="#111" fill-opacity="0.76"/>
<circle cx="584.0" cy="953.7" r="1.67" fill="#111" fill-opacity="0.65"/>
<circle cx="673.7" cy="948.9" r="1.40" fill="#111" fill-opacity="0.89"/>
<circle cx="607.0" cy="987.4" r="1.12" fill="#111" fill-opacity="0.79"/>
<circle cx="586.0" cy="943.6" r="1.50" fill="#111" fill-opacity="0.74"/>
<circle cx="672.6" cy="938.1" r="1.16" fill="#111" fill-opacity="0.82"/>
<circle cx="589.5" cy="965.7" r="0.81" fill="#111" fill-opacity="0.94"/>
<circle cx="640.9" cy="903.1" r="0.84" fill="#111" fill-opacity="0.92"/>
<circle cx="666.1" cy="930.1" r="1.26" fill="#111" fill-opacity="0.99"/>
<circle cx="597.5" cy="975.6" r="0.91" fill="#111" fill-opacity="0.82"/>
<circle cx="665.1" cy="922.4" r="1.08" fill="#111" fill-opacity="0.80"/>
<circle cx="658.2" cy="978.2" r="1.15" fill="#111" fill-opacity="0.64"/>
<circle cx="584.5" cy="941.3" r="0.89" fill="#111" fill-opacity="0.62"/>
<circle cx="619.1" cy="986.6" r="0.83" fill="#111" fill-opacity="0.84"/>
<circle cx="650.0" cy="982.7" r="1.69" fill="#111" fill-opacity="0.83"/>
<circle cx="592.3" cy="927.0" r="0.94" fill="#111" fill-opacity="0.64"/>
<circle cx="587.4" cy="960.9" r="1.19" fill="#111" fill-opacity="0.94"/>
<circle cx="622.8" cy="992.9" r="1.36" fill="#111" fill-opacity="0.80"/>
<circle cx="673.1" cy="941.5" r="1.46" fill="#111" fill-opacity="0.68"/>
<circle cx="654.7" cy="979.6" r="0.93" fill="#111" fill-opacity="0.84"/>
<circle cx="641.4" cy="988.4" r="1.34" fill="#111" fill-opacity="0.62"/>
<circle cx="664.2" cy="972.8" r="0.80" fill="#111" fill-opacity="0.84"/>
<circle cx="613.7" cy="988.1" r="1.78" fill="#111" fill-opacity="0.66"/>
<circle cx="591.3" cy="970.4" r="1.08" fill="#111" fill-opacity="0.71"/>
<circle cx="635.3" cy="990.2" r="0.95" fill="#111" fill-opacity="0.69"/>
<circle cx="673.3" cy="955.8" r="0.80" fill="#111" fill-opacity="0.95"/>
<circle cx="672.2" cy="955.0" r="1.20" fill="#111" fill-opacity="0.82"/>
<circle cx="608.6" cy="987.8" r="1.63" fill="#111" fill-opacity="0.69"/>
<circle cx="671.7" cy="952.9" r="1.68" fill="#111" fill-opacity="0.85"/>
<circle cx="626.5" cy="992.3" r="1.52" fill="#111" fill-opacity="0.72"/>
<circle cx="667.9" cy="967.2" r="0.98" fill="#111" fill-opacity="0.74"/>
<circle cx="587.9" cy="936.1" r="1.07" fill="#111" fill-opacity="0.67"/>
<circle cx="662.8" cy="922.5" r="1.62" fill="#111" fill-opacity="0.99"/>
<circle cx="659.0" cy="980.2" r="0.81" fill="#111" fill-opacity="0.61"/>
<circle cx="647.1" cy="983.1" r="0.98" fill="#111" fill-opacity="0.62"/>
<circle cx="672.1" cy="954.8" r="1.34" fill="#111" fill-opacity="0.62"/>
<circle cx="631.2" cy="993.2" r="1.50" fill="#111" fill-opacity="0.82"/>
<circle cx="585.3" cy="948.8" r="1.67" fill="#111" fill-opacity="0.88"/>
<circle cx="673.1" cy="937.0" r="1.37" fill="#111" fill-opacity="0.63"/>
<circle cx="653.5" cy="980.8" r="1.71" fill="#111" fill-opacity="0.71"/>
<circle cx="591.8" cy="923.5" r="1.75" fill="#111" fill-opacity="0.77"/>
<circle cx="667.7" cy="968.6" r="1.49" fill="#111" fill-opacity="0.67"/>
<circle cx="660.2" cy="980.1" r="1.26" fill="#111" fill-opacity="0.89"/>
<circle cx="671.5" cy="958.1" r="0.82" fill="#111" fill-opacity="0.61"/>
<circle cx="635.6" cy="993.2" r="0.85" fill="#111" fill-opacity="0.99"/>
<circle cx="648.7" cy="986.1" r="1.63" fill="#111" fill-opacity="0.75"/>
<circle cx="584.5" cy="945.7" r="0.81" fill="#111" fill-opacity="0.68"/>
<circle cx="602.3" cy="979.7" r="1.64" fill="#111" fill-opacity="0.87"/>
<circle cx="591.7" cy="971.7" r="0.90" fill="#111" fill-opacity="0.70"/>
<circle cx="653.3" cy="984.2" r="1.65" fill="#111" fill-opacity="0.64"/>
<circle cx="656.7" cy="983.2" r="1.69" fill="#111" fill-opacity="0.78"/>
<circle cx="673.8" cy="948.9" r="1.67" fill="#111" fill-opacity="0.89"/>
<circle cx="653.9" cy="977.1" r="1.40" fill="#111" fill-opacity="0.86"/>
<circle cx="666.4" cy="940.5" r="0.97" fill="#111" fill-opacity="0.68"/>
<circle cx="600.4" cy="982.3" r="0.81" fill="#111" fill-opacity="0.81"/>
<circle cx="647.6" cy="990.2" r="1.25" fill="#111" fill-opacity="0.83"/>
<circle cx="609.6" cy="988.6" r="1.36" fill="#111" fill-opacity="0.77"/>
<circle cx="666.5" cy="957.5" r="0.97" fill="#111" fill-opacity="0.95"/>
<circle cx="589.3" cy="926.1" r="1.07" fill="#111" fill-opacity="0.63"/>
<circle cx="632.9" cy="993.4" r="1.26" fill="#111" fill-opacity="0.83"/>
<circle cx="605.6" cy="980.7" r="0.80" fill="#111" fill-opacity="0.86"/>
<circle cx="667.2" cy="972.0" r="1.19" fill="#111" fill-opacity="0.99"/>
<circle cx="583.3" cy="947.6" r="1.51" fill="#111" fill-opacity="0.82"/>
<circle cx="593.3" cy="974.5" r="1.52" fill="#111" fill-opacity="0.92"/>
<circle cx="667.2" cy="936.9" r="1.65" fill="#111" fill-opacity="0.94"/>
<circle cx="600.2" cy="978.7" r="0.97" fill="#111" fill-opacity="0.77"/>
<circle cx="670.6" cy="937.9" r="1.27" fill="#111" fill-opacity="0.77"/>
<circle cx="598.1" cy="970.5" r="0.98" fill="#111" fill-opacity="0.75"/>
<circle cx="638.5" cy="987.8" r="1.03" fill="#111" fill-opacity="0.62"/>
<circle cx="587.6" cy="966.2" r="0.93" fill="#111" fill-opacity="0.95"/>
<circle cx="589.4" cy="963.7" r="0.94" fill="#111" fill-opacity="0.67"/>
<circle cx="584.3" cy="955.3" r="1.61" fill="#111" fill-opacity="0.85"/>
<circle cx="590.1" cy="925.0" r="1.46" fill="#111" fill-opacity="0.71"/>
<circle cx="592.1" cy="926.9" r="1.40" fill="#111" fill-opacity="0.70"/>
<circle cx="667.4" cy="930.9" r="1.62" fill="#111" fill-opacity="0.70"/>
<circle cx="590.3" cy="923.3" r="0.87" fill="#111" fill-opacity="0.93"/>
<circle cx="657.0" cy="980.4" r="0.80" fill="#111" fill-opacity="0.85"/>
<circle cx="635.9" cy="992.9" r="1.07" fill="#111" fill-opacity="0.76"/>
<circle cx="614.0" cy="991.0" r="0.92" fill="#111" fill-opacity="0.87"/>
<circle cx="621.0" cy="993.2" r="1.63" fill="#111" fill-opacity="0.78"/>
<circle cx="622.3" cy="988.0" r="0.97" fill="#111" fill-opacity="0.81"/>
<circle cx="587.8" cy="931.2" r="0.98" fill="#111" fill-opacity="0.84"/>
<circle cx="627.7" cy="993.8" r="1.37" fill="#111" fill-opacity="0.76"/>
<circle cx="669.9" cy="968.2" r="1.61" fill="#111" fill-opacity="0.92"/>
<circle cx="597.6" cy="976.0" r="0.85" fill="#111" fill-opacity="0.88"/>
<circle cx="613.1" cy="990.4" r="0.99" fill="#111" fill-opacity="0.91"/>
<circle cx="643.4" cy="991.3" r="1.11" fill="#111" fill-opacity="0.82"/>
<circle cx="667.2" cy="968.3" r="1.61" fill="#111" fill-opacity="0.84"/>
<circle cx="586.5" cy="958.6" r="1.28" fill="#111" fill-opacity="0.78"/>
<circle cx="585.4" cy="937.2" r="1.34" fill="#111" fill-opacity="0.85"/>
<circle cx="585.0" cy="944.2" r="1.26" fill="#111" fill-opacity="0.61"/>
<circle cx="609.1" cy="985.4" r="1.03" fill="#111" fill-opacity="0.83"/>
<circle cx="670.1" cy="952.9" r="0.93" fill="#111" fill-opacity="0.96"/>
<circle cx="584.7" cy="953.1" r="1.52" fill="#111" fill-opacity="0.91"/>
<circle cx="589.8" cy="969.3" r="0.89" fill="#111" fill-opacity="0.90"/>
<circle cx="648.5" cy="984.1" r="1.23" fill="#111" fill-opacity="0.94"/>
<circle cx="663.3" cy="920.5" r="1.60" fill="#111" fill-opacity="0.93"/>
<circle cx="665.7" cy="970.8" r="1.36" fill="#111" fill-opacity="0.67"/>
<circle cx="666.4" cy="973.2" r="1.44" fill="#111" fill-opacity="0.63"/>
<circle cx="645.3" cy="904.8" r="0.88" fill="#111" fill-opacity="0.88"/>
<circle cx="596.4" cy="916.3" r="1.78" fill="#111" fill-opacity="0.61"/>
<circle cx="668.5" cy="930.4" r="1.02" fill="#111" fill-opacity="1.00"/>
<circle cx="668.8" cy="968.9" r="1.34" fill="#111" fill-opacity="0.69"/>
<circle cx="670.7" cy="931.0" r="1.42" fill="#111" fill-opacity="0.83"/>
<circle cx="669.9" cy="938.7" r="1.48" fill="#111" fill-opacity="0.62"/>
<circle cx="646.4" cy="989.0" r="1.20" fill="#111" fill-opacity="0.62"/>
<circle cx="664.4" cy="925.5" r="0.83" fill="#111" fill-opacity="0.72"/>
<circle cx="602.1" cy="983.0" r="1.06" fill="#111" fill-opacity="0.87"/>
<circle cx="633.2" cy="988.9" r="0.84" fill="#111" fill-opacity="0.81"/>
<circle cx="590.5" cy="942.3" r="1.48" fill="#111" fill-opacity="0.93"/>
<circle cx="586.0" cy="961.8" r="1.69" fill="#111" fill-opacity="0.87"/>
<circle cx="669.1" cy="959.1" r="1.06" fill="#111" fill-opacity="0.75"/>
<circle cx="643.2" cy="984.8" r="1.62" fill="#111" fill-opacity="0.94"/>
<circle cx="591.5" cy="972.9" r="1.25" fill="#111" fill-opacity="0.67"/>
<circle cx="645.9" cy="987.9" r="1.28" fill="#111" fill-opacity="0.66"/>
<circle cx="589.7" cy="926.2" r="0.85" fill="#111" fill-opacity="0.78"/>
<circle cx="591.8" cy="931.4" r="0.88" fill="#111" fill-opacity="0.95"/>
<circle cx="668.4" cy="930.0" r="1.55" fill="#111" fill-opacity="0.75"/>
<circle cx="611.2" cy="990.3" r="0.89" fill="#111" fill-opacity="0.75"/>
<circle cx="628.9" cy="993.3" r="1.59" fill="#111" fill-opacity="0.75"/>
<circle cx="594.4" cy="970.5" r="0.83" fill="#111" fill-opacity="0.63"/>
<circle cx="620.8" cy="993.2" r="0.94" fill="#111" fill-opacity="0.74"/>
<circle cx="669.3" cy="957.1" r="1.67" fill="#111" fill-opacity="0.99"/>
<circle cx="668.5" cy="933.3" r="1.78" fill="#111" fill-opacity="0.76"/>
<circle cx="660.4" cy="980.1" r="0.81" fill="#111" fill-opacity="0.86"/>
<circle cx="661.9" cy="977.6" r="0.83" fill="#111" fill-opacity="0.89"/>
<circle cx="605.2" cy="983.2" r="1.77" fill="#111" fill-opacity="0.77"/>
<circle cx="591.1" cy="963.4" r="0.84" fill="#111" fill-opacity="0.60"/>
<circle cx="584.5" cy="947.7" r="1.37" fill="#111" fill-opacity="0.75"/>
<circle cx="633.5" cy="989.4" r="0.94" fill="#111" fill-opacity="0.81"/>
<circle cx="669.0" cy="942.0" r="1.12" fill="#111" fill-opacity="0.64"/>
<circle cx="635.3" cy="991.5" r="0.93" fill="#111" fill-opacity="0.94"/>
<circle cx="645.4" cy="987.8" r="1.28" fill="#111" fill-opacity="0.60"/>
<circle cx="594.9" cy="972.8" r="1.30" fill="#111" fill-opacity="1.00"/>
<circle cx="672.0" cy="955.8" r="0.90" fill="#111" fill-opacity="0.72"/>
<circle cx="653.4" cy="984.9" r="1.36" fill="#111" fill-opacity="0.86"/>
<circle cx="659.7" cy="976.6" r="1.22" fill="#111" fill-opacity="0.82"/>
<circle cx="615.5" cy="988.3" r="1.05" fill="#111" fill-opacity="0.65"/>
<circle cx="587.7" cy="933.9" r="1.70" fill="#111" fill-opacity="0.80"/>
<circle cx="671.0" cy="939.4" r="1.79" fill="#111" fill-opacity="0.83"/>
<circle cx="586.3" cy="947.4" r="0.80" fill="#111" fill-opacity="0.80"/>
<circle cx="654.9" cy="913.1" r="1.46" fill="#111" fill-opacity="0.87"/>
<circle cx="663.4" cy="968.2" r="1.06" fill="#111" fill-opacity="0.60"/>
<circle cx="591.5" cy="967.1" r="1.01" fill="#111" fill-opacity="0.82"/>
<circle cx="668.1" cy="956.0" r="1.43" fill="#111" fill-opacity="0.75"/>
<circle cx="586.7" cy="965.0" r="1.28" fill="#111" fill-opacity="0.79"/>
<circle cx="597.2" cy="977.8" r="0.87" fill="#111" fill-opacity="0.86"/>
<circle cx="612.0" cy="991.1" r="1.26" fill="#111" fill-opacity="0.72"/>
<circle cx="609.9" cy="987.6" r="0.93" fill="#111" fill-opacity="0.67"/>
<circle cx="672.5" cy="937.2" r="0.80" fill="#111" fill-opacity="0.71"/>
<circle cx="587.7" cy="930.2" r="1.03" fill="#111" fill-opacity="0.61"/>
<circle cx="614.6" cy="985.7" r="0.81" fill="#111" fill-opacity="0.62"/>
<circle cx="606.3" cy="987.2" r="1.56" fill="#111" fill-opacity="0.73"/>
<circle cx="600.8" cy="911.3" r="0.82" fill="#111" fill-opacity="0.97"/>
<circle cx="590.3" cy="969.5" r="0.80" fill="#111" fill-opacity="0.78"/>
<circle cx="631.7" cy="989.1" r="1.22" fill="#111" fill-opacity="0.83"/>
<circle cx="632.0" cy="994.3" r="1.33" fill="#111" fill-opacity="0.80"/>
<circle cx="659.9" cy="975.8" r="1.28" fill="#111" fill-opacity="0.82"/>
<circle cx="587.6" cy="961.9" r="0.83" fill="#111" fill-opacity="0.85"/>
<circle cx="589.5" cy="926.9" r="1.61" fill="#111" fill-opacity="0.76"/>
<circle cx="625.2" cy="902.3" r="0.90" fill="#111" fill-opacity="0.70"/>
<circle cx="667.7" cy="928.8" r="1.36" fill="#111" fill-opacity="0.83"/>
<circle cx="648.9" cy="989.5" r="1.04" fill="#111" fill-opacity="0.98"/>
<circle cx="588.0" cy="961.5" r="0.93" fill="#111" fill-opacity="0.90"/>
<circle cx="667.3" cy="932.8" r="0.86" fill="#111" fill-opacity="0.69"/>
<circle cx="671.6" cy="956.8" r="1.67" fill="#111" fill-opacity="0.72"/>
<circle cx="674.4" cy="948.8" r="1.36" fill="#111" fill-opacity="0.73"/>
<circle cx="656.1" cy="983.4" r="1.35" fill="#111" fill-opacity="0.78"/>
<circle cx="669.3" cy="962.7" r="0.88" fill="#111" fill-opacity="1.00"/>
<circle cx="615.2" cy="990.8" r="0.86" fill="#111" fill-opacity="0.92"/>
<circle cx="616.5" cy="904.8" r="1.32" fill="#111" fill-opacity="0.76"/>
<circle cx="609.2" cy="988.0" r="1.41" fill="#111" fill-opacity="0.85"/>
<circle cx="643.2" cy="985.8" r="0.94" fill="#111" fill-opacity="0.94"/>
<circle cx="662.5" cy="977.9" r="1.27" fill="#111" fill-opacity="0.65"/>
<circle cx="598.6" cy="977.9" r="0.81" fill="#111" fill-opacity="0.76"/>
<circle cx="591.1" cy="961.5" r="0.99" fill="#111" fill-opacity="0.68"/>
<circle cx="667.1" cy="958.5" r="1.68" fill="#111" fill-opacity="0.93"/>
<circle cx="616.6" cy="991.9" r="0.81" fill="#111" fill-opacity="0.71"/>
<circle cx="584.9" cy="938.6" r="1.51" fill="#111" fill-opacity="0.83"/>
<circle cx="664.0" cy="972.4" r="1.71" fill="#111" fill-opacity="0.83"/>
<circle cx="592.0" cy="962.6" r="0.85" fill="#111" fill-opacity="0.88"/>
<circle cx="591.4" cy="928.8" r="0.81" fill="#111" fill-opacity="0.88"/>
<circle cx="591.4" cy="921.8" r="1.46" fill="#111" fill-opacity="0.98"/>
<circle cx="646.3" cy="985.7" r="1.69" fill="#111" fill-opacity="0.79"/>
<circle cx="634.7" cy="988.3" r="0.90" fill="#111" fill-opacity="0.68"/>
<circle cx="672.0" cy="956.7" r="0.95" fill="#111" fill-opacity="0.84"/>
<circle cx="583.3" cy="947.3" r="0.84" fill="#111" fill-opacity="0.92"/>
<circle cx="585.3" cy="948.5" r="1.02" fill="#111" fill-opacity="0.86"/>
<circle cx="630.2" cy="991.6" r="1.15" fill="#111" fill-opacity="0.70"/>
<circle cx="625.6" cy="993.6" r="0.97" fill="#111" fill-opacity="0.78"/>
<circle cx="659.0" cy="973.5" r="1.17" fill="#111" fill-opacity="0.71"/>
<circle cx="587.4" cy="947.3" r="1.74" fill="#111" fill-opacity="0.72"/>
<circle cx="585.4" cy="937.3" r="1.11" fill="#111" fill-opacity="0.98"/>
<circle cx="595.7" cy="972.4" r="1.22" fill="#111" fill-opacity="0.73"/>
<circle cx="621.5" cy="987.4" r="1.45" fill="#111" fill-opacity="0.90"/>
<circle cx="666.3" cy="968.3" r="1.33" fill="#111" fill-opacity="0.99"/>
<circle cx="586.1" cy="934.9" r="1.00" fill="#111" fill-opacity="0.98"/>
<circle cx="597.2" cy="919.6" r="1.37" fill="#111" fill-opacity="1.00"/>
<circle cx="673.3" cy="938.2" r="1.24" fill="#111" fill-opacity="0.83"/>
<circle cx="601.5" cy="984.2" r="1.05" fill="#111" fill-opacity="0.83"/>
<circle cx="658.0" cy="981.5" r="1.42" fill="#111" fill-opacity="0.99"/>
<circle cx="627.0" cy="987.6" r="1.44" fill="#111" fill-opacity="0.70"/>
<circle cx="633.8" cy="990.8" r="0.94" fill="#111" fill-opacity="1.00"/>
<circle cx="585.5" cy="953.4" r="0.92" fill="#111" fill-opacity="0.92"/>
<circle cx="668.6" cy="926.2" r="0.83" fill="#111" fill-opacity="0.67"/>
<circle cx="594.1" cy="971.7" r="1.59" fill="#111" fill-opacity="0.96"/>
<circle cx="660.8" cy="921.7" r="1.55" fill="#111" fill-opacity="0.66"/>
<circle cx="669.4" cy="939.5" r="0.90" fill="#111" fill-opacity="0.72"/>
<circle cx="588.1" cy="960.1" r="1.64" fill="#111" fill-opacity="0.62"/>
<circle cx="669.5" cy="928.5" r="0.86" fill="#111" fill-opacity="0.95"/>
<circle cx="656.5" cy="915.3" r="1.56" fill="#111" fill-opacity="0.76"/>
<circle cx="668.3" cy="961.2" r="1.72" fill="#111" fill-opacity="0.98"/>
<circle cx="589.3" cy="946.8" r="1.68" fill="#111" fill-opacity="0.77"/>
<circle cx="587.0" cy="962.6" r="1.23" fill="#111" fill-opacity="0.99"/>
<circle cx="671.4" cy="960.3" r="1.21" fill="#111" fill-opacity="0.72"/>
<circle cx="643.4" cy="991.6" r="1.79" fill="#111" fill-opacity="0.63"/>
<circle cx="668.6" cy="938.9" r="0.82" fill="#111" fill-opacity="0.92"/>
<circle cx="588.4" cy="965.8" r="1.42" fill="#111" fill-opacity="0.97"/>
<circle cx="600.0" cy="982.4" r="1.38" fill="#111" fill-opacity="0.79"/>
<circle cx="671.5" cy="954.7" r="1.29" fill="#111" fill-opacity="0.72"/>
<circle cx="619.1" cy="988.6" r="1.51" fill="#111" fill-opacity="0.79"/>
<circle cx="657.7" cy="917.5" r="1.23" fill="#111" fill-opacity="0.97"/>
<circle cx="671.6" cy="949.4" r="1.05" fill="#111" fill-opacity="0.62"/>
<circle cx="665.9" cy="923.5" r="0.99" fill="#111" fill-opacity="0.87"/>
<circle cx="588.5" cy="937.8" r="0.82" fill="#111" fill-opacity="0.83"/>
<circle cx="668.8" cy="962.6" r="1.34" fill="#111" fill-opacity="0.73"/>
<circle cx="656.3" cy="982.0" r="1.75" fill="#111" fill-opacity="0.61"/>
<circle cx="649.0" cy="988.8" r="0.96" fill="#111" fill-opacity="0.73"/>
<circle cx="634.6" cy="988.6" r="0.87" fill="#111" fill-opacity="0.94"/>
<circle cx="585.5" cy="955.9" r="1.11" fill="#111" fill-opacity="0.87"/>
<circle cx="630.1" cy="905.1" r="0.91" fill="#111" fill-opacity="0.92"/>
<circle cx="594.4" cy="977.3" r="1.33" fill="#111" fill-opacity="0.82"/>
<circle cx="589.3" cy="958.8" r="1.61" fill="#111" fill-opacity="0.81"/>
<circle cx="623.1" cy="991.7" r="1.18" fill="#111" fill-opacity="0.81"/>
<circle cx="589.2" cy="961.2" r="0.86" fill="#111" fill-opacity="0.97"/>
<circle cx="647.0" cy="987.5" r="1.24" fill="#111" fill-opacity="0.65"/>
<circle cx="670.4" cy="946.1" r="0.87" fill="#111" fill-opacity="0.67"/>
<circle cx="671.7" cy="936.2" r="0.81" fill="#111" fill-opacity="0.78"/>
<circle cx="586.2" cy="945.6" r="1.03" fill="#111" fill-opacity="0.72"/>
<circle cx="672.8" cy="940.1" r="1.55" fill="#111" fill-opacity="0.90"/>
<circle cx="595.2" cy="975.6" r="0.82" fill="#111" fill-opacity="0.83"/>
<circle cx="630.8" cy="990.6" r="0.99" fill="#111" fill-opacity="0.80"/>
<circle cx="672.1" cy="937.3" r="1.75" fill="#111" fill-opacity="0.96"/>
<circle cx="592.1" cy="974.8" r="0.85" fill="#111" fill-opacity="0.96"/>
<circle cx="595.1" cy="969.1" r="0.87" fill="#111" fill-opacity="0.83"/>
<circle cx="671.7" cy="942.8" r="0.92" fill="#111" fill-opacity="0.68"/>
<circle cx="640.6" cy="992.7" r="1.12" fill="#111" fill-opacity="0.61"/>
<circle cx="630.2" cy="994.4" r="0.80" fill="#111" fill-opacity="0.66"/>
<circle cx="651.0" cy="987.3" r="1.79" fill="#111" fill-opacity="0.69"/>
<circle cx="673.7" cy="949.0" r="1.29" fill="#111" fill-opacity="0.81"/>
<circle cx="617.8" cy="992.1" r="1.31" fill="#111" fill-opacity="0.92"/>
<circle cx="627.7" cy="993.9" r="1.54" fill="#111" fill-opacity="0.87"/>
<circle cx="650.4" cy="984.1" r="1.76" fill="#111" fill-opacity="0.77"/>
<circle cx="660.6" cy="970.0" r="1.76" fill="#111" fill-opacity="0.60"/>
<circle cx="592.8" cy="930.3" r="1.41" fill="#111" fill-opacity="1.00"/>
<circle cx="622.5" cy="993.7" r="1.12" fill="#111" fill-opacity="0.72"/>
<circle cx="672.6" cy="940.3" r="1.22" fill="#111" fill-opacity="0.88"/>
<circle cx="585.4" cy="943.4" r="0.81" fill="#111" fill-opacity="0.63"/>
<circle cx="668.3" cy="968.3" r="1.55" fill="#111" fill-opacity="0.96"/>
<circle cx="668.6" cy="927.6" r="0.87" fill="#111" fill-opacity="0.75"/>
<circle cx="655.2" cy="914.9" r="1.24" fill="#111" fill-opacity="0.76"/>
<circle cx="670.0" cy="932.8" r="0.88" fill="#111" fill-opacity="0.97"/>
<circle cx="666.2" cy="936.6" r="0.98" fill="#111" fill-opacity="0.95"/>
<circle cx="672.3" cy="943.3" r="0.81" fill="#111" fill-opacity="0.77"/>
<circle cx="622.8" cy="992.2" r="1.72" fill="#111" fill-opacity="0.77"/>
<circle cx="589.4" cy="966.8" r="1.42" fill="#111" fill-opacity="0.83"/>
<circle cx="669.1" cy="954.3" r="0.99" fill="#111" fill-opacity="0.67"/>
<circle cx="620.1" cy="993.3" r="1.04" fill="#111" fill-opacity="0.83"/>
<circle cx="664.2" cy="974.5" r="1.22" fill="#111" fill-opacity="0.70"/>
<circle cx="587.2" cy="934.0" r="1.14" fill="#111" fill-opacity="0.94"/>
<circle cx="666.4" cy="931.0" r="1.29" fill="#111" fill-opacity="0.99"/>
<circle cx="586.8" cy="944.8" r="1.07" fill="#111" fill-opacity="0.72"/>
<circle cx="587.8" cy="945.8" r="1.26" fill="#111" fill-opacity="0.74"/>
<circle cx="657.3" cy="982.2" r="0.85" fill="#111" fill-opacity="0.96"/>
<circle cx="672.3" cy="945.7" r="1.54" fill="#111" fill-opacity="0.76"/>
<circle cx="587.1" cy="951.6" r="1.42" fill="#111" fill-opacity="0.71"/>
<circle cx="590.9" cy="968.9" r="1.78" fill="#111" fill-opacity="0.92"/>
<circle cx="627.0" cy="994.2" r="1.48" fill="#111" fill-opacity="0.75"/>
<circle cx="586.4" cy="946.7" r="0.88" fill="#111" fill-opacity="0.79"/>
<circle cx="589.6" cy="955.2" r="1.33" fill="#111" fill-opacity="0.84"/>
<circle cx="629.0" cy="993.4" r="1.16" fill="#111" fill-opacity="0.62"/>
<circle cx="594.9" cy="965.5" r="1.22" fill="#111" fill-opacity="0.82"/>
<circle cx="605.9" cy="980.3" r="0.97" fill="#111" fill-opacity="0.65"/>
<circle cx="645.5" cy="985.3" r="0.81" fill="#111" fill-opacity="0.85"/>
<circle cx="665.4" cy="971.8" r="0.96" fill="#111" fill-opacity="0.82"/>
<circle cx="618.8" cy="992.9" r="1.18" fill="#111" fill-opacity="0.89"/>
<circle cx="667.7" cy="931.8" r="1.07" fill="#111" fill-opacity="0.91"/>
<circle cx="608.1" cy="983.9" r="1.40" fill="#111" fill-opacity="0.98"/>
<circle cx="672.8" cy="936.3" r="1.58" fill="#111" fill-opacity="0.84"/>
<circle cx="598.5" cy="918.4" r="0.87" fill="#111" fill-opacity="0.83"/>
<circle cx="652.5" cy="987.5" r="1.19" fill="#111" fill-opacity="0.71"/>
<circle cx="587.1" cy="957.6" r="1.75" fill="#111" fill-opacity="0.91"/>
<circle cx="603.1" cy="978.0" r="0.87" fill="#111" fill-opacity="0.70"/>
<circle cx="586.2" cy="938.0" r="1.78" fill="#111" fill-opacity="0.66"/>
<circle cx="583.7" cy="946.0" r="0.93" fill="#111" fill-opacity="0.77"/>
<circle cx="607.1" cy="984.2" r="0.94" fill="#111" fill-opacity="0.93"/>
<circle cx="619.7" cy="992.1" r="0.97" fill="#111" fill-opacity="0.65"/>
<circle cx="664.7" cy="926.7" r="0.87" fill="#111" fill-opacity="0.85"/>
<circle cx="670.0" cy="946.1" r="1.70" fill="#111" fill-opacity="0.95"/>
<circle cx="618.4" cy="987.6" r="0.93" fill="#111" fill-opacity="0.78"/>
<circle cx="660.6" cy="980.1" r="0.88" fill="#111" fill-opacity="0.99"/>
<circle cx="670.7" cy="956.2" r="1.34" fill="#111" fill-opacity="0.62"/>
<circle cx="622.9" cy="993.7" r="1.70" fill="#111" fill-opacity="0.80"/>
<circle cx="616.1" cy="988.9" r="1.25" fill="#111" fill-opacity="0.79"/>
<circle cx="587.6" cy="929.9" r="1.39" fill="#111" fill-opacity="0.93"/>
<circle cx="674.4" cy="946.3" r="0.82" fill="#111" fill-opacity="0.94"/>
<circle cx="592.7" cy="971.6" r="1.29" fill="#111" fill-opacity="0.67"/>
<circle cx="634.0" cy="986.8" r="1.57" fill="#111" fill-opacity="0.66"/>
<circle cx="667.4" cy="958.1" r="1.60" fill="#111" fill-opacity="0.63"/>
<circle cx="586.9" cy="940.8" r="1.23" fill="#111" fill-opacity="0.67"/>
<circle cx="663.1" cy="930.3" r="1.68" fill="#111" fill-opacity="0.87"/>
<circle cx="648.7" cy="983.9" r="0.92" fill="#111" fill-opacity="0.90"/>
<circle cx="611.0" cy="987.9" r="1.11" fill="#111" fill-opacity="0.88"/>
<circle cx="594.6" cy="930.2" r="1.75" fill="#111" fill-opacity="0.94"/>
<circle cx="610.5" cy="987.7" r="1.71" fill="#111" fill-opacity="0.71"/>
<circle cx="640.5" cy="990.3" r="1.25" fill="#111" fill-opacity="0.80"/>
<circle cx="656.5" cy="977.6" r="0.92" fill="#111" fill-opacity="0.66"/>
<circle cx="672.5" cy="944.5" r="1.27" fill="#111" fill-opacity="0.93"/>
<circle cx="659.7" cy="981.0" r="0.81" fill="#111" fill-opacity="0.99"/>
<circle cx="627.0" cy="994.3" r="1.77" fill="#111" fill-opacity="0.66"/>
<circle cx="601.6" cy="915.9" r="1.31" fill="#111" fill-opacity="0.70"/>
<circle cx="674.2" cy="945.5" r="1.15" fill="#111" fill-opacity="0.74"/>
<circle cx="663.6" cy="922.9" r="1.47" fill="#111" fill-opacity="0.71"/>
<circle cx="623.0" cy="906.5" r="1.47" fill="#111" fill-opacity="0.63"/>
<circle cx="672.6" cy="937.7" r="0.88" fill="#111" fill-opacity="0.93"/>
<circle cx="592.9" cy="925.1" r="0.94" fill="#111" fill-opacity="0.84"/>
<circle cx="584.4" cy="955.6" r="1.37" fill="#111" fill-opacity="0.70"/>
<circle cx="638.2" cy="991.2" r="0.80" fill="#111" fill-opacity="0.90"/>
<circle cx="666.8" cy="934.5" r="1.08" fill="#111" fill-opacity="0.66"/>
<circle cx="589.6" cy="935.3" r="0.81" fill="#111" fill-opacity="0.66"/>
<circle cx="608.6" cy="987.1" r="0.95" fill="#111" fill-opacity="0.96"/>
<circle cx="669.6" cy="939.9" r="1.44" fill="#111" fill-opacity="0.61"/>
<circle cx="585.4" cy="957.7" r="0.90" fill="#111" fill-opacity="0.73"/>
<circle cx="623.0" cy="994.0" r="1.37" fill="#111" fill-opacity="0.82"/>
<circle cx="654.5" cy="984.2" r="1.27" fill="#111" fill-opacity="0.74"/>
<circle cx="587.9" cy="961.1" r="1.75" fill="#111" fill-opacity="0.63"/>
<circle cx="647.6" cy="908.3" r="0.80" fill="#111" fill-opacity="0.83"/>
<circle cx="661.4" cy="916.7" r="1.76" fill="#111" fill-opacity="0.77"/>
<circle cx="596.1" cy="926.8" r="1.46" fill="#111" fill-opacity="0.92"/>
<circle cx="633.6" cy="986.1" r="1.31" fill="#111" fill-opacity="0.99"/>
<circle cx="585.9" cy="962.0" r="0.85" fill="#111" fill-opacity="0.97"/>
<circle cx="595.5" cy="979.4" r="1.35" fill="#111" fill-opacity="0.80"/>
<circle cx="588.4" cy="968.3" r="0.99" fill="#111" fill-opacity="0.69"/>
<circle cx="584.3" cy="956.8" r="1.26" fill="#111" fill-opacity="0.84"/>
<circle cx="584.8" cy="943.1" r="1.35" fill="#111" fill-opacity="0.70"/>
<circle cx="636.0" cy="991.7" r="0.82" fill="#111" fill-opacity="0.68"/>
<circle cx="668.4" cy="963.3" r="0.80" fill="#111" fill-opacity="0.89"/>
<circle cx="669.3" cy="961.8" r="1.12" fill="#111" fill-opacity="0.61"/>
<circle cx="589.3" cy="961.1" r="1.12" fill="#111" fill-opacity="0.86"/>
<circle cx="585.2" cy="940.0" r="1.68" fill="#111" fill-opacity="0.78"/>
<circle cx="630.5" cy="991.3" r="1.60" fill="#111" fill-opacity="0.83"/>
<circle cx="668.8" cy="953.9" r="1.32" fill="#111" fill-opacity="0.65"/>
<circle cx="594.3" cy="976.5" r="0.85" fill="#111" fill-opacity="0.88"/>
<circle cx="671.6" cy="960.1" r="0.98" fill="#111" fill-opacity="0.98"/>
<circle cx="664.4" cy="963.9" r="0.85" fill="#111" fill-opacity="0.74"/>
<circle cx="589.0" cy="965.3" r="0.83" fill="#111" fill-opacity="0.78"/>
<circle cx="588.2" cy="965.1" r="0.86" fill="#111" fill-opacity="0.95"/>
<circle cx="606.1" cy="908.5" r="1.38" fill="#111" fill-opacity="0.70"/>
<circle cx="644.3" cy="991.1" r="1.19" fill="#111" fill-opacity="0.67"/>
<circle cx="584.9" cy="944.4" r="1.20" fill="#111" fill-opacity="0.82"/>
<circle cx="595.0" cy="978.3" r="1.05" fill="#111" fill-opacity="0.93"/>
<circle cx="587.8" cy="963.0" r="1.22" fill="#111" fill-opacity="0.83"/>
<circle cx="593.4" cy="926.4" r="1.19" fill="#111" fill-opacity="0.77"/>
<circle cx="594.9" cy="968.9" r="1.63" fill="#111" fill-opacity="0.63"/>
<circle cx="595.7" cy="922.8" r="1.40" fill="#111" fill-opacity="0.93"/>
<circle cx="669.4" cy="935.4" r="1.50" fill="#111" fill-opacity="0.79"/>
<circle cx="669.7" cy="943.6" r="0.89" fill="#111" fill-opacity="0.68"/>
<circle cx="596.0" cy="979.8" r="1.79" fill="#111" fill-opacity="0.66"/>
<circle cx="669.4" cy="951.1" r="1.66" fill="#111" fill-opacity="0.71"/>
<circle cx="668.2" cy="925.3" r="1.03" fill="#111" fill-opacity="0.83"/>
<circle cx="633.2" cy="992.7" r="0.86" fill="#111" fill-opacity="0.74"/>
<circle cx="584.5" cy="945.3" r="1.40" fill="#111" fill-opacity="0.68"/>
<circle cx="591.0" cy="962.2" r="0.93" fill="#111" fill-opacity="0.80"/>
<circle cx="584.9" cy="950.9" r="1.70" fill="#111" fill-opacity="0.90"/>
<circle cx="584.4" cy="942.8" r="0.90" fill="#111" fill-opacity="0.67"/>
<circle cx="650.2" cy="981.0" r="1.57" fill="#111" fill-opacity="0.63"/>
<circle cx="646.4" cy="986.6" r="1.51" fill="#111" fill-opacity="0.99"/>
<circle cx="604.9" cy="985.4" r="1.33" fill="#111" fill-opacity="0.68"/>
<circle cx="664.9" cy="923.9" r="1.40" fill="#111" fill-opacity="0.90"/>
<circle cx="666.3" cy="974.3" r="0.91" fill="#111" fill-opacity="0.97"/>
<circle cx="651.5" cy="983.1" r="1.13" fill="#111" fill-opacity="0.84"/>
<circle cx="640.1" cy="992.0" r="1.49" fill="#111" fill-opacity="0.88"/>
<circle cx="590.3" cy="962.6" r="0.86" fill="#111" fill-opacity="0.81"/>
<circle cx="591.4" cy="967.0" r="1.24" fill="#111" fill-opacity="0.62"/>
<circle cx="594.8" cy="971.2" r="1.07" fill="#111" fill-opacity="0.75"/>
<circle cx="591.7" cy="923.8" r="0.96" fill="#111" fill-opacity="0.97"/>
<circle cx="586.9" cy="954.0" r="1.45" fill="#111" fill-opacity="0.75"/>
<circle cx="668.9" cy="969.1" r="1.69" fill="#111" fill-opacity="0.85"/>
<circle cx="598.6" cy="922.4" r="1.51" fill="#111" fill-opacity="0.63"/>
<circle cx="605.2" cy="984.2" r="1.32" fill="#111" fill-opacity="0.88"/>
<circle cx="671.9" cy="949.2" r="1.16" fill="#111" fill-opacity="0.85"/>
<circle cx="656.4" cy="980.7" r="0.91" fill="#111" fill-opacity="0.70"/>
<circle cx="590.8" cy="924.7" r="0.89" fill="#111" fill-opacity="0.95"/>
<circle cx="598.6" cy="976.9" r="1.03" fill="#111" fill-opacity="0.80"/>
<circle cx="586.3" cy="943.5" r="1.10" fill="#111" fill-opacity="0.93"/>
<circle cx="628.3" cy="989.3" r="1.38" fill="#111" fill-opacity="0.92"/>
<circle cx="584.1" cy="952.6" r="0.96" fill="#111" fill-opacity="0.73"/>
<circle cx="601.9" cy="984.7" r="1.30" fill="#111" fill-opacity="0.60"/>
<circle cx="644.6" cy="991.1" r="0.81" fill="#111" fill-opacity="0.81"/>
<circle cx="586.9" cy="965.8" r="1.42" fill="#111" fill-opacity="0.86"/>
<circle cx="590.1" cy="957.7" r="0.92" fill="#111" fill-opacity="0.81"/>
<circle cx="585.5" cy="955.7" r="0.82" fill="#111" fill-opacity="0.78"/>
<circle cx="594.2" cy="969.1" r="1.51" fill="#111" fill-opacity="0.64"/>
<circle cx="625.7" cy="991.0" r="1.78" fill="#111" fill-opacity="0.97"/>
<circle cx="616.2" cy="989.8" r="1.24" fill="#111" fill-opacity="0.99"/>
<circle cx="639.7" cy="991.7" r="1.48" fill="#111" fill-opacity="0.98"/>
<circle cx="672.1" cy="939.0" r="1.06" fill="#111" fill-opacity="0.74"/>
<circle cx="631.4" cy="991.9" r="1.48" fill="#111" fill-opacity="0.73"/>
<circle cx="669.9" cy="967.5" r="1.20" fill="#111" fill-opacity="0.97"/>
<circle cx="623.9" cy="992.8" r="1.40" fill="#111" fill-opacity="0.94"/>
<circle cx="625.1" cy="991.1" r="1.66" fill="#111" fill-opacity="0.84"/>
<circle cx="626.0" cy="992.5" r="1.72" fill="#111" fill-opacity="0.82"/>
<circle cx="670.1" cy="963.1" r="1.15" fill="#111" fill-opacity="0.94"/>
<circle cx="669.7" cy="937.9" r="1.08" fill="#111" fill-opacity="0.76"/>
<circle cx="608.9" cy="984.0" r="1.60" fill="#111" fill-opacity="0.99"/>
<circle cx="651.6" cy="984.9" r="1.01" fill="#111" fill-opacity="0.89"/>
<circle cx="632.4" cy="992.7" r="1.41" fill="#111" fill-opacity="0.87"/>
<circle cx="626.0" cy="991.8" r="0.89" fill="#111" fill-opacity="0.96"/>
<circle cx="649.0" cy="988.5" r="0.85" fill="#111" fill-opacity="0.94"/>
<circle cx="649.7" cy="988.6" r="1.09" fill="#111" fill-opacity="0.80"/>
<circle cx="589.2" cy="931.5" r="0.92" fill="#111" fill-opacity="0.74"/>
<circle cx="665.0" cy="970.5" r="1.27" fill="#111" fill-opacity="1.00"/>
<circle cx="619.0" cy="990.0" r="0.99" fill="#111" fill-opacity="0.93"/>
<circle cx="666.3" cy="924.0" r="0.99" fill="#111" fill-opacity="0.73"/>
<circle cx="627.3" cy="988.7" r="1.41" fill="#111" fill-opacity="0.79"/>
<circle cx="586.4" cy="963.9" r="0.86" fill="#111" fill-opacity="0.63"/>
<circle cx="612.6" cy="989.3" r="1.59" fill="#111" fill-opacity="0.78"/>
<circle cx="600.9" cy="974.8" r="1.43" fill="#111" fill-opacity="0.98"/>
<circle cx="617.9" cy="902.9" r="1.31" fill="#111" fill-opacity="0.69"/>
<circle cx="667.9" cy="942.4" r="1.51" fill="#111" fill-opacity="0.65"/>
<circle cx="651.7" cy="980.9" r="1.62" fill="#111" fill-opacity="0.84"/>
<circle cx="662.5" cy="974.3" r="0.95" fill="#111" fill-opacity="0.69"/>
<circle cx="672.8" cy="939.5" r="1.10" fill="#111" fill-opacity="0.76"/>
<circle cx="672.6" cy="939.6" r="1.39" fill="#111" fill-opacity="0.83"/>
<circle cx="593.2" cy="973.8" r="1.00" fill="#111" fill-opacity="0.63"/>
<circle cx="590.8" cy="968.1" r="1.38" fill="#111" fill-opacity="0.67"/>
<circle cx="661.9" cy="978.6" r="0.81" fill="#111" fill-opacity="0.81"/>
<circle cx="592.8" cy="973.5" r="1.33" fill="#111" fill-opacity="0.77"/>
<circle cx="665.5" cy="967.3" r="1.04" fill="#111" fill-opacity="0.90"/>
<circle cx="590.5" cy="948.6" r="1.58" fill="#111" fill-opacity="0.67"/>
<circle cx="671.8" cy="955.1" r="1.52" fill="#111" fill-opacity="0.80"/>
<circle cx="664.0" cy="920.6" r="1.00" fill="#111" fill-opacity="0.91"/>
<circle cx="598.1" cy="972.0" r="1.19" fill="#111" fill-opacity="0.73"/>
<circle cx="593.3" cy="976.1" r="1.60" fill="#111" fill-opacity="0.76"/>
<circle cx="669.8" cy="928.8" r="1.02" fill="#111" fill-opacity="0.98"/>
<circle cx="626.9" cy="992.9" r="1.76" fill="#111" fill-opacity="0.81"/>
<circle cx="669.8" cy="936.0" r="1.13" fill="#111" fill-opacity="1.00"/>
<circle cx="653.4" cy="917.3" r="0.80" fill="#111" fill-opacity="0.93"/>
<circle cx="586.4" cy="935.4" r="1.12" fill="#111" fill-opacity="0.68"/>
<circle cx="588.4" cy="937.7" r="0.84" fill="#111" fill-opacity="0.81"/>
<circle cx="583.7" cy="949.6" r="1.36" fill="#111" fill-opacity="0.67"/>
<circle cx="600.9" cy="912.0" r="1.13" fill="#111" fill-opacity="0.73"/>
<circle cx="615.0" cy="988.4" r="1.76" fill="#111" fill-opacity="0.82"/>
<circle cx="591.6" cy="925.9" r="1.22" fill="#111" fill-opacity="0.76"/>
<circle cx="668.1" cy="969.5" r="0.81" fill="#111" fill-opacity="0.81"/>
<circle cx="597.9" cy="981.5" r="1.32" fill="#111" fill-opacity="0.92"/>
<circle cx="587.7" cy="951.5" r="1.21" fill="#111" fill-opacity="0.87"/>
<circle cx="588.6" cy="933.9" r="1.34" fill="#111" fill-opacity="0.61"/>
<circle cx="620.2" cy="988.0" r="1.54" fill="#111" fill-opacity="0.60"/>
<circle cx="627.7" cy="993.2" r="1.64" fill="#111" fill-opacity="0.91"/>
<circle cx="674.4" cy="947.0" r="1.18" fill="#111" fill-opacity="0.72"/>
<circle cx="663.3" cy="968.6" r="1.45" fill="#111" fill-opacity="0.79"/>
<circle cx="674.1" cy="952.9" r="1.52" fill="#111" fill-opacity="0.81"/>
<circle cx="672.2" cy="947.8" r="1.11" fill="#111" fill-opacity="0.60"/>
</g>
<text x="578" y="997" font-size="13" font-family="Liberation Serif" font-style="italic" font-weight="normal" fill="#111" style="stroke:#111;stroke-width:0.4px">Xn</text>
<text x="-0.76" y="24.20" font-size="35" textLength="25.55" lengthAdjust="spacingAndGlyphs" fill="#000">A</text>
<g stroke="#828282" fill="none">
<line x1="97.20" y1="89.00" x2="97.20" y2="270.30" stroke-width="1.8"/>
<line x1="93.50" y1="250.16" x2="97.20" y2="250.16" stroke-width="1.5"/>
<line x1="93.50" y1="230.01" x2="97.20" y2="230.01" stroke-width="1.5"/>
<line x1="93.50" y1="209.87" x2="97.20" y2="209.87" stroke-width="1.5"/>
<line x1="93.50" y1="189.72" x2="97.20" y2="189.72" stroke-width="1.5"/>
<line x1="93.50" y1="169.58" x2="97.20" y2="169.58" stroke-width="1.5"/>
<line x1="93.50" y1="149.44" x2="97.20" y2="149.44" stroke-width="1.5"/>
<line x1="93.50" y1="129.29" x2="97.20" y2="129.29" stroke-width="1.5"/>
<line x1="93.50" y1="109.15" x2="97.20" y2="109.15" stroke-width="1.5"/>
<line x1="93.50" y1="89.00" x2="97.20" y2="89.00" stroke-width="1.5"/>
<line x1="93.50" y1="270.30" x2="322.80" y2="270.30" stroke-width="2.3"/>
</g>
<text x="77.33" y="277.81" font-size="22" textLength="11.62" lengthAdjust="spacingAndGlyphs" fill="#000">0</text>
<text x="65.63" y="257.64" font-size="22" textLength="23.24" lengthAdjust="spacingAndGlyphs" fill="#000">10</text>
<text x="65.63" y="237.48" font-size="22" textLength="23.24" lengthAdjust="spacingAndGlyphs" fill="#000">20</text>
<text x="65.63" y="217.31" font-size="22" textLength="23.24" lengthAdjust="spacingAndGlyphs" fill="#000">30</text>
<text x="65.63" y="197.14" font-size="22" textLength="23.24" lengthAdjust="spacingAndGlyphs" fill="#000">40</text>
<text x="65.63" y="176.98" font-size="22" textLength="23.24" lengthAdjust="spacingAndGlyphs" fill="#000">50</text>
<text x="65.63" y="156.81" font-size="22" textLength="23.24" lengthAdjust="spacingAndGlyphs" fill="#000">60</text>
<text x="65.63" y="136.64" font-size="22" textLength="23.24" lengthAdjust="spacingAndGlyphs" fill="#000">70</text>
<text x="65.63" y="116.48" font-size="22" textLength="23.24" lengthAdjust="spacingAndGlyphs" fill="#000">80</text>
<text x="65.63" y="96.31" font-size="22" textLength="23.24" lengthAdjust="spacingAndGlyphs" fill="#000">90</text>
<text x="118.62" y="294.90" font-size="21.8" textLength="11.27" lengthAdjust="spacingAndGlyphs" fill="#000">1</text>
<text x="176.32" y="294.90" font-size="21.8" textLength="11.27" lengthAdjust="spacingAndGlyphs" fill="#000">4</text>
<text x="232.22" y="294.90" font-size="21.8" textLength="11.27" lengthAdjust="spacingAndGlyphs" fill="#000">6</text>
<text x="289.82" y="294.90" font-size="21.8" textLength="11.27" lengthAdjust="spacingAndGlyphs" fill="#000">8</text>
<text x="156.09" y="317.70" font-size="22" textLength="117.75" lengthAdjust="spacingAndGlyphs" fill="#000">Time (days)</text>
<text transform="translate(55.90,303.11) rotate(-90)" x="0" y="0" font-size="21.3" textLength="290.18" lengthAdjust="spacingAndGlyphs">Relative cell number (x1000)</text>
<line x1="105.3" y1="54.9" x2="134.2" y2="54.9" stroke="#df2621" stroke-width="2.7"/>
<rect x="114.55" y="49.70" width="10.40" height="10.40" rx="1" fill="#df2621"/>
<line x1="105.3" y1="82.4" x2="134.2" y2="82.4" stroke="#000" stroke-width="2.7"/>
<path d="M119.75,78.20 L124.25,87.20 L115.25,87.20 Z" fill="#000" stroke="#000" stroke-width="1" stroke-linejoin="round"/>
<text x="141.38" y="61.50" font-size="22" textLength="84.38" lengthAdjust="spacingAndGlyphs" fill="#000">miR-145</text>
<text x="142.27" y="88.10" font-size="22" textLength="78.95" lengthAdjust="spacingAndGlyphs" fill="#000">AllStars</text>
<polyline points="124.60,256.50 181.50,193.50 238.00,151.70 294.30,141.10" fill="none" stroke="#df2621" stroke-width="3.6" stroke-linejoin="round"/>
<polyline points="124.60,248.60 181.50,160.50 238.00,125.20 294.30,125.20" fill="none" stroke="#000" stroke-width="3.6" stroke-linejoin="round"/>
<line x1="124.60" y1="253.50" x2="124.60" y2="259.50" stroke="#000" stroke-width="3.0"/>
<rect x="121.20" y="251.70" width="6.80" height="3.60" fill="#000"/>
<rect x="121.20" y="257.70" width="6.80" height="3.60" fill="#000"/>
<line x1="181.50" y1="189.50" x2="181.50" y2="197.50" stroke="#000" stroke-width="3.0"/>
<rect x="178.10" y="187.70" width="6.80" height="3.60" fill="#000"/>
<rect x="178.10" y="195.70" width="6.80" height="3.60" fill="#000"/>
<line x1="238.00" y1="140.90" x2="238.00" y2="162.50" stroke="#000" stroke-width="3.0"/>
<rect x="234.60" y="139.10" width="6.80" height="3.60" fill="#000"/>
<rect x="234.60" y="160.70" width="6.80" height="3.60" fill="#000"/>
<line x1="294.30" y1="134.20" x2="294.30" y2="148.00" stroke="#000" stroke-width="3.0"/>
<rect x="290.90" y="132.40" width="6.80" height="3.60" fill="#000"/>
<rect x="290.90" y="146.20" width="6.80" height="3.60" fill="#000"/>
<line x1="124.60" y1="240.00" x2="124.60" y2="257.20" stroke="#000" stroke-width="3.0"/>
<rect x="121.20" y="238.20" width="6.80" height="3.60" fill="#000"/>
<rect x="121.20" y="255.40" width="6.80" height="3.60" fill="#000"/>
<line x1="181.50" y1="151.20" x2="181.50" y2="169.80" stroke="#000" stroke-width="3.0"/>
<rect x="178.10" y="149.40" width="6.80" height="3.60" fill="#000"/>
<rect x="178.10" y="168.00" width="6.80" height="3.60" fill="#000"/>
<line x1="238.00" y1="113.20" x2="238.00" y2="137.20" stroke="#000" stroke-width="3.0"/>
<rect x="234.60" y="111.40" width="6.80" height="3.60" fill="#000"/>
<rect x="234.60" y="135.40" width="6.80" height="3.60" fill="#000"/>
<line x1="294.30" y1="116.00" x2="294.30" y2="134.40" stroke="#000" stroke-width="3.0"/>
<rect x="290.90" y="114.20" width="6.80" height="3.60" fill="#000"/>
<rect x="290.90" y="132.60" width="6.80" height="3.60" fill="#000"/>
<rect x="118.40" y="250.30" width="12.40" height="12.40" rx="1" fill="#df2621"/>
<rect x="175.30" y="187.30" width="12.40" height="12.40" rx="1" fill="#df2621"/>
<rect x="231.80" y="145.50" width="12.40" height="12.40" rx="1" fill="#df2621"/>
<rect x="288.10" y="134.90" width="12.40" height="12.40" rx="1" fill="#df2621"/>
<path d="M124.60,241.50 L130.40,254.50 L118.80,254.50 Z" fill="#000" stroke="#000" stroke-width="1" stroke-linejoin="round"/>
<path d="M181.50,153.40 L187.30,166.40 L175.70,166.40 Z" fill="#000" stroke="#000" stroke-width="1" stroke-linejoin="round"/>
<path d="M238.00,118.10 L243.80,131.10 L232.20,131.10 Z" fill="#000" stroke="#000" stroke-width="1" stroke-linejoin="round"/>
<path d="M294.30,118.10 L300.10,131.10 L288.50,131.10 Z" fill="#000" stroke="#000" stroke-width="1" stroke-linejoin="round"/>
<text transform="translate(180.60,132.60) scale(0.9,1.04)" x="-4.74" y="12.41" font-size="24.32">*</text>
<text transform="translate(237.60,94.10) scale(0.9,1.04)" x="-4.74" y="12.41" font-size="24.32">*</text>
<text x="345.86" y="24.20" font-size="35" textLength="24.15" lengthAdjust="spacingAndGlyphs" fill="#000">B</text>
<g stroke="#828282" fill="none">
<line x1="446.00" y1="89.02" x2="446.00" y2="269.90" stroke-width="1.8"/>
<line x1="442.30" y1="244.06" x2="446.00" y2="244.06" stroke-width="1.5"/>
<line x1="442.30" y1="218.22" x2="446.00" y2="218.22" stroke-width="1.5"/>
<line x1="442.30" y1="192.38" x2="446.00" y2="192.38" stroke-width="1.5"/>
<line x1="442.30" y1="166.54" x2="446.00" y2="166.54" stroke-width="1.5"/>
<line x1="442.30" y1="140.70" x2="446.00" y2="140.70" stroke-width="1.5"/>
<line x1="442.30" y1="114.86" x2="446.00" y2="114.86" stroke-width="1.5"/>
<line x1="442.30" y1="89.02" x2="446.00" y2="89.02" stroke-width="1.5"/>
<line x1="442.30" y1="269.90" x2="674.30" y2="269.90" stroke-width="2.3"/>
</g>
<text x="426.63" y="276.31" font-size="22" textLength="11.62" lengthAdjust="spacingAndGlyphs" fill="#000">0</text>
<text x="414.93" y="250.51" font-size="22" textLength="23.24" lengthAdjust="spacingAndGlyphs" fill="#000">10</text>
<text x="414.93" y="224.71" font-size="22" textLength="23.24" lengthAdjust="spacingAndGlyphs" fill="#000">20</text>
<text x="414.93" y="198.91" font-size="22" textLength="23.24" lengthAdjust="spacingAndGlyphs" fill="#000">30</text>
<text x="414.93" y="173.11" font-size="22" textLength="23.24" lengthAdjust="spacingAndGlyphs" fill="#000">40</text>
<text x="414.93" y="147.31" font-size="22" textLength="23.24" lengthAdjust="spacingAndGlyphs" fill="#000">50</text>
<text x="414.93" y="121.51" font-size="22" textLength="23.24" lengthAdjust="spacingAndGlyphs" fill="#000">60</text>
<text x="414.93" y="95.71" font-size="22" textLength="23.24" lengthAdjust="spacingAndGlyphs" fill="#000">70</text>
<text x="468.12" y="290.50" font-size="21.8" textLength="11.27" lengthAdjust="spacingAndGlyphs" fill="#000">1</text>
<text x="525.42" y="290.50" font-size="21.8" textLength="11.27" lengthAdjust="spacingAndGlyphs" fill="#000">4</text>
<text x="581.32" y="290.50" font-size="21.8" textLength="11.27" lengthAdjust="spacingAndGlyphs" fill="#000">6</text>
<text x="638.22" y="290.50" font-size="21.8" textLength="11.27" lengthAdjust="spacingAndGlyphs" fill="#000">8</text>
<text x="507.09" y="318.20" font-size="22" textLength="116.84" lengthAdjust="spacingAndGlyphs" fill="#000">Time (days)</text>
<text transform="translate(403.80,305.91) rotate(-90)" x="0" y="0" font-size="21.3" textLength="289.98" lengthAdjust="spacingAndGlyphs">Relative cell number (x1000)</text>
<line x1="458.2" y1="49.8" x2="487.8" y2="49.8" stroke="#df2621" stroke-width="2.7"/>
<rect x="467.50" y="44.30" width="11.00" height="11.00" rx="1" fill="#df2621"/>
<line x1="458.2" y1="77.4" x2="487.8" y2="77.4" stroke="#000" stroke-width="2.7"/>
<path d="M473.00,73.50 L477.20,81.90 L468.80,81.90 Z" fill="#000" stroke="#000" stroke-width="1" stroke-linejoin="round"/>
<text x="495.29" y="57.00" font-size="22" textLength="83.97" lengthAdjust="spacingAndGlyphs" fill="#000">miR-575</text>
<text x="496.17" y="83.90" font-size="22" textLength="79.15" lengthAdjust="spacingAndGlyphs" fill="#000">AllStars</text>
<polyline points="474.80,263.00 531.80,209.00 588.60,174.30 645.70,166.80" fill="none" stroke="#000" stroke-width="3.6" stroke-linejoin="round"/>
<polyline points="474.80,262.00 531.80,184.20 588.60,130.90 645.70,122.70" fill="none" stroke="#df2621" stroke-width="3.6" stroke-linejoin="round"/>
<line x1="474.80" y1="261.00" x2="474.80" y2="265.00" stroke="#000" stroke-width="3.0"/>
<rect x="471.40" y="259.20" width="6.80" height="3.60" fill="#000"/>
<rect x="471.40" y="263.20" width="6.80" height="3.60" fill="#000"/>
<line x1="531.80" y1="199.00" x2="531.80" y2="219.00" stroke="#000" stroke-width="3.0"/>
<rect x="528.40" y="197.20" width="6.80" height="3.60" fill="#000"/>
<rect x="528.40" y="217.20" width="6.80" height="3.60" fill="#000"/>
<line x1="588.60" y1="164.10" x2="588.60" y2="184.50" stroke="#000" stroke-width="3.0"/>
<rect x="585.20" y="162.30" width="6.80" height="3.60" fill="#000"/>
<rect x="585.20" y="182.70" width="6.80" height="3.60" fill="#000"/>
<line x1="645.70" y1="155.60" x2="645.70" y2="178.00" stroke="#000" stroke-width="3.0"/>
<rect x="642.30" y="153.80" width="6.80" height="3.60" fill="#000"/>
<rect x="642.30" y="176.20" width="6.80" height="3.60" fill="#000"/>
<line x1="474.80" y1="259.00" x2="474.80" y2="265.00" stroke="#000" stroke-width="3.0"/>
<rect x="471.40" y="257.20" width="6.80" height="3.60" fill="#000"/>
<rect x="471.40" y="263.20" width="6.80" height="3.60" fill="#000"/>
<line x1="531.80" y1="177.40" x2="531.80" y2="191.00" stroke="#000" stroke-width="3.0"/>
<rect x="528.40" y="175.60" width="6.80" height="3.60" fill="#000"/>
<rect x="528.40" y="189.20" width="6.80" height="3.60" fill="#000"/>
<line x1="588.60" y1="123.10" x2="588.60" y2="138.70" stroke="#000" stroke-width="3.0"/>
<rect x="585.20" y="121.30" width="6.80" height="3.60" fill="#000"/>
<rect x="585.20" y="136.90" width="6.80" height="3.60" fill="#000"/>
<line x1="645.70" y1="116.50" x2="645.70" y2="128.90" stroke="#000" stroke-width="3.0"/>
<rect x="642.30" y="114.70" width="6.80" height="3.60" fill="#000"/>
<rect x="642.30" y="127.10" width="6.80" height="3.60" fill="#000"/>
<path d="M474.80,255.90 L480.60,268.90 L469.00,268.90 Z" fill="#000" stroke="#000" stroke-width="1" stroke-linejoin="round"/>
<path d="M531.80,201.90 L537.60,214.90 L526.00,214.90 Z" fill="#000" stroke="#000" stroke-width="1" stroke-linejoin="round"/>
<path d="M588.60,167.20 L594.40,180.20 L582.80,180.20 Z" fill="#000" stroke="#000" stroke-width="1" stroke-linejoin="round"/>
<path d="M645.70,159.70 L651.50,172.70 L639.90,172.70 Z" fill="#000" stroke="#000" stroke-width="1" stroke-linejoin="round"/>
<rect x="468.60" y="255.80" width="12.40" height="12.40" rx="1" fill="#df2621"/>
<rect x="525.60" y="178.00" width="12.40" height="12.40" rx="1" fill="#df2621"/>
<rect x="582.40" y="124.70" width="12.40" height="12.40" rx="1" fill="#df2621"/>
<rect x="639.50" y="116.50" width="12.40" height="12.40" rx="1" fill="#df2621"/>
<text transform="translate(531.60,159.20) scale(0.9,1.04)" x="-4.74" y="12.41" font-size="24.32">*</text>
<text transform="translate(588.00,105.30) scale(0.9,1.04)" x="-4.74" y="12.41" font-size="24.32">*</text>
<text transform="translate(645.50,90.50) scale(0.9,1.04)" x="-4.74" y="12.41" font-size="24.32">*</text>
<text x="0.71" y="386.00" font-size="35" textLength="23.33" lengthAdjust="spacingAndGlyphs" fill="#000">C</text>
<g stroke="#828282" fill="none">
<line x1="96.70" y1="451.20" x2="96.70" y2="633.20" stroke-width="1.8"/>
<line x1="93.50" y1="610.45" x2="96.70" y2="610.45" stroke-width="1.5"/>
<line x1="93.50" y1="587.70" x2="96.70" y2="587.70" stroke-width="1.5"/>
<line x1="93.50" y1="564.95" x2="96.70" y2="564.95" stroke-width="1.5"/>
<line x1="93.50" y1="542.20" x2="96.70" y2="542.20" stroke-width="1.5"/>
<line x1="93.50" y1="519.45" x2="96.70" y2="519.45" stroke-width="1.5"/>
<line x1="93.50" y1="496.70" x2="96.70" y2="496.70" stroke-width="1.5"/>
<line x1="93.50" y1="473.95" x2="96.70" y2="473.95" stroke-width="1.5"/>
<line x1="93.50" y1="451.20" x2="96.70" y2="451.20" stroke-width="1.5"/>
<line x1="93.50" y1="633.20" x2="322.60" y2="633.20" stroke-width="2.3"/>
</g>
<text x="77.63" y="639.21" font-size="22" textLength="11.62" lengthAdjust="spacingAndGlyphs" fill="#000">0</text>
<text x="65.93" y="616.16" font-size="22" textLength="23.24" lengthAdjust="spacingAndGlyphs" fill="#000">10</text>
<text x="65.93" y="593.11" font-size="22" textLength="23.24" lengthAdjust="spacingAndGlyphs" fill="#000">20</text>
<text x="65.93" y="570.06" font-size="22" textLength="23.24" lengthAdjust="spacingAndGlyphs" fill="#000">30</text>
<text x="65.93" y="547.01" font-size="22" textLength="23.24" lengthAdjust="spacingAndGlyphs" fill="#000">40</text>
<text x="65.93" y="523.96" font-size="22" textLength="23.24" lengthAdjust="spacingAndGlyphs" fill="#000">50</text>
<text x="65.93" y="500.91" font-size="22" textLength="23.24" lengthAdjust="spacingAndGlyphs" fill="#000">60</text>
<text x="65.93" y="477.86" font-size="22" textLength="23.24" lengthAdjust="spacingAndGlyphs" fill="#000">70</text>
<text x="65.93" y="454.81" font-size="22" textLength="23.24" lengthAdjust="spacingAndGlyphs" fill="#000">80</text>
<text x="119.52" y="657.00" font-size="21.8" textLength="11.27" lengthAdjust="spacingAndGlyphs" fill="#000">1</text>
<text x="177.73" y="657.00" font-size="21.8" textLength="11.27" lengthAdjust="spacingAndGlyphs" fill="#000">3</text>
<text x="235.32" y="657.00" font-size="21.8" textLength="11.27" lengthAdjust="spacingAndGlyphs" fill="#000">5</text>
<text x="292.82" y="657.00" font-size="21.8" textLength="11.27" lengthAdjust="spacingAndGlyphs" fill="#000">7</text>
<text x="155.99" y="685.00" font-size="22" textLength="117.64" lengthAdjust="spacingAndGlyphs" fill="#000">Time (days)</text>
<text transform="translate(55.90,663.51) rotate(-90)" x="0" y="0" font-size="21.3" textLength="289.58" lengthAdjust="spacingAndGlyphs">Relative cell number (x1000)</text>
<line x1="111.2" y1="408.8" x2="140.5" y2="408.8" stroke="#df2621" stroke-width="2.7"/>
<rect x="120.35" y="403.30" width="11.00" height="11.00" rx="1" fill="#df2621"/>
<line x1="111.2" y1="433.3" x2="140.5" y2="433.3" stroke="#000" stroke-width="2.7"/>
<path d="M125.85,429.40 L130.05,437.80 L121.65,437.80 Z" fill="#000" stroke="#000" stroke-width="1" stroke-linejoin="round"/>
<text x="153.50" y="416.00" font-size="22" textLength="83.46" lengthAdjust="spacingAndGlyphs" fill="#000">miR-145</text>
<text x="154.36" y="440.50" font-size="22" textLength="80.17" lengthAdjust="spacingAndGlyphs" fill="#000">AllStars</text>
<polyline points="125.40,619.20 181.80,613.00 238.50,545.80 295.10,531.60" fill="none" stroke="#df2621" stroke-width="3.6" stroke-linejoin="round"/>
<polyline points="125.40,616.30 181.80,602.60 238.50,485.50 295.10,482.50" fill="none" stroke="#000" stroke-width="3.6" stroke-linejoin="round"/>
<line x1="125.40" y1="617.20" x2="125.40" y2="621.20" stroke="#000" stroke-width="3.0"/>
<rect x="122.00" y="615.40" width="6.80" height="3.60" fill="#000"/>
<rect x="122.00" y="619.40" width="6.80" height="3.60" fill="#000"/>
<line x1="181.80" y1="610.00" x2="181.80" y2="616.00" stroke="#000" stroke-width="3.0"/>
<rect x="178.40" y="608.20" width="6.80" height="3.60" fill="#000"/>
<rect x="178.40" y="614.20" width="6.80" height="3.60" fill="#000"/>
<line x1="238.50" y1="537.90" x2="238.50" y2="553.70" stroke="#000" stroke-width="3.0"/>
<rect x="235.10" y="536.10" width="6.80" height="3.60" fill="#000"/>
<rect x="235.10" y="551.90" width="6.80" height="3.60" fill="#000"/>
<line x1="295.10" y1="523.60" x2="295.10" y2="539.60" stroke="#000" stroke-width="3.0"/>
<rect x="291.70" y="521.80" width="6.80" height="3.60" fill="#000"/>
<rect x="291.70" y="537.80" width="6.80" height="3.60" fill="#000"/>
<line x1="125.40" y1="613.30" x2="125.40" y2="619.30" stroke="#000" stroke-width="3.0"/>
<rect x="122.00" y="611.50" width="6.80" height="3.60" fill="#000"/>
<rect x="122.00" y="617.50" width="6.80" height="3.60" fill="#000"/>
<line x1="181.80" y1="600.60" x2="181.80" y2="604.60" stroke="#000" stroke-width="3.0"/>
<rect x="178.40" y="598.80" width="6.80" height="3.60" fill="#000"/>
<rect x="178.40" y="602.80" width="6.80" height="3.60" fill="#000"/>
<line x1="238.50" y1="475.20" x2="238.50" y2="495.80" stroke="#000" stroke-width="3.0"/>
<rect x="235.10" y="473.40" width="6.80" height="3.60" fill="#000"/>
<rect x="235.10" y="494.00" width="6.80" height="3.60" fill="#000"/>
<line x1="295.10" y1="474.40" x2="295.10" y2="490.60" stroke="#000" stroke-width="3.0"/>
<rect x="291.70" y="472.60" width="6.80" height="3.60" fill="#000"/>
<rect x="291.70" y="488.80" width="6.80" height="3.60" fill="#000"/>
<rect x="119.20" y="613.00" width="12.40" height="12.40" rx="1" fill="#df2621"/>
<rect x="175.60" y="606.80" width="12.40" height="12.40" rx="1" fill="#df2621"/>
<rect x="232.30" y="539.60" width="12.40" height="12.40" rx="1" fill="#df2621"/>
<rect x="288.90" y="525.40" width="12.40" height="12.40" rx="1" fill="#df2621"/>
<path d="M125.40,609.20 L131.20,622.20 L119.60,622.20 Z" fill="#000" stroke="#000" stroke-width="1" stroke-linejoin="round"/>
<path d="M181.80,595.50 L187.60,608.50 L176.00,608.50 Z" fill="#000" stroke="#000" stroke-width="1" stroke-linejoin="round"/>
<path d="M238.50,478.40 L244.30,491.40 L232.70,491.40 Z" fill="#000" stroke="#000" stroke-width="1" stroke-linejoin="round"/>
<path d="M295.10,475.40 L300.90,488.40 L289.30,488.40 Z" fill="#000" stroke="#000" stroke-width="1" stroke-linejoin="round"/>
<text transform="translate(180.50,561.60) scale(0.9,1.04)" x="-4.74" y="12.41" font-size="24.32">*</text>
<text transform="translate(237.70,457.40) scale(0.9,1.04)" x="-4.74" y="12.41" font-size="24.32">*</text>
<text transform="translate(294.60,448.20) scale(0.9,1.04)" x="-4.74" y="12.41" font-size="24.32">*</text>
<text x="345.59" y="386.00" font-size="35" textLength="24.86" lengthAdjust="spacingAndGlyphs" fill="#000">D</text>
<g stroke="#828282" fill="none">
<line x1="457.70" y1="446.20" x2="457.70" y2="633.20" stroke-width="1.8"/>
<line x1="454.00" y1="595.80" x2="457.70" y2="595.80" stroke-width="1.5"/>
<line x1="454.00" y1="558.40" x2="457.70" y2="558.40" stroke-width="1.5"/>
<line x1="454.00" y1="521.00" x2="457.70" y2="521.00" stroke-width="1.5"/>
<line x1="454.00" y1="483.60" x2="457.70" y2="483.60" stroke-width="1.5"/>
<line x1="454.00" y1="446.20" x2="457.70" y2="446.20" stroke-width="1.5"/>
<line x1="454.00" y1="633.20" x2="684.50" y2="633.20" stroke-width="2.3"/>
</g>
<text x="438.63" y="639.21" font-size="22" textLength="11.62" lengthAdjust="spacingAndGlyphs" fill="#000">0</text>
<text x="426.93" y="602.33" font-size="22" textLength="23.24" lengthAdjust="spacingAndGlyphs" fill="#000">50</text>
<text x="415.43" y="565.45" font-size="22" textLength="34.87" lengthAdjust="spacingAndGlyphs" fill="#000">100</text>
<text x="415.43" y="528.57" font-size="22" textLength="34.87" lengthAdjust="spacingAndGlyphs" fill="#000">150</text>
<text x="415.43" y="491.69" font-size="22" textLength="34.87" lengthAdjust="spacingAndGlyphs" fill="#000">200</text>
<text x="415.43" y="454.81" font-size="22" textLength="34.87" lengthAdjust="spacingAndGlyphs" fill="#000">250</text>
<text x="480.62" y="657.00" font-size="21.8" textLength="11.27" lengthAdjust="spacingAndGlyphs" fill="#000">1</text>
<text x="538.32" y="657.00" font-size="21.8" textLength="11.27" lengthAdjust="spacingAndGlyphs" fill="#000">4</text>
<text x="596.12" y="657.00" font-size="21.8" textLength="11.27" lengthAdjust="spacingAndGlyphs" fill="#000">6</text>
<text x="653.92" y="657.00" font-size="21.8" textLength="11.27" lengthAdjust="spacingAndGlyphs" fill="#000">8</text>
<text x="518.38" y="685.00" font-size="22" textLength="119.56" lengthAdjust="spacingAndGlyphs" fill="#000">Time (days)</text>
<text transform="translate(403.80,663.51) rotate(-90)" x="0" y="0" font-size="21.3" textLength="289.58" lengthAdjust="spacingAndGlyphs">Relative cell number (x1000)</text>
<line x1="470.2" y1="408.4" x2="499.9" y2="408.4" stroke="#df2621" stroke-width="2.7"/>
<rect x="479.40" y="402.75" width="11.30" height="11.30" rx="1" fill="#df2621"/>
<line x1="470.2" y1="433.3" x2="499.9" y2="433.3" stroke="#000" stroke-width="2.7"/>
<path d="M485.05,429.40 L489.25,437.80 L480.85,437.80 Z" fill="#000" stroke="#000" stroke-width="1" stroke-linejoin="round"/>
<text x="507.30" y="416.00" font-size="22" textLength="83.56" lengthAdjust="spacingAndGlyphs" fill="#000">miR-575</text>
<text x="508.16" y="440.50" font-size="22" textLength="80.17" lengthAdjust="spacingAndGlyphs" fill="#000">AllStars</text>
<polyline points="486.30,624.10 542.70,592.00 599.30,545.50 655.80,487.50" fill="none" stroke="#000" stroke-width="3.6" stroke-linejoin="round"/>
<polyline points="486.30,608.30 542.70,528.20 599.30,515.80 655.80,477.80" fill="none" stroke="#df2621" stroke-width="3.6" stroke-linejoin="round"/>
<line x1="486.30" y1="622.10" x2="486.30" y2="626.10" stroke="#000" stroke-width="3.0"/>
<rect x="482.90" y="620.30" width="6.80" height="3.60" fill="#000"/>
<rect x="482.90" y="624.30" width="6.80" height="3.60" fill="#000"/>
<line x1="542.70" y1="589.00" x2="542.70" y2="595.00" stroke="#000" stroke-width="3.0"/>
<rect x="539.30" y="587.20" width="6.80" height="3.60" fill="#000"/>
<rect x="539.30" y="593.20" width="6.80" height="3.60" fill="#000"/>
<line x1="599.30" y1="532.90" x2="599.30" y2="558.10" stroke="#000" stroke-width="3.0"/>
<rect x="595.90" y="531.10" width="6.80" height="3.60" fill="#000"/>
<rect x="595.90" y="556.30" width="6.80" height="3.60" fill="#000"/>
<line x1="655.80" y1="483.50" x2="655.80" y2="491.50" stroke="#000" stroke-width="3.0"/>
<rect x="652.40" y="481.70" width="6.80" height="3.60" fill="#000"/>
<rect x="652.40" y="489.70" width="6.80" height="3.60" fill="#000"/>
<line x1="486.30" y1="605.30" x2="486.30" y2="611.30" stroke="#000" stroke-width="3.0"/>
<rect x="482.90" y="603.50" width="6.80" height="3.60" fill="#000"/>
<rect x="482.90" y="609.50" width="6.80" height="3.60" fill="#000"/>
<line x1="542.70" y1="525.20" x2="542.70" y2="531.20" stroke="#000" stroke-width="3.0"/>
<rect x="539.30" y="523.40" width="6.80" height="3.60" fill="#000"/>
<rect x="539.30" y="529.40" width="6.80" height="3.60" fill="#000"/>
<line x1="599.30" y1="506.50" x2="599.30" y2="525.10" stroke="#000" stroke-width="3.0"/>
<rect x="595.90" y="504.70" width="6.80" height="3.60" fill="#000"/>
<rect x="595.90" y="523.30" width="6.80" height="3.60" fill="#000"/>
<line x1="655.80" y1="471.80" x2="655.80" y2="483.80" stroke="#000" stroke-width="3.0"/>
<rect x="652.40" y="470.00" width="6.80" height="3.60" fill="#000"/>
<rect x="652.40" y="482.00" width="6.80" height="3.60" fill="#000"/>
<path d="M486.30,617.00 L492.10,630.00 L480.50,630.00 Z" fill="#000" stroke="#000" stroke-width="1" stroke-linejoin="round"/>
<path d="M542.70,584.90 L548.50,597.90 L536.90,597.90 Z" fill="#000" stroke="#000" stroke-width="1" stroke-linejoin="round"/>
<path d="M599.30,538.40 L605.10,551.40 L593.50,551.40 Z" fill="#000" stroke="#000" stroke-width="1" stroke-linejoin="round"/>
<path d="M655.80,480.40 L661.60,493.40 L650.00,493.40 Z" fill="#000" stroke="#000" stroke-width="1" stroke-linejoin="round"/>
<rect x="480.10" y="602.10" width="12.40" height="12.40" rx="1" fill="#df2621"/>
<rect x="536.50" y="522.00" width="12.40" height="12.40" rx="1" fill="#df2621"/>
<rect x="593.10" y="509.60" width="12.40" height="12.40" rx="1" fill="#df2621"/>
<rect x="649.60" y="471.60" width="12.40" height="12.40" rx="1" fill="#df2621"/>
<text transform="translate(542.70,494.70) scale(0.9,1.04)" x="-4.74" y="12.41" font-size="24.32">*</text>
<text transform="translate(597.30,474.90) scale(0.9,1.04)" x="-4.74" y="12.41" font-size="24.32">*</text>
<text x="0.07" y="753.00" font-size="35" textLength="22.15" lengthAdjust="spacingAndGlyphs" fill="#000">E</text>
<rect x="116.00" y="822.30" width="16.60" height="143.50" fill="#a6a6a6" stroke="#000" stroke-width="2.2"/>
<rect x="146.00" y="906.69" width="16.40" height="59.11" fill="#a6a6a6" stroke="#000" stroke-width="2.2"/>
<g stroke="#828282" fill="none">
<line x1="109.60" y1="763.50" x2="109.60" y2="965.80" stroke-width="2.5"/>
<line x1="107.00" y1="936.90" x2="109.60" y2="936.90" stroke-width="2.5"/>
<line x1="107.00" y1="908.00" x2="109.60" y2="908.00" stroke-width="2.5"/>
<line x1="107.00" y1="879.10" x2="109.60" y2="879.10" stroke-width="2.5"/>
<line x1="107.00" y1="850.20" x2="109.60" y2="850.20" stroke-width="2.5"/>
<line x1="107.00" y1="821.30" x2="109.60" y2="821.30" stroke-width="2.5"/>
<line x1="107.00" y1="792.40" x2="109.60" y2="792.40" stroke-width="2.5"/>
<line x1="107.00" y1="763.50" x2="109.60" y2="763.50" stroke-width="2.5"/>
<line x1="107.00" y1="965.80" x2="169.00" y2="965.80" stroke-width="2.5"/>
</g>
<text x="92.13" y="973.11" font-size="22" textLength="11.62" lengthAdjust="spacingAndGlyphs" fill="#000">0</text>
<text x="80.43" y="944.34" font-size="22" textLength="23.24" lengthAdjust="spacingAndGlyphs" fill="#000">20</text>
<text x="80.43" y="915.57" font-size="22" textLength="23.24" lengthAdjust="spacingAndGlyphs" fill="#000">40</text>
<text x="80.43" y="886.80" font-size="22" textLength="23.24" lengthAdjust="spacingAndGlyphs" fill="#000">60</text>
<text x="80.43" y="858.02" font-size="22" textLength="23.24" lengthAdjust="spacingAndGlyphs" fill="#000">80</text>
<text x="68.93" y="829.25" font-size="22" textLength="34.87" lengthAdjust="spacingAndGlyphs" fill="#000">100</text>
<text x="68.93" y="800.48" font-size="22" textLength="34.87" lengthAdjust="spacingAndGlyphs" fill="#000">120</text>
<text x="68.93" y="771.71" font-size="22" textLength="34.87" lengthAdjust="spacingAndGlyphs" fill="#000">140</text>
<line x1="124.30" y1="788.40" x2="124.30" y2="854.60" stroke="#000" stroke-width="2.6"/>
<rect x="120.30" y="787.20" width="8.00" height="2.40" fill="#000"/>
<rect x="120.30" y="853.40" width="8.00" height="2.40" fill="#000"/>
<line x1="154.20" y1="891.00" x2="154.20" y2="919.00" stroke="#000" stroke-width="2.6"/>
<rect x="150.20" y="889.80" width="8.00" height="2.40" fill="#000"/>
<rect x="150.20" y="917.80" width="8.00" height="2.40" fill="#000"/>
<text transform="translate(157.00,872.90) scale(0.9,1.04)" x="-4.74" y="12.41" font-size="24.32">*</text>
<text transform="translate(130.60,1057.84) rotate(-90)" x="0" y="0" font-size="21" textLength="80.88" lengthAdjust="spacingAndGlyphs">AllStars</text>
<text transform="translate(164.70,1061.32) rotate(-90)" x="0" y="0" font-size="21" textLength="84.48" lengthAdjust="spacingAndGlyphs">miR-145</text>
<text transform="translate(55.50,999.06) rotate(-90)" x="0" y="0" font-size="21.3" textLength="257.25" lengthAdjust="spacingAndGlyphs">Colony number (Percent)</text>
<text x="218.66" y="771.60" font-size="22" textLength="80.68" lengthAdjust="spacingAndGlyphs" fill="#000">AllStars</text>
<text x="216.88" y="1030.70" font-size="22" textLength="84.48" lengthAdjust="spacingAndGlyphs" fill="#000">miR-145</text>
<text x="345.80" y="753.00" font-size="35" textLength="19.16" lengthAdjust="spacingAndGlyphs" fill="#000">F</text>
<rect x="469.80" y="903.27" width="14.90" height="66.43" fill="#a6a6a6" stroke="#000" stroke-width="2.2"/>
<rect x="499.10" y="807.52" width="13.50" height="162.18" fill="#a6a6a6" stroke="#000" stroke-width="2.2"/>
<g stroke="#828282" fill="none">
<line x1="462.60" y1="767.41" x2="462.60" y2="969.70" stroke-width="2.5"/>
<line x1="459.50" y1="935.99" x2="462.60" y2="935.99" stroke-width="2.5"/>
<line x1="459.50" y1="902.27" x2="462.60" y2="902.27" stroke-width="2.5"/>
<line x1="459.50" y1="868.56" x2="462.60" y2="868.56" stroke-width="2.5"/>
<line x1="459.50" y1="834.84" x2="462.60" y2="834.84" stroke-width="2.5"/>
<line x1="459.50" y1="801.12" x2="462.60" y2="801.12" stroke-width="2.5"/>
<line x1="459.50" y1="767.41" x2="462.60" y2="767.41" stroke-width="2.5"/>
<line x1="459.50" y1="969.70" x2="530.20" y2="969.70" stroke-width="2.5"/>
</g>
<text x="443.65" y="977.01" font-size="22" textLength="11.93" lengthAdjust="spacingAndGlyphs" fill="#000">0</text>
<text x="431.63" y="943.44" font-size="22" textLength="23.86" lengthAdjust="spacingAndGlyphs" fill="#000">50</text>
<text x="419.84" y="909.88" font-size="22" textLength="35.78" lengthAdjust="spacingAndGlyphs" fill="#000">100</text>
<text x="419.84" y="876.31" font-size="22" textLength="35.78" lengthAdjust="spacingAndGlyphs" fill="#000">150</text>
<text x="419.84" y="842.74" font-size="22" textLength="35.78" lengthAdjust="spacingAndGlyphs" fill="#000">200</text>
<text x="419.84" y="809.18" font-size="22" textLength="35.78" lengthAdjust="spacingAndGlyphs" fill="#000">250</text>
<text x="419.84" y="775.61" font-size="22" textLength="35.78" lengthAdjust="spacingAndGlyphs" fill="#000">300</text>
<line x1="477.30" y1="886.40" x2="477.30" y2="918.00" stroke="#000" stroke-width="2.6"/>
<rect x="473.30" y="885.20" width="8.00" height="2.40" fill="#000"/>
<rect x="473.30" y="916.80" width="8.00" height="2.40" fill="#000"/>
<line x1="505.60" y1="785.20" x2="505.60" y2="829.80" stroke="#000" stroke-width="2.6"/>
<rect x="501.60" y="784.00" width="8.00" height="2.40" fill="#000"/>
<rect x="501.60" y="828.60" width="8.00" height="2.40" fill="#000"/>
<text transform="translate(507.00,760.80) scale(0.9,1.04)" x="-4.74" y="12.41" font-size="24.32">*</text>
<text transform="translate(483.50,1061.44) rotate(-90)" x="0" y="0" font-size="21" textLength="80.78" lengthAdjust="spacingAndGlyphs">AllStars</text>
<text transform="translate(514.00,1065.02) rotate(-90)" x="0" y="0" font-size="21" textLength="84.69" lengthAdjust="spacingAndGlyphs">miR-575</text>
<text transform="translate(403.90,993.16) rotate(-90)" x="0" y="0" font-size="21.3" textLength="251.40" lengthAdjust="spacingAndGlyphs">Colonynumber (Percent)</text>
<text x="588.06" y="771.50" font-size="22" textLength="81.19" lengthAdjust="spacingAndGlyphs" fill="#000">AllStars</text>
<text x="586.60" y="1030.40" font-size="22" textLength="83.56" lengthAdjust="spacingAndGlyphs" fill="#000">miR-575</text>
</svg>
</body></html>
